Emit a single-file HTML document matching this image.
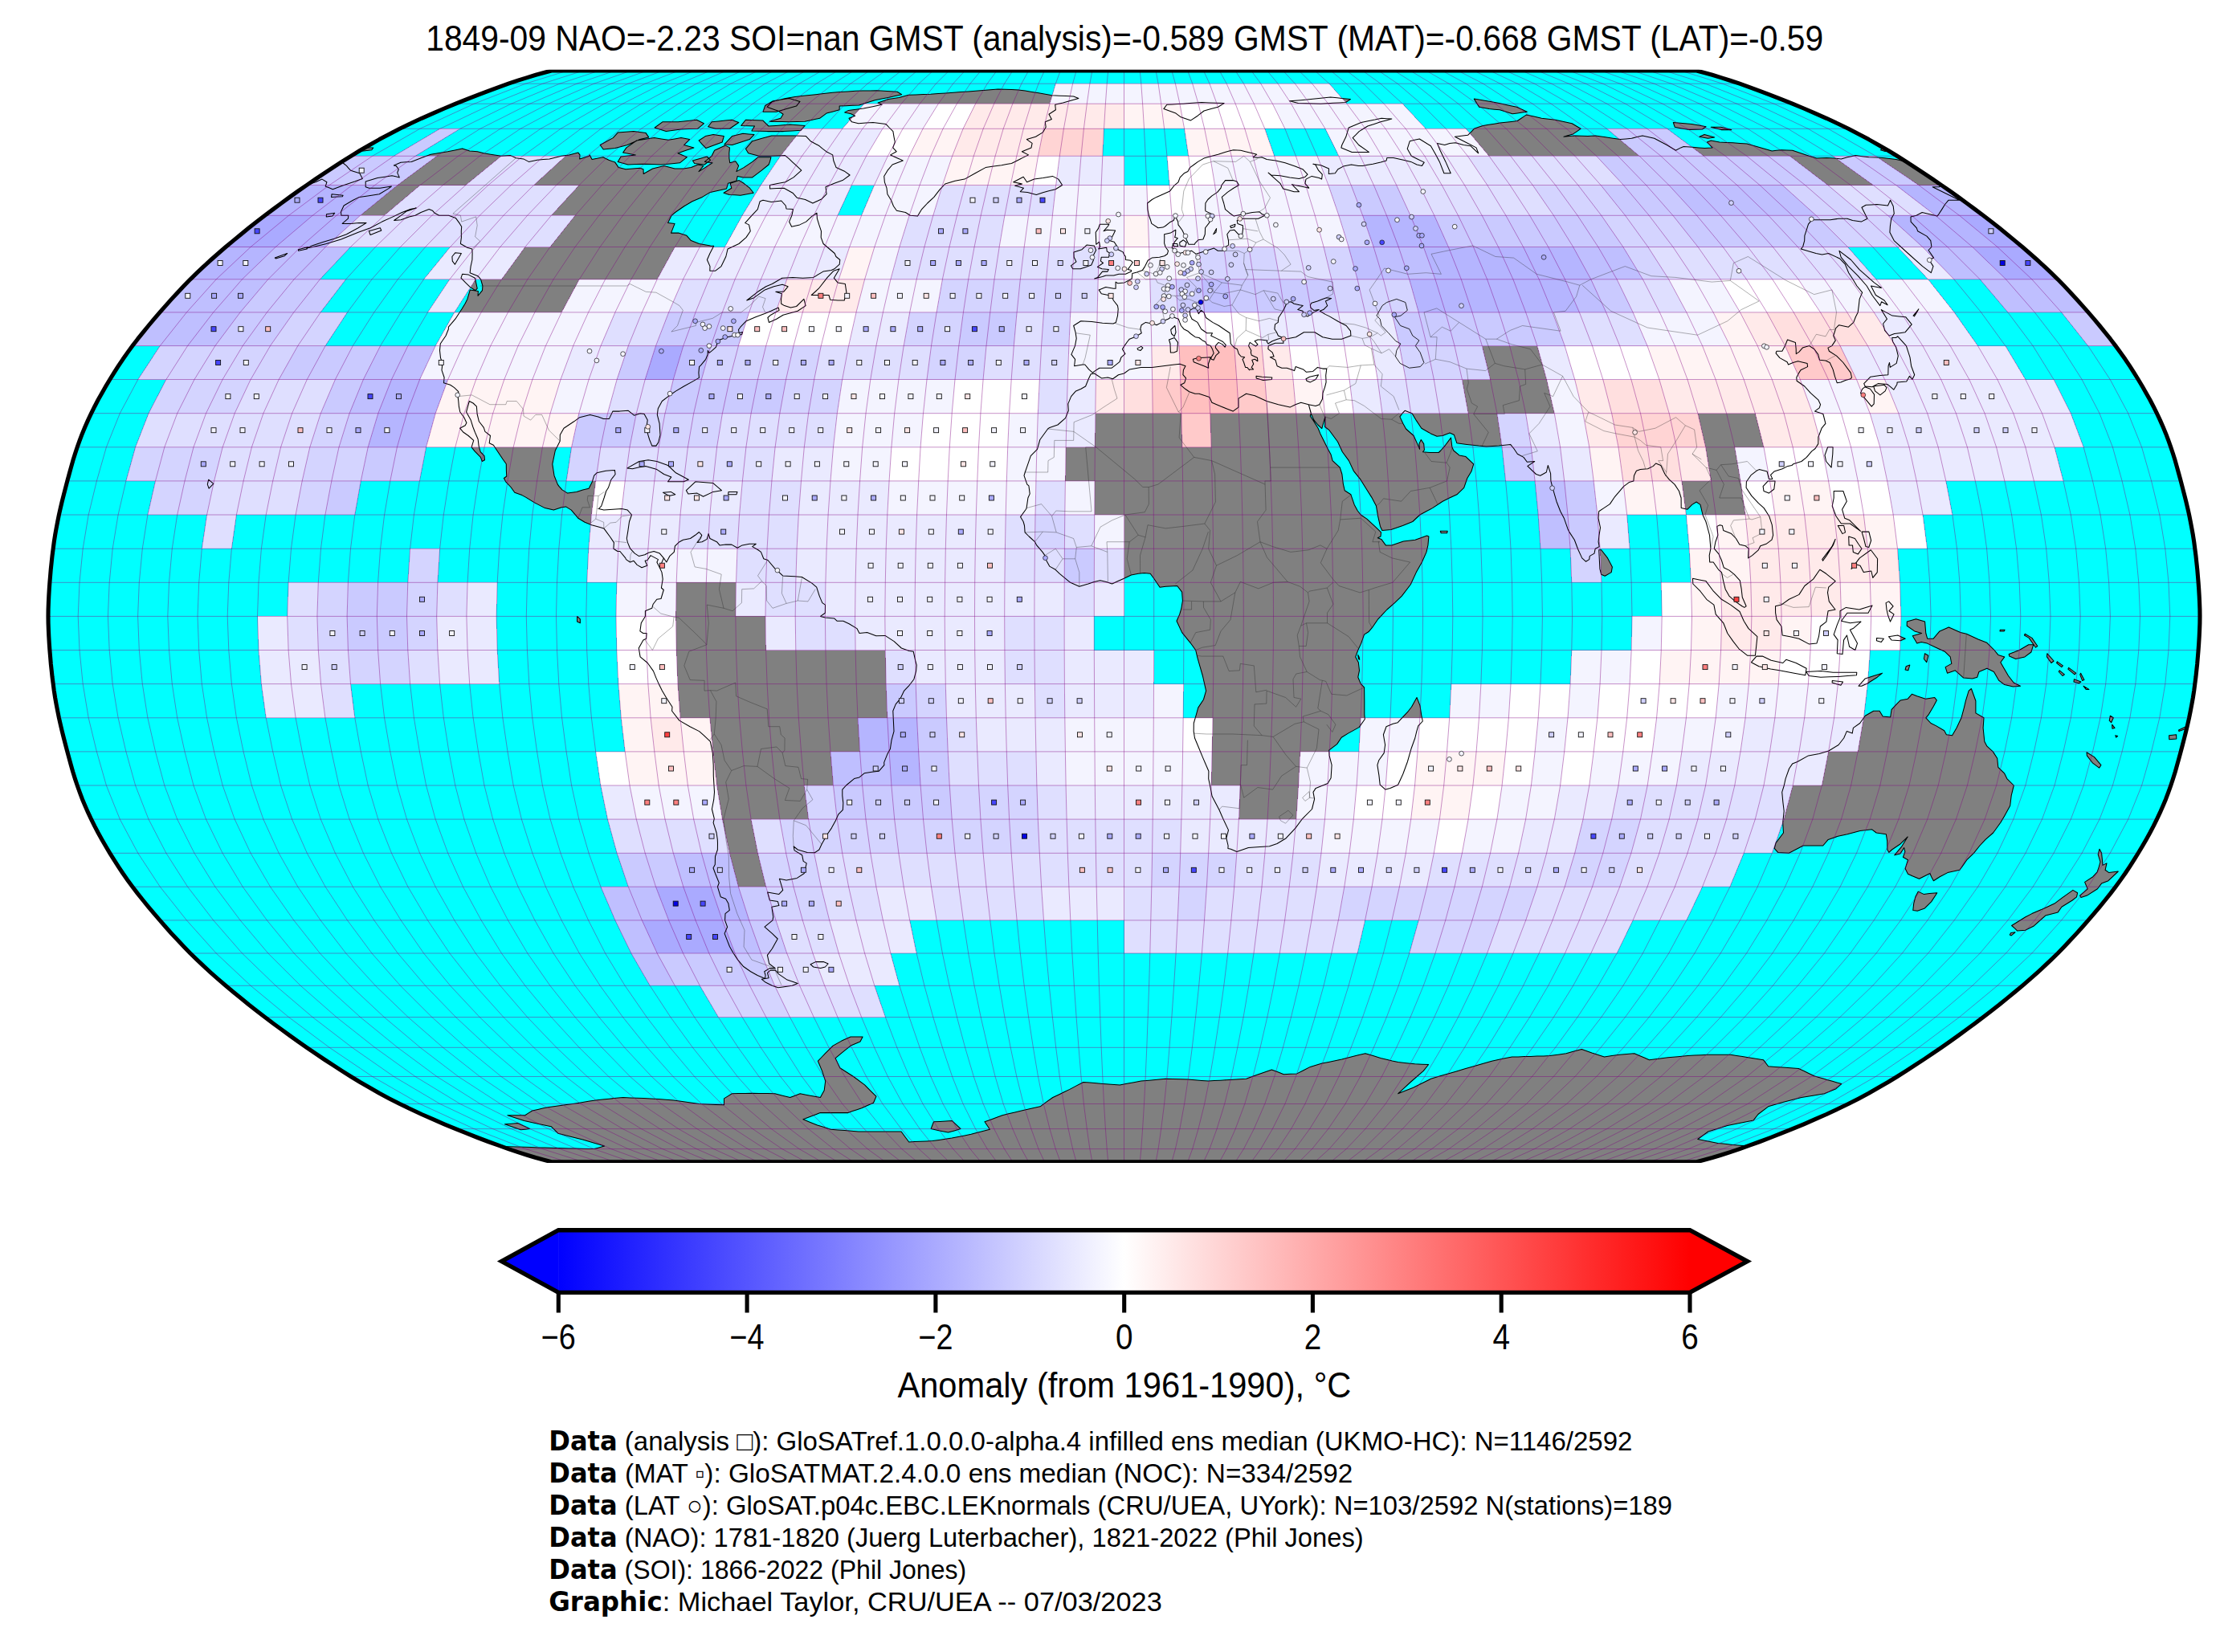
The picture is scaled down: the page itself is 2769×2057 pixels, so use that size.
<!DOCTYPE html>
<html><head><meta charset="utf-8"><title>GloSAT 1849-09</title>
<style>html,body{margin:0;padding:0;background:#fff}svg{display:block}text{font-family:"Liberation Sans","DejaVu Sans",sans-serif;fill:#000}.b{font-family:"DejaVu Sans","Liberation Sans",sans-serif;font-weight:bold}</style></head><body>
<svg width="2769" height="2057" viewBox="0 0 2769 2057">
<rect width="2769" height="2057" fill="#fff"/>
<defs><clipPath id="oc"><path d="M2112.4,88 L2121.8,90.5 L2131.9,93.3 L2142.7,96.6 L2154.1,100.2 L2166,104.2 L2178.3,108.6 L2191.2,113.3 L2204.4,118.3 L2217.9,123.6 L2231.7,129.2 L2245.8,135 L2259.9,141.1 L2274,147.3 L2287.8,153.8 L2301.3,160.3 L2314.2,166.9 L2326.7,173.6 L2338.8,180.5 L2350.6,187.3 L2362.1,194.3 L2373.4,201.4 L2384.5,208.6 L2395.5,215.8 L2406.4,223.1 L2417.1,230.5 L2427.8,237.9 L2438.3,245.4 L2448.7,253 L2459,260.6 L2469.2,268.3 L2479.3,276.1 L2489.2,283.8 L2498.9,291.7 L2508.5,299.6 L2518,307.5 L2527.2,315.5 L2536.3,323.5 L2545.2,331.6 L2553.7,339.7 L2562.1,347.8 L2570.1,356 L2577.8,364.2 L2585.4,372.4 L2592.7,380.6 L2600,388.9 L2607.1,397.2 L2614.1,405.5 L2620.9,413.8 L2627.6,422.2 L2634,430.6 L2640.1,438.9 L2646,447.3 L2651.6,455.7 L2657,464.1 L2662.2,472.5 L2667.3,481 L2672.1,489.4 L2676.8,497.8 L2681.2,506.2 L2685.4,514.7 L2689.4,523.1 L2693.1,531.5 L2696.6,539.9 L2699.8,548.4 L2702.8,556.8 L2705.6,565.2 L2708.2,573.6 L2710.6,582.1 L2712.9,590.5 L2715.2,598.9 L2717.4,607.3 L2719.6,615.8 L2721.7,624.2 L2723.7,632.6 L2725.6,641 L2727.3,649.5 L2728.9,657.9 L2730.4,666.3 L2731.7,674.7 L2732.8,683.2 L2733.9,691.6 L2734.8,700 L2735.7,708.4 L2736.4,716.9 L2737.1,725.3 L2737.7,733.7 L2738.2,742.1 L2738.6,750.6 L2738.9,759 L2739,767.4 L2738.9,775.8 L2738.6,784.2 L2738.2,792.7 L2737.7,801.1 L2737.1,809.5 L2736.4,817.9 L2735.7,826.4 L2734.8,834.8 L2733.9,843.2 L2732.8,851.6 L2731.7,860.1 L2730.4,868.5 L2728.9,876.9 L2727.3,885.3 L2725.6,893.8 L2723.7,902.2 L2721.7,910.6 L2719.6,919 L2717.4,927.5 L2715.2,935.9 L2712.9,944.3 L2710.6,952.7 L2708.2,961.2 L2705.6,969.6 L2702.8,978 L2699.8,986.4 L2696.6,994.9 L2693.1,1003.3 L2689.4,1011.7 L2685.4,1020.1 L2681.2,1028.6 L2676.8,1037 L2672.1,1045.4 L2667.3,1053.8 L2662.2,1062.3 L2657,1070.7 L2651.6,1079.1 L2646,1087.5 L2640.1,1095.9 L2634,1104.2 L2627.6,1112.6 L2620.9,1121 L2614.1,1129.3 L2607.1,1137.6 L2600,1145.9 L2592.7,1154.2 L2585.4,1162.4 L2577.8,1170.6 L2570.1,1178.8 L2562.1,1187 L2553.7,1195.1 L2545.2,1203.2 L2536.3,1211.3 L2527.2,1219.3 L2518,1227.3 L2508.5,1235.2 L2498.9,1243.1 L2489.2,1251 L2479.3,1258.7 L2469.2,1266.5 L2459,1274.2 L2448.7,1281.8 L2438.3,1289.4 L2427.8,1296.9 L2417.1,1304.3 L2406.4,1311.7 L2395.5,1319 L2384.5,1326.2 L2373.4,1333.4 L2362.1,1340.5 L2350.6,1347.5 L2338.8,1354.3 L2326.7,1361.2 L2314.2,1367.9 L2301.3,1374.5 L2287.8,1381 L2274,1387.5 L2259.9,1393.7 L2245.8,1399.8 L2231.7,1405.6 L2217.9,1411.2 L2204.4,1416.5 L2191.2,1421.5 L2178.3,1426.2 L2166,1430.6 L2154.1,1434.6 L2142.7,1438.2 L2131.9,1441.5 L2121.8,1444.3 L2112.4,1446.8 L686.6,1446.8 L677.2,1444.3 L667.1,1441.5 L656.3,1438.2 L644.9,1434.6 L633,1430.6 L620.7,1426.2 L607.8,1421.5 L594.6,1416.5 L581.1,1411.2 L567.3,1405.6 L553.2,1399.8 L539.1,1393.7 L525,1387.5 L511.2,1381 L497.7,1374.5 L484.8,1367.9 L472.3,1361.2 L460.2,1354.3 L448.4,1347.5 L436.9,1340.5 L425.6,1333.4 L414.5,1326.2 L403.5,1319 L392.6,1311.7 L381.9,1304.3 L371.2,1296.9 L360.7,1289.4 L350.3,1281.8 L340,1274.2 L329.8,1266.5 L319.7,1258.7 L309.8,1251 L300.1,1243.1 L290.5,1235.2 L281,1227.3 L271.8,1219.3 L262.7,1211.3 L253.8,1203.2 L245.3,1195.1 L236.9,1187 L228.9,1178.8 L221.2,1170.6 L213.6,1162.4 L206.3,1154.2 L199,1145.9 L191.9,1137.6 L184.9,1129.3 L178.1,1121 L171.4,1112.6 L165,1104.2 L158.9,1095.9 L153,1087.5 L147.4,1079.1 L142,1070.7 L136.8,1062.3 L131.7,1053.8 L126.9,1045.4 L122.2,1037 L117.8,1028.6 L113.6,1020.1 L109.6,1011.7 L105.9,1003.3 L102.4,994.9 L99.2,986.4 L96.2,978 L93.4,969.6 L90.8,961.2 L88.4,952.7 L86.1,944.3 L83.8,935.9 L81.6,927.5 L79.4,919 L77.3,910.6 L75.3,902.2 L73.4,893.8 L71.7,885.3 L70.1,876.9 L68.6,868.5 L67.3,860.1 L66.2,851.6 L65.1,843.2 L64.2,834.8 L63.3,826.4 L62.6,817.9 L61.9,809.5 L61.3,801.1 L60.8,792.7 L60.4,784.2 L60.1,775.8 L60,767.4 L60.1,759 L60.4,750.6 L60.8,742.1 L61.3,733.7 L61.9,725.3 L62.6,716.9 L63.3,708.4 L64.2,700 L65.1,691.6 L66.2,683.2 L67.3,674.7 L68.6,666.3 L70.1,657.9 L71.7,649.5 L73.4,641 L75.3,632.6 L77.3,624.2 L79.4,615.8 L81.6,607.3 L83.8,598.9 L86.1,590.5 L88.4,582.1 L90.8,573.6 L93.4,565.2 L96.2,556.8 L99.2,548.4 L102.4,539.9 L105.9,531.5 L109.6,523.1 L113.6,514.7 L117.8,506.2 L122.2,497.8 L126.9,489.4 L131.7,481 L136.8,472.5 L142,464.1 L147.4,455.7 L153,447.3 L158.9,438.9 L165,430.6 L171.4,422.2 L178.1,413.8 L184.9,405.5 L191.9,397.2 L199,388.9 L206.3,380.6 L213.6,372.4 L221.2,364.2 L228.9,356 L236.9,347.8 L245.3,339.7 L253.8,331.6 L262.7,323.5 L271.8,315.5 L281,307.5 L290.5,299.6 L300.1,291.7 L309.8,283.8 L319.7,276.1 L329.8,268.3 L340,260.6 L350.3,253 L360.7,245.4 L371.2,237.9 L381.9,230.5 L392.6,223.1 L403.5,215.8 L414.5,208.6 L425.6,201.4 L436.9,194.3 L448.4,187.3 L460.2,180.5 L472.3,173.6 L484.8,166.9 L497.7,160.3 L511.2,153.8 L525,147.3 L539.1,141.1 L553.2,135 L567.3,129.2 L581.1,123.6 L594.6,118.3 L607.8,113.3 L620.7,108.6 L633,104.2 L644.9,100.2 L656.3,96.6 L667.1,93.3 L677.2,90.5 L686.6,88Z"/></clipPath>
<defs><clipPath id="tb"><rect x="0" y="86.7" width="2769" height="1361.4"/></clipPath></defs>
<linearGradient id="cb" x1="0" x2="1" y1="0" y2="0"><stop offset="0" stop-color="#0000ff"/><stop offset="0.5" stop-color="#ffffff"/><stop offset="1" stop-color="#ff0000"/></linearGradient></defs>
<g clip-path="url(#oc)">
<path d="M2112.4,88 L2121.8,90.5 L2131.9,93.3 L2142.7,96.6 L2154.1,100.2 L2166,104.2 L2178.3,108.6 L2191.2,113.3 L2204.4,118.3 L2217.9,123.6 L2231.7,129.2 L2245.8,135 L2259.9,141.1 L2274,147.3 L2287.8,153.8 L2301.3,160.3 L2314.2,166.9 L2326.7,173.6 L2338.8,180.5 L2350.6,187.3 L2362.1,194.3 L2373.4,201.4 L2384.5,208.6 L2395.5,215.8 L2406.4,223.1 L2417.1,230.5 L2427.8,237.9 L2438.3,245.4 L2448.7,253 L2459,260.6 L2469.2,268.3 L2479.3,276.1 L2489.2,283.8 L2498.9,291.7 L2508.5,299.6 L2518,307.5 L2527.2,315.5 L2536.3,323.5 L2545.2,331.6 L2553.7,339.7 L2562.1,347.8 L2570.1,356 L2577.8,364.2 L2585.4,372.4 L2592.7,380.6 L2600,388.9 L2607.1,397.2 L2614.1,405.5 L2620.9,413.8 L2627.6,422.2 L2634,430.6 L2640.1,438.9 L2646,447.3 L2651.6,455.7 L2657,464.1 L2662.2,472.5 L2667.3,481 L2672.1,489.4 L2676.8,497.8 L2681.2,506.2 L2685.4,514.7 L2689.4,523.1 L2693.1,531.5 L2696.6,539.9 L2699.8,548.4 L2702.8,556.8 L2705.6,565.2 L2708.2,573.6 L2710.6,582.1 L2712.9,590.5 L2715.2,598.9 L2717.4,607.3 L2719.6,615.8 L2721.7,624.2 L2723.7,632.6 L2725.6,641 L2727.3,649.5 L2728.9,657.9 L2730.4,666.3 L2731.7,674.7 L2732.8,683.2 L2733.9,691.6 L2734.8,700 L2735.7,708.4 L2736.4,716.9 L2737.1,725.3 L2737.7,733.7 L2738.2,742.1 L2738.6,750.6 L2738.9,759 L2739,767.4 L2738.9,775.8 L2738.6,784.2 L2738.2,792.7 L2737.7,801.1 L2737.1,809.5 L2736.4,817.9 L2735.7,826.4 L2734.8,834.8 L2733.9,843.2 L2732.8,851.6 L2731.7,860.1 L2730.4,868.5 L2728.9,876.9 L2727.3,885.3 L2725.6,893.8 L2723.7,902.2 L2721.7,910.6 L2719.6,919 L2717.4,927.5 L2715.2,935.9 L2712.9,944.3 L2710.6,952.7 L2708.2,961.2 L2705.6,969.6 L2702.8,978 L2699.8,986.4 L2696.6,994.9 L2693.1,1003.3 L2689.4,1011.7 L2685.4,1020.1 L2681.2,1028.6 L2676.8,1037 L2672.1,1045.4 L2667.3,1053.8 L2662.2,1062.3 L2657,1070.7 L2651.6,1079.1 L2646,1087.5 L2640.1,1095.9 L2634,1104.2 L2627.6,1112.6 L2620.9,1121 L2614.1,1129.3 L2607.1,1137.6 L2600,1145.9 L2592.7,1154.2 L2585.4,1162.4 L2577.8,1170.6 L2570.1,1178.8 L2562.1,1187 L2553.7,1195.1 L2545.2,1203.2 L2536.3,1211.3 L2527.2,1219.3 L2518,1227.3 L2508.5,1235.2 L2498.9,1243.1 L2489.2,1251 L2479.3,1258.7 L2469.2,1266.5 L2459,1274.2 L2448.7,1281.8 L2438.3,1289.4 L2427.8,1296.9 L2417.1,1304.3 L2406.4,1311.7 L2395.5,1319 L2384.5,1326.2 L2373.4,1333.4 L2362.1,1340.5 L2350.6,1347.5 L2338.8,1354.3 L2326.7,1361.2 L2314.2,1367.9 L2301.3,1374.5 L2287.8,1381 L2274,1387.5 L2259.9,1393.7 L2245.8,1399.8 L2231.7,1405.6 L2217.9,1411.2 L2204.4,1416.5 L2191.2,1421.5 L2178.3,1426.2 L2166,1430.6 L2154.1,1434.6 L2142.7,1438.2 L2131.9,1441.5 L2121.8,1444.3 L2112.4,1446.8 L686.6,1446.8 L677.2,1444.3 L667.1,1441.5 L656.3,1438.2 L644.9,1434.6 L633,1430.6 L620.7,1426.2 L607.8,1421.5 L594.6,1416.5 L581.1,1411.2 L567.3,1405.6 L553.2,1399.8 L539.1,1393.7 L525,1387.5 L511.2,1381 L497.7,1374.5 L484.8,1367.9 L472.3,1361.2 L460.2,1354.3 L448.4,1347.5 L436.9,1340.5 L425.6,1333.4 L414.5,1326.2 L403.5,1319 L392.6,1311.7 L381.9,1304.3 L371.2,1296.9 L360.7,1289.4 L350.3,1281.8 L340,1274.2 L329.8,1266.5 L319.7,1258.7 L309.8,1251 L300.1,1243.1 L290.5,1235.2 L281,1227.3 L271.8,1219.3 L262.7,1211.3 L253.8,1203.2 L245.3,1195.1 L236.9,1187 L228.9,1178.8 L221.2,1170.6 L213.6,1162.4 L206.3,1154.2 L199,1145.9 L191.9,1137.6 L184.9,1129.3 L178.1,1121 L171.4,1112.6 L165,1104.2 L158.9,1095.9 L153,1087.5 L147.4,1079.1 L142,1070.7 L136.8,1062.3 L131.7,1053.8 L126.9,1045.4 L122.2,1037 L117.8,1028.6 L113.6,1020.1 L109.6,1011.7 L105.9,1003.3 L102.4,994.9 L99.2,986.4 L96.2,978 L93.4,969.6 L90.8,961.2 L88.4,952.7 L86.1,944.3 L83.8,935.9 L81.6,927.5 L79.4,919 L77.3,910.6 L75.3,902.2 L73.4,893.8 L71.7,885.3 L70.1,876.9 L68.6,868.5 L67.3,860.1 L66.2,851.6 L65.1,843.2 L64.2,834.8 L63.3,826.4 L62.6,817.9 L61.9,809.5 L61.3,801.1 L60.8,792.7 L60.4,784.2 L60.1,775.8 L60,767.4 L60.1,759 L60.4,750.6 L60.8,742.1 L61.3,733.7 L61.9,725.3 L62.6,716.9 L63.3,708.4 L64.2,700 L65.1,691.6 L66.2,683.2 L67.3,674.7 L68.6,666.3 L70.1,657.9 L71.7,649.5 L73.4,641 L75.3,632.6 L77.3,624.2 L79.4,615.8 L81.6,607.3 L83.8,598.9 L86.1,590.5 L88.4,582.1 L90.8,573.6 L93.4,565.2 L96.2,556.8 L99.2,548.4 L102.4,539.9 L105.9,531.5 L109.6,523.1 L113.6,514.7 L117.8,506.2 L122.2,497.8 L126.9,489.4 L131.7,481 L136.8,472.5 L142,464.1 L147.4,455.7 L153,447.3 L158.9,438.9 L165,430.6 L171.4,422.2 L178.1,413.8 L184.9,405.5 L191.9,397.2 L199,388.9 L206.3,380.6 L213.6,372.4 L221.2,364.2 L228.9,356 L236.9,347.8 L245.3,339.7 L253.8,331.6 L262.7,323.5 L271.8,315.5 L281,307.5 L290.5,299.6 L300.1,291.7 L309.8,283.8 L319.7,276.1 L329.8,268.3 L340,260.6 L350.3,253 L360.7,245.4 L371.2,237.9 L381.9,230.5 L392.6,223.1 L403.5,215.8 L414.5,208.6 L425.6,201.4 L436.9,194.3 L448.4,187.3 L460.2,180.5 L472.3,173.6 L484.8,166.9 L497.7,160.3 L511.2,153.8 L525,147.3 L539.1,141.1 L553.2,135 L567.3,129.2 L581.1,123.6 L594.6,118.3 L607.8,113.3 L620.7,108.6 L633,104.2 L644.9,100.2 L656.3,96.6 L667.1,93.3 L677.2,90.5 L686.6,88Z" fill="#00ffff"/>
<defs><path id="land" d="M1358.2,465.8 1362.5,465 1371.5,470.9 1379.2,470 1385.5,471.7 1392.5,466.7 1399.5,465 1406.5,459.9 1420.4,457.4 1434.3,457.4 1448.2,455.7 1462.1,454 1469,453.2 1476,455.7 1473.4,460.8 1472.9,466.7 1476.6,470.9 1474.7,476.8 1469.9,479.3 1475.7,484.3 1480.7,487.7 1487.9,490.2 1492.9,490.2 1505.8,494.4 1508.9,501.2 1520.6,506.2 1535.1,512.1 1542,507.1 1542,496.1 1551.6,490.2 1562.4,492.8 1577,499.5 1591.6,503.7 1606.1,507.1 1612.9,503.7 1619.8,501.2 1629.3,503.7 1632.4,514.7 1631.3,518 1635.3,523.9 1641.1,533.2 1643.8,539.9 1648.8,550 1653,558.5 1657.1,566.1 1659.1,573.6 1668.3,582.1 1670.9,590.5 1672.3,602.3 1674.2,610.7 1681.9,615.8 1686.2,628.4 1690.3,636 1694.2,641 1701.8,646.1 1712.6,656.2 1718,661.3 1719.5,662.9 1719,668 1715.3,669.7 1719.8,671.4 1725.3,678.9 1732.7,678.9 1747.3,673.9 1762,672.2 1776.6,667.1 1778.9,668 1777.9,678.9 1776,687.4 1770.4,700 1763.3,712.6 1756.3,727.8 1745.3,742.1 1736.5,750.6 1726.9,759 1715.8,770.8 1708.3,781.7 1703.8,786.8 1698.5,790.1 1694.7,801.1 1690.8,809.5 1687.7,817.9 1691.3,824.7 1692.5,834.8 1690.8,843.2 1694.3,851.6 1698.6,855.9 1698.8,872.7 1698.8,889.6 1699.3,895.5 1692.1,905.6 1678.5,913.1 1670.2,918.2 1664.6,926.6 1654.7,934.2 1655.1,940.9 1658.1,952.7 1657.1,968.7 1653.1,975.5 1638.2,981.4 1635,986.4 1636.6,994.9 1633.5,1007.5 1621.7,1019.3 1612.9,1031.1 1601.2,1043.7 1590,1050.5 1580.5,1053.8 1572.7,1054.3 1565,1054.7 1554.3,1055.5 1539.9,1060.6 1532.4,1057.2 1528.9,1056.4 1529.1,1053 1526.9,1043.7 1529.5,1033.6 1523.1,1020.1 1517.9,1008.3 1509.1,991.5 1507,980.5 1504.7,969.6 1504.9,960.3 1501.1,951.5 1497.3,942.6 1492.4,930.8 1487.5,919 1486.2,910.6 1486.3,900.5 1489.1,890.8 1491.8,881.1 1498.5,871 1501.6,860.1 1499.5,850.8 1497.4,841.5 1494.1,830.2 1490.9,818.8 1488.7,809.5 1482,800.3 1471.7,787.6 1465,773.3 1468.7,764.9 1470.9,757.3 1472.4,748 1471.6,737.1 1465.7,729.5 1451.5,730.3 1444.1,731.2 1436.6,720.2 1432.2,714.3 1424.7,713.5 1417.3,714.3 1408.4,716 1399.5,720.2 1392.1,723.6 1384.6,727 1377.2,724.4 1369.8,722.8 1362.3,724.4 1354.9,727 1343.8,730.3 1332.6,725.3 1319.3,714.3 1314.1,709.3 1306.7,705.1 1301.6,695.8 1300.9,691.6 1298,687.4 1290.7,678.9 1288.5,674.7 1281.2,668 1276.1,662.9 1275.5,654.5 1274.1,649.5 1270.5,643.6 1277.3,634.3 1278.1,632.6 1279.9,620 1282.2,614.9 1280.9,604.8 1278.8,603.1 1275,592.2 1276.3,588 1279.8,577.8 1283.3,567.7 1291.5,559.3 1294.8,547.5 1304.6,534 1306.8,532.4 1316.9,529 1326.5,520.6 1330.3,511.3 1329.8,502.9 1333.6,493.6 1339.5,486.9 1345.9,484.3 1351.6,481 1355.3,471.7ZM1764,868.5 1768,878.6 1769.6,889.6 1771.3,898 1765.8,903.9 1763.8,910.6 1761.8,919 1757.2,931.7 1752.4,948.5 1746.8,963.7 1740.6,977.2 1730.8,981.4 1724.9,983.1 1718.2,977.2 1716.9,965.4 1714.9,952.7 1716.7,946.8 1723.2,937.6 1724.6,927.5 1722.4,914.8 1726,904.7 1734.3,901.3 1740.3,899.7 1747.3,892.1 1753.6,885.3 1757.5,880.3ZM826.3,694.9 829.8,700 833.8,692.4 839.3,687.4 840.4,679.8 845.9,674.7 850.5,672.2 859.5,670.5 865.7,666.3 870.4,662.5 873.8,666.3 872.1,670.5 868.1,675.6 874,674.7 880.2,671.4 882.1,664.6 883.9,670.5 892.5,674.7 896,678.9 903.5,678.1 910.9,678.1 918.1,682.3 924.1,678.9 933.1,677.3 941.3,677.3 936.7,680.6 943.9,684.8 947.5,687.4 950.8,695.8 956,697.5 965.2,708.4 967.4,710.1 974.6,716.9 989.5,717.7 998.4,718.5 1010.8,726.1 1016.7,731.2 1020.2,742.1 1023.8,750.6 1027.5,753.1 1027.4,763.2 1021.5,767.4 1027.4,769.1 1038.6,769.9 1042.3,773.3 1049.8,773.3 1057.2,776.7 1066.9,782.6 1070,788.5 1079.6,787.6 1090.8,791.8 1102,791.4 1113.2,798.6 1122.3,807 1132,810.4 1137.2,811.2 1139.6,822.2 1141.2,828.1 1140.6,835.6 1137.9,845.7 1131.4,854.2 1125.7,860.1 1120.8,870.2 1115.2,876.9 1111.8,885.3 1112.4,898 1113,910.6 1110,921.6 1108.4,932.5 1105.1,938.4 1100.7,949.4 1100.9,952.7 1094.1,960.3 1085.4,961.2 1076.1,962.8 1069.9,967.9 1063.5,969.6 1053.4,978 1048.8,983.1 1048.8,990.6 1049.8,999.9 1049.4,1008.3 1043.7,1014.2 1040.4,1021.8 1035.3,1031.1 1030.1,1038.7 1023,1051.3 1019.9,1058 1014.3,1061.8 1005.1,1061.4 993.2,1058 988.2,1053.8 989.1,1058.9 998.7,1064.8 1000.2,1072.4 1004.2,1074.9 1001.3,1087.5 992.3,1093.4 979.1,1095.9 970.4,1094.2 974.7,1108.4 969.9,1113.4 955.6,1110.9 958.4,1121 968.4,1122.6 969.9,1127.6 960.9,1129.3 962.7,1141.7 962,1145.9 952,1154.2 961.4,1162.4 968.2,1169 961.4,1181.3 955.4,1189.4 957.7,1200 965.2,1205.6 958.2,1205.6 951.7,1209.7 953.1,1214.5 952.4,1218.5 943.1,1214.5 934.6,1209.7 925.3,1203.2 918.6,1195.1 913.2,1187 908.5,1178.8 905.3,1170.6 902.1,1162.4 905.6,1154.2 902.6,1145.9 903,1137.6 908.3,1133.4 906.9,1125.1 903.6,1119.3 897.3,1116.8 893.4,1104.2 895.3,1099.2 890.5,1087.5 888,1080.8 890.3,1076.6 890.5,1066.5 893.4,1058 893.5,1049.6 893.3,1045.4 892.1,1037 888.1,1024.3 889.3,1019.3 886.4,1007.5 888.7,995.7 889.5,986.4 889,978 888.3,966.2 888.2,952.7 887.3,937.6 884.4,923.3 876.3,915.7 870.6,910.6 859,904.7 845.8,897.1 836.6,885.3 837,880.3 829.4,868.5 824.4,860.1 820.2,851.6 816.9,844.1 813.5,835.6 806.3,825.5 797.1,817.9 795.3,807 800.9,796.9 804.6,795.2 805.1,788.5 800.7,788.5 796.9,785.9 798.3,775.8 803.4,767.4 803.4,760.7 811.7,757.3 813.2,752.2 817.8,746.3 823,745.5 826.3,734.5 823.4,732 825.2,721.1 824,712.6 821.3,706.7ZM965.5,1208.1 969.5,1212.9 980.1,1220.1 993.2,1224.5 986.3,1227.3 974.6,1228.9 968.7,1229.7 961.4,1227.3 953.4,1223.3 948.4,1219.3 957.1,1217.7 955.5,1211.3 959.2,1208.1ZM1009.1,1200.8 1015.6,1197.6 1025.2,1197.6 1031.1,1200 1027.4,1204 1021.7,1205.6 1012.8,1204ZM455.2,226 470.1,221.6 479.1,220.2 488,218.7 492.7,219.8 497.3,220.9 494.7,215.1 496.3,210.7 493.1,206.4 490.3,206 499,202.3 505.6,201.8 512.2,201.4 524.8,196.4 536.3,192.2 546.8,190.5 557.4,188.7 566.5,186.9 575.6,184.9 580.2,186.5 584.8,188 594.4,188.7 602.1,190.8 610.9,192.2 617.5,193.3 624.1,194.3 635.7,193.6 642.4,196.8 651.8,197.9 658.3,201.4 668.9,199.3 676.5,198.6 684.1,197.9 699,194.3 708.6,192.9 719.9,190.1 722,192.9 721.7,197.9 733.7,194.3 734.2,192.9 737.1,198.6 750.9,195.7 757.9,199.3 765.8,202.1 770.2,208.6 779,210.7 788,210 796.9,209.3 801,210.7 801.2,216.5 812.6,210 826.8,206.4 833.4,208.2 840.1,210 851,210 860.5,208.6 869,205 875.9,206.4 870,213.6 878,208.6 887,202.8 877.4,201.4 886.1,194.3 889.6,187.3 903.1,181.1 908.5,183.9 907.8,190.8 907.9,197.1 908.7,202.8 915.8,200.7 919.6,206.4 916.9,213.6 926.1,208.6 936.9,201.4 943.9,195.7 951.9,195.7 960,195.7 958.5,201.4 957.1,205 948.3,212.2 936.7,220.9 925.6,220.9 918.2,219.4 916.9,225.3 906.4,228.3 904.6,234.9 891.1,237.9 884.3,239.4 874.3,245.4 861.9,250.7 851.8,256.8 840.6,264.5 836.1,268.3 831.6,277.6 840.1,278.4 835.5,290.1 844.7,290.1 854.9,293.3 860.4,299.6 870.5,303.5 877.5,304.7 884.6,305.9 888.7,306.3 883.9,315.5 880.4,323.5 884,331.6 883.8,337.2 890.8,337.2 898,331.6 903.8,319.5 906.1,309.9 920,303.5 929,295.6 934.3,287.8 932.5,279.9 927.7,277.6 936,268.3 943.3,260.6 946.2,250.7 950,249.2 960.3,251.5 972.8,250 978.2,256 979,259.9 987.5,260.6 985.9,268.3 982.6,276.1 985.6,282.3 995.7,279.9 1003.6,276.1 1011.1,269.1 1017,265.2 1017.4,272.2 1019.8,279.9 1022.5,287.8 1022.2,295.6 1025.1,303.5 1029.8,307.5 1034.5,311.5 1039.2,315.5 1040.9,319.5 1045.8,323.5 1045.2,329.2 1038.8,334.8 1035.1,336.4 1024.9,338.1 1012.8,345.4 999.6,346.2 987,345.4 973.8,346.2 961.4,353.5 953.7,356.8 943.5,363.3 929.8,374 938.9,370.7 952.3,360.9 963.5,356.8 974.1,354.3 981.1,356.8 975.6,363.3 965.8,363.3 973.4,365.8 972.6,372.4 972.7,378.2 976.6,380.6 984.4,383.1 991.6,381.5 1000.9,372.4 1003.1,380.6 993.2,387.3 984.1,389.7 975,392.2 966.8,397.2 957.4,401.4 955.9,395.5 959.6,392.2 970.1,386.4 969.2,383.1 959.9,387.3 952.1,390.6 940.8,394.7 929.1,399.7 921.9,407.2 919.5,410.5 920.2,414.7 924.6,413.4 923.7,416.3 917.7,418 913.7,418 905.6,419.7 896.4,423 893.6,425.5 891.5,432.2 886.8,436.4 883.1,439.4 881.3,436.4 881.1,441.4 878.7,447.3 872.5,454.9 870.6,456.6 869.9,464.1 870.4,470.4 862.2,475.1 851.5,481 841.6,486.9 833,492.8 824.3,499.5 819.3,508.8 818.3,516.4 821.1,527.3 822,541.6 819.7,550.9 816.9,555.1 811.8,555.1 808.7,547.5 806.9,541.6 804.8,533.2 806.2,523.1 802.1,515.5 797.3,514.7 789.5,517.2 782.3,511.3 771.4,512.1 762.9,512.1 758.5,521.4 751.4,521.4 744.8,518.9 734.7,516.4 721.7,519.7 714.7,524.8 702,533.2 697.3,541.6 697.2,549.2 691.3,561 687.8,577.8 690,592.2 694.3,603.1 696.1,605.6 699.9,609.9 706.7,614.1 717.9,612.4 725.6,609.9 733.1,608.2 737.1,600.6 739.7,592.2 743,588.8 754.3,586.3 765.4,585.4 766.1,590.5 760.9,597.2 757.4,607.3 754.7,611.5 752.1,620 748.7,630.1 745.4,633.5 751.8,635.1 763,634.3 774.1,633.5 781.3,635.1 786.5,641 783.5,649.5 781.7,662.1 780.3,670.5 781.5,675.6 784.7,683.2 790.3,689.1 795.3,692.4 802.8,690.7 807.4,688.2 814.1,686.5 821.4,689.1 826.3,694.9 821.3,706.7 817.9,700 819.5,696.6 810.1,691.6 806.1,697.5 803.1,698.3 805.8,704.2 799,706.7 793.2,703.4 789,698.3 784.5,700 779.5,696.6 778.8,694.9 771.9,686.5 768.9,686.5 763.9,683.2 764.4,675.6 759.8,668.8 753.1,659.6 751.8,657.9 746,656.2 736.7,653.7 728.1,650.3 719.8,645.2 711.3,635.1 704.5,630.9 699.2,631.8 689.3,635.1 678.5,632.6 665.5,625.9 654.6,619.1 649.9,616.6 640.8,613.2 636,606.5 629.7,599.8 627.4,595.5 630.8,593 630.4,586.3 630.3,577.8 626.2,572 620,562.7 614.4,554.3 609.2,551.7 610.5,542.5 603.9,537.4 602.3,532.4 596.4,524.8 594.1,515.5 593.4,506.2 589.1,502 584.3,499.5 580.6,513 586.2,523.1 588.8,531.5 591.4,538.3 595.1,546.7 596.1,555.1 598.2,562.7 603,567.7 603.5,572.8 600.3,574.5 598.4,569.4 591.1,561.8 587.1,556.8 589.7,548.4 583.1,542.5 577,538.3 572.6,533.2 579.2,529.8 580.9,526.5 577.8,519.7 572.8,513 571.4,506.2 570.8,499.5 570.1,493.6 570.8,487.7 565.6,482.6 560.6,479.3 552.5,476.8 553.1,470 550,460.8 550.5,456.6 550,449.8 548.5,445.6 547.5,436.4 548.3,428 555.1,418 558.4,409.7 558.4,407.2 566.9,397.2 575,384.8 579,378.2 581.9,372.4 585.3,360.9 595.4,362.5 595,368.3 600.5,361.7 600.9,356 598.6,347.8 595,343.7 585.1,339.7 586.1,331.6 587.9,323.5 588.1,315.5 587.8,309.9 581.7,308.3 573.4,303.5 574.4,295.6 574.3,287.8 574.7,282.3 572.4,278.4 567.3,271.4 558.6,268.3 546.7,268.3 541,265.2 538.4,262.2 534.2,260.6 524.1,264.5 517,268.3 509.4,269.9 499.2,273.7 490.6,274.5 499.1,268.3 506.3,262.9 518.3,259.1 510.7,260.6 500.5,264.5 487.7,270.6 475.7,276.1 461.2,283.8 446.1,289.3 424.6,298 406.4,303.5 389.8,307.5 381.8,309.1 388.3,305.9 402.7,301.2 416.2,297.2 431.4,291.7 446,283.8 456,277.6 446.9,277.6 437,278.4 426.2,278.4 433.4,272.2 433.8,268.3 424.9,268.3 424.5,263.7 428.1,256 439.6,249.2 447.3,245.4 457.8,243.9 472.2,241.7 483.6,234.9 487.4,232 473.2,234.2 466.3,234.2 459.5,234.2 455.2,232.7ZM1051.7,139.9 1059.6,141.7 1064.6,144.2 1057,147.3 1060.6,151.8 1068.9,153.8 1078,153.1 1087.1,152.5 1095,153.4 1102.9,154.4 1107.3,159 1111.9,163.6 1113,170.3 1114.3,177 1111.7,183.9 1116.1,188.7 1108.7,192.9 1114.2,195.4 1119.8,197.9 1124.2,200 1111.1,205 1105.1,212.2 1100.7,219.4 1101.4,226.8 1104,234.2 1104.9,241.7 1109.5,249.2 1112.5,256.8 1116.4,262.2 1127.4,264.5 1133.3,268.3 1142.5,269.1 1147.6,260.6 1154.7,253 1162.9,245.4 1169.8,236.4 1176.7,229 1189.1,225.3 1200.9,223.1 1214.1,215.8 1227.1,208.6 1237.1,207.1 1247,205.7 1253.2,204.6 1259.4,203.5 1266.4,200 1273.4,196.4 1280.5,192.9 1272.4,188.7 1284,183.9 1285.1,178.4 1278.4,173.6 1289.5,170.3 1298.3,164.9 1302.2,158.3 1301.3,151.8 1309.3,148.6 1306,142.3 1314.4,136.8 1313.7,130.3 1323.5,128 1333.2,125.2 1342.9,122.5 1336.6,119.9 1327.7,119.5 1318.8,119.2 1309.9,118.8 1301.5,117.3 1293.1,115.8 1284.7,114.4 1276.4,113.1 1268.2,111.9 1259.6,111.5 1251,111.2 1242.5,110.9 1233.3,111.7 1224.1,112.5 1214.8,113.3 1205.6,113.9 1196.3,114.6 1187,115.3 1177.7,115.9 1168.3,116.6 1158.8,117.3 1149.6,117.6 1140.5,117.9 1131.2,118.3 1119.5,121.4 1112.9,122.5 1106.2,123.6 1093.1,128 1098,130.3 1086.6,132.7 1075.1,135 1065.8,136.2 1056.4,137.4ZM988.7,168.9 996.1,169.3 1003.5,169.6 1009.1,175.7 1014.6,178.7 1020.2,181.8 1024.4,185.3 1028.7,188.7 1036.7,192.9 1037.8,200 1041.1,208.6 1046.5,211.1 1052,213.6 1058.1,218 1049.1,224.6 1038.8,228.3 1028,232.7 1029.1,241.7 1023.2,247.7 1011.9,253 1002.6,248.5 992.2,246.2 986.9,240.2 981.5,237.2 976.1,234.2 967.4,234.6 958.6,234.9 958.5,230.5 968.1,228.6 977.7,226.8 988,220.9 997.8,212.2 990.9,205.7 986.7,201.8 982.6,197.9 977.5,193.6 969.3,194 961,194.3 953,194.3 945,194.3 938.3,192.6 931.7,190.8 928.4,185.3 936.7,175.7 948.7,172.3 960.7,168.9 968.3,168.9 976,168.9 982.3,168.9ZM958.1,151.2 966.1,151.4 974,151.6 982,151.8 992.1,151.5 1002.2,151.2 1011.4,149.2 1020.6,147.3 1029,141.1 1037.1,138.9 1045.1,136.8 1045.2,132.1 1053.3,131.7 1061.4,131.3 1069.6,130.9 1079.5,127.8 1089.3,124.7 1097.7,123.1 1105.9,121.4 1114.4,119.6 1122.7,117.8 1117.1,114.3 1108.7,113.8 1100.4,113.3 1092.1,112.8 1083.2,113 1074.2,113.1 1065.2,113.3 1055.7,113.9 1046.1,114.6 1036.5,115.3 1027.8,116.3 1019.2,117.3 1010.5,118.3 1000.2,119.3 989.9,120.4 978.1,122.5 969.9,124.4 961.6,126.4 955.1,133.2 959.9,135 964.8,136.8 969.7,138.6 975.1,142.3 972,147.3ZM950,139.2 958.3,139.2 966.7,139.2 979.2,135.6 991.5,132.1 996,126.4 989.3,124.4 982.6,122.5 972.5,124.1 962.4,125.8 952.7,131.5ZM928.4,149.2 935.5,149.4 942.6,149.7 949.7,149.9 953.2,153.4 956.9,157 965.9,156.4 974.8,155.7 983.7,155.1 993,155.7 1002.3,156.4 997,162.3 986.3,162.9 975.6,163.6 965.5,163.6 955.4,163.6 945.7,163.3 935.9,162.9 939.5,157 931.2,156.7 922.8,156.4ZM779.9,183.9 792.6,175 803.7,173.3 814.6,171.6 823.3,173 832.1,174.3 840.1,173 848,171.6 853.3,172.6 858.6,173.6 851.6,180.5 857.7,182.2 863.9,183.9 854,187.3 844,190.8 849.7,193.3 855.4,195.7 846.4,202.8 834.6,203.9 822.7,205 812.2,204.6 801.6,204.3 791.8,204.6 781.9,205 775.5,203.2 769.2,201.4 773.1,195 782.2,194 791.3,192.9 783.5,191.5 775.6,190.1ZM747.2,180.5 751.2,186 758.6,185.3 765.9,184.6 781.1,180.5 796.8,173.6 807.7,170.9 804.1,165.6 796.5,164.6 788.9,163.6 779.2,164.3 769.5,164.9 763.3,171.6ZM815.1,159 822.1,161.3 829.3,163.6 838.5,162.3 847.6,161 858.1,160.6 868.5,160.3 876.4,153.8 871.9,151.5 867.4,149.2 856,150.5 844.4,151.8 834.6,151.8 824.8,151.8ZM870.1,175 874.4,179.8 879,184.6 889.1,180.8 899.2,177 901.3,169.6 894.7,168.6 888.1,167.6 878.3,169.6ZM901.8,179.8 911.6,180.5 922.5,177 933.3,173.6 939,167.6 932,166.9 925,166.3 911.5,169.6ZM886.2,151.8 894.6,151 903,150.1 911.4,149.2 915.6,150.9 919.8,152.5 908.5,160.3 899.8,160.3 891,160.3 886.3,159 881.6,157.7ZM862.4,200 871.3,197.5 880.2,195 884.6,199.3 877.1,205 870.9,204.3 864.7,203.5ZM909.2,228.3 920.2,224.6 926.1,228.3 933.5,234.2 938.2,240.2 930.1,241.7 921.9,243.2 915,242.8 908.1,242.4 901,240.2 910.8,234.2ZM1010.3,367.5 1019.4,359.2 1030.2,345.4 1038,337.2 1045.2,334.8 1038.3,346.2 1043,351.9 1052.3,353.5 1053.9,364.2 1051.2,374 1043.3,374 1033.6,373.2 1032,367.5 1018.8,367.5ZM575.6,341.3 583.3,342.1 591.4,346.2 594.2,359.2 592,361.7 585.5,357.6 579.6,351.9 574,346.2ZM566.9,314.7 574.4,315.5 566.4,329.2 563.3,325.1 562.9,319.5ZM459.4,287.8 473.3,283.8 474.8,287 461.1,292.5ZM781,582.9 795.9,574.5 807.1,572.8 817.8,574.5 831.7,579.5 841.5,588.8 849.4,593 857.3,597.2 851.2,599.8 841.3,599.8 831.5,599.8 835.8,593.9 826.7,590.5 817.9,584.6 803.9,580.4 794.9,582.1 787.4,583.7ZM854.4,610.7 865.8,599.8 875.3,600.6 887.6,601.4 898.4,610.7 887.9,612.4 875.6,618.3 868,614.1 856.9,614.9ZM825.5,613.2 835.2,612.4 840.7,615.8 833.1,617.4ZM907,612.4 918,612.4 916.9,615.8 906.7,615.8ZM1261.7,226.8 1274.2,220.2 1278.6,226.8 1287.6,223.1 1299,221.6 1310.5,219.4 1317.8,223.1 1322.6,230.5 1314.1,235.7 1306.7,237.5 1299.3,239.4 1290.3,242.4 1279.3,239.4 1270.3,238.7 1274.5,234.2 1263.7,231.2 1272.6,229ZM1360.4,464.1 1355.6,459.9 1350.8,454 1348.1,454 1337.6,455.7 1338.6,447.3 1333.9,441.4 1338.5,430.6 1340.2,421.4 1339.1,413.8 1336.7,405.5 1345.7,399.7 1359.2,400.5 1372.6,402.2 1386,403 1389.4,401.4 1391.5,393.1 1392.2,384.8 1391.5,380.6 1386.3,374 1385,370.7 1379.8,367.5 1371.3,365.8 1368.2,360.9 1376.7,357.6 1386.5,359.2 1389.1,359.2 1389.1,351.1 1391.7,352.7 1400.1,351.9 1409.2,347 1409.8,340.5 1415.5,338.9 1422.5,336.4 1425.6,331.6 1429.2,324.3 1434.2,321.1 1443.6,320.3 1449.8,318.7 1453.4,316.3 1454.5,312.3 1451.1,307.5 1449.6,302.8 1449.8,295.6 1449.6,291.7 1457.4,290.1 1463.8,286.2 1463.6,291.7 1462.7,295.6 1466.4,296.4 1462.5,301.2 1460.2,305.1 1459.2,308.3 1461.9,311.5 1468.4,315.5 1474.6,313.9 1483.8,312.3 1489.2,316.3 1499.5,313.1 1511.5,309.1 1516.3,312.3 1523.1,312.3 1523.9,308.3 1529.7,305.1 1529.5,299.6 1527.8,291.7 1531.3,287 1536.7,286.2 1541.8,291.7 1546.7,291.7 1547.5,285.4 1547.3,280.7 1540.9,278.4 1540.2,274.5 1547.6,272.2 1557.7,272.2 1566.7,272.2 1574.8,268.3 1579.1,269.1 1571.5,266.8 1567.9,263.7 1559.2,264.5 1547.8,266.8 1536.3,269.1 1530.9,265.2 1525.5,260.6 1523.7,253 1521.3,245.4 1528.3,239.4 1535.9,234.2 1542.5,230.5 1539.9,226 1535.2,224.6 1525.6,224.6 1521,230.5 1520,234.2 1515.7,239.4 1508.9,243.9 1503.8,248.5 1500.9,253 1500.7,260.6 1501,262.9 1509.2,266.8 1512,269.9 1507.8,273.7 1504.8,278.4 1500.6,283.8 1500.3,291.7 1497.9,298 1491.8,298.8 1487.9,302.8 1487.4,304.3 1480,304.3 1477.7,299.6 1476.2,295.6 1472.5,287.8 1471.7,286.2 1467,279.9 1466.7,276.1 1463.1,269.1 1461.2,274.5 1456.5,276.8 1450.8,281.5 1447.9,283.1 1441.9,283.8 1433.8,278.4 1432.4,273.7 1430.4,268.3 1428.9,260.6 1428.6,253 1434.3,248.5 1439.9,245.4 1448.3,241.7 1456.6,237.9 1461.8,231.2 1467,226.8 1469.2,220.9 1474.2,215.8 1478.9,213.6 1481.6,208.6 1486.6,205 1491.5,201.4 1498.9,197.1 1509.1,194.3 1516.7,192.2 1525.2,189.4 1530.4,188 1535.7,186.7 1544.8,187.3 1550.5,188.7 1559,190.8 1564.7,192.2 1560.3,195.7 1565.9,196.4 1571,195.7 1577.2,198.6 1588.4,200 1600.1,202.8 1612.4,207.1 1621.9,210.7 1628,217.2 1625.1,220.2 1617.4,222.4 1605.8,220.9 1594,218.7 1582.7,218 1579.1,215.1 1593.9,228.3 1597.5,234.9 1604.3,236.8 1611.1,238.7 1617.4,238.7 1608.5,229.7 1616,231.2 1623.5,232.7 1629.7,234.2 1624.9,228.3 1626,223.1 1633.2,219.4 1642.3,221.6 1645.6,223.1 1646.3,217.2 1641.6,212.2 1637.8,205 1634.8,204.3 1644.6,205.7 1654.5,210 1654.3,216.5 1662.3,215.8 1665.8,210.7 1672.5,207.1 1682.5,205 1691.3,206.4 1696.7,206.4 1703,205.3 1709.3,204.3 1719.1,202.1 1726.1,200 1726.9,196.4 1734.9,196.4 1747.3,199.3 1756.6,201.4 1764.1,205 1770.4,206.4 1773.2,202.1 1765.2,198.2 1757.3,194.3 1752.2,185.3 1755.3,175.7 1761.3,174.3 1767.3,173 1781.4,181.8 1787,191.5 1792.3,201.4 1797.9,215.8 1806.2,215.8 1799.9,201.4 1793.1,187.3 1789.4,178.4 1798.7,180.5 1805,178.4 1812.2,177.7 1822.2,180.5 1831.1,181.8 1840.7,190.8 1838,183.9 1824.7,177 1811.4,170.3 1819.5,169.3 1827.5,168.3 1831.6,164.3 1835.3,160.3 1840.9,158.3 1846.4,156.4 1853.5,155.2 1860.6,154.2 1867.6,153.1 1874.9,152.3 1882,151.4 1889.2,150.5 1893,148 1896.9,145.4 1900.5,142.9 1909.9,145.1 1919.3,147.3 1927.9,148.3 1936.5,149.2 1946.8,151.5 1957.2,153.8 1968.1,160.3 1963.4,163.6 1958.5,166.9 1952.8,168.6 1947,170.3 1953.9,169.6 1960.8,168.9 1968.8,169.3 1976.9,169.6 1986.3,168.9 1997.3,170.6 2008.3,172.3 2017.6,173.6 2024.5,173 2031.4,172.3 2038.2,170.6 2045,168.9 2059.7,172.3 2075.3,180.5 2086.4,187.3 2092.7,183.9 2096.2,182.5 2107.5,183.2 2115,183.9 2122.4,184.6 2132,183.9 2125.4,177 2130.3,175 2140.9,177 2149.2,177.4 2157.5,177.7 2166.3,178.4 2175,179.1 2192.4,183.9 2206.2,188 2211.9,187.3 2217.5,186.7 2224.6,187 2231.7,187.3 2252.4,194.3 2261.8,197.1 2268,196.8 2274.2,196.4 2283.3,197.1 2292.4,197.9 2300,195.7 2305.1,194.7 2310.2,193.6 2318.5,194.7 2326.8,195.7 2335.4,196.1 2344,196.4 2352.4,197.5 2360.8,198.6 2373.6,201.5 2395.6,215.9 2417.1,230.5 2414.7,232.7 2406.1,232.7 2424.4,241.7 2439.5,249.2 2432.8,249.2 2426.1,249.2 2421.6,254.5 2417.8,260.6 2413.8,266.8 2411.9,269.1 2402.5,266.8 2393.2,264.5 2386,268.3 2379,269.9 2379.1,276.1 2386.3,283.8 2387.7,287.8 2399,294.1 2403.8,299.6 2404.9,307.5 2401,311.5 2407.6,321.1 2401.8,323.5 2407,331.6 2404.3,339.7 2393.7,331.6 2375.6,315.5 2358.2,299.6 2352.9,289.3 2353.4,281.5 2354.8,272.2 2358.3,266 2357.2,256.8 2353.6,249.2 2350.5,256 2336.9,254.5 2330.1,254.9 2323.2,255.3 2318,258.3 2325,272.2 2317.3,276.1 2306.6,274.5 2299.9,272.2 2289.2,272.2 2278.9,273.7 2269.9,273.7 2263,273.7 2256.1,273.7 2251.5,279.2 2249.3,286.2 2246.9,293.3 2246.7,299.6 2244.6,307.5 2242.3,309.9 2251.6,312.7 2261,315.5 2268.6,317.1 2276.6,315.5 2290.5,321.9 2297.4,329.2 2301.7,339.7 2306.9,347.8 2311.9,356 2318.6,364.2 2315.2,372.4 2314.3,380.6 2313.2,388.9 2310.3,394.7 2307.8,401.4 2301.4,407.2 2289.7,404.7 2285.5,408.8 2284.9,411.3 2282.7,418 2285.3,423.9 2280.8,430.6 2275.9,433.1 2277.4,437.3 2286.6,443.1 2294.9,451.5 2304.2,464.1 2305.5,470 2304.1,471.7 2297.8,473.4 2291.9,475.9 2287.3,476.8 2284.4,468.3 2282.1,459.9 2278.2,451.5 2272.8,449 2265.5,448.2 2263.7,441.4 2258.9,434.7 2252.7,430.6 2244.3,433.1 2240,438.1 2236.3,440.6 2236.2,434.7 2235.4,426.4 2225.5,423 2222.5,430.6 2218.9,437.3 2212,437.3 2211.1,439.8 2215.9,445.6 2225.1,450.7 2226.6,454 2232.4,451.5 2238.6,449.8 2250.1,452.4 2250.6,456.6 2242,460.8 2239.9,464.1 2236.8,470 2237.1,474.2 2246.8,481 2254.3,489.4 2263.8,497.8 2266.6,503.7 2265.2,507.9 2259.5,512.1 2269.9,515.5 2272.9,527.3 2268.1,533.2 2263.9,544.2 2263.8,552.6 2260.1,558.5 2255.7,561.8 2249.3,569.4 2243,574.5 2232.7,577.8 2230.9,579.5 2225.9,580.4 2219.2,583.7 2208.9,587.1 2204.5,591.3 2206.8,596.4 2202.4,596.4 2200.1,587.1 2190.2,584.6 2186.9,586.3 2180.4,591.3 2174.4,599.8 2174.1,607.3 2180.8,617.4 2189.5,626.7 2196.2,632.6 2202.7,642.7 2206.3,653.7 2207.6,666.3 2206,672.2 2199,677.3 2191.8,679.8 2189.3,684.8 2181.6,691.6 2176.6,694.9 2176.9,687.4 2177.3,683.2 2173.3,679.8 2165.8,678.1 2161.4,670.5 2155.7,664.6 2145.7,660.4 2144.4,654.5 2141.3,653.7 2137.8,655.4 2138.9,666.3 2135.9,674.7 2134.3,683.2 2140,689.9 2143.4,697.5 2146.2,706.7 2153,710.1 2159.2,715.2 2166.3,722.8 2168.2,733.7 2169.3,743.8 2174.1,754.8 2171.9,756.4 2168.9,754.8 2160.5,748.9 2152.9,742.1 2148.2,733.7 2145.5,722.8 2143.5,712.6 2139.6,709.3 2133.2,700 2128.7,700 2128.2,691.6 2129.9,683.2 2129.2,674.7 2128.5,666.3 2125.1,653.7 2123.9,649.5 2120,641 2117,628.4 2112.1,625 2106.7,628.4 2100.8,634.3 2093.2,632.6 2093.1,620 2090.5,611.5 2085,603.1 2078.3,597.2 2073,590.5 2067.8,579.5 2061.6,577 2058.4,580.4 2051.6,583.7 2042.3,584.6 2037.4,586.3 2034.5,592.2 2033.9,598.9 2028.3,600.6 2021.6,605.6 2015.2,613.2 2010.7,618.3 2004.4,627.6 1996.9,632.6 1990.7,636.8 1990,645.2 1992.5,657 1991,666.3 1990.1,674.7 1991.2,680.6 1986.2,683.2 1985,689.1 1979.3,692.4 1978.7,696.6 1974.4,699.2 1969.7,694.9 1964.7,684 1960.3,672.2 1953.7,662.1 1952,658.7 1947.3,645.2 1942.8,636.8 1937.9,624.2 1933.3,608.2 1930.9,598.9 1930.6,589.6 1927.3,579.5 1925.3,588 1917.7,592.2 1912.5,590.5 1901.9,580.4 1910.7,574.5 1901.3,575.3 1897,569.4 1889.3,565.2 1884.8,558.5 1880.6,553.4 1866.3,555.1 1858.4,555.5 1850.5,555.9 1841,555.1 1826.3,553.4 1813.8,551.7 1810.5,541.6 1805.1,539.1 1796.1,542.5 1789,543.3 1781.4,539.9 1769.8,533.2 1763.6,523.9 1758.1,514.7 1749.1,511.3 1746,514.7 1742.9,518.9 1746.8,527.3 1750.5,534 1760.1,542.5 1762,546.7 1764.7,552.6 1767.6,559.3 1766.9,552.6 1769.3,547.5 1772.7,552.6 1773.4,560.2 1771.5,562.7 1780.3,563.5 1791.2,563.5 1793.8,561 1799.6,554.3 1804,548.4 1806.5,545 1807.9,556.8 1809.8,561 1816.9,566.9 1825,568.6 1834.7,577.8 1831.9,587.1 1826.8,595.5 1822.7,607.3 1813.9,615.8 1804.7,620 1796.2,624.2 1783.5,632.6 1775.7,636.8 1767.9,641 1758.8,649.5 1746.5,654.5 1731.9,659.6 1720.9,660.4 1718.5,655.4 1715.6,642.7 1713.5,630.1 1707.7,619.1 1701.3,609 1694,597.2 1685.3,586.3 1679.4,573.6 1671.4,562.7 1665.5,550 1655,535.7 1649.6,531.5 1649.9,518.9 1645.8,533.6 1640.8,529 1636,523.1 1632.5,515.5 1629.3,503.7 1638,505.4 1642.8,503.7 1646.4,497 1647,489.4 1649.6,481.8 1651.1,475.9 1650.7,467.5 1651.8,459.1 1646.9,459.1 1640.4,457.4 1634.7,462.4 1626.5,463.3 1622.6,459.9 1613.1,456.6 1611.6,461.6 1602.2,458.2 1595.9,458.2 1590.1,455.7 1587.9,448.2 1581.4,444.8 1586.1,444 1584.2,438.9 1578.9,434.7 1579.2,430.6 1587.7,427.2 1598,427.2 1597.4,422.2 1604.1,421.4 1613.4,419.7 1623.4,413.8 1637,413.8 1646.8,419.7 1658.8,422.2 1670.4,422.2 1681.9,418 1681.5,412.2 1676.2,405.5 1666.5,400.5 1655.2,393.9 1650,391.4 1643.3,387.3 1647.7,385.6 1652.7,380.6 1650.3,374.9 1657.6,371.6 1651.5,370.7 1646.6,372.4 1640.4,374.9 1632.9,377.3 1631.4,379.8 1631.9,383.1 1635.8,386.4 1642.3,385.6 1635.6,388.9 1628.4,393.9 1623.6,393.1 1622,387.3 1615.7,385.6 1622.2,380.6 1618.1,379.8 1611.2,378.2 1607.5,375.7 1602.4,376.5 1599.9,382.3 1597.3,387.3 1591.8,395.5 1591.3,401.4 1587.5,403.9 1586.9,409.7 1589.5,413.8 1591.4,418 1597.1,420.5 1590.5,422.2 1584,424.7 1578.9,428 1577.3,425.5 1577.8,423.9 1570.2,423 1566.1,423 1562.1,424.7 1566,428.9 1563.5,431 1559.8,428.9 1556.2,426.4 1554.5,430.6 1557.8,436.4 1557.3,438.9 1558.3,442.3 1565.5,445.6 1565.9,449.8 1562.2,447.3 1558.8,448.2 1560.7,453.2 1558.2,457.4 1560.5,459.9 1556.4,459.9 1555.7,460.8 1552.7,457.4 1550.6,457.4 1548.7,451.5 1547,447.3 1549.6,444.8 1545.3,444 1542.3,440.6 1540.4,434.7 1536.9,433.1 1532.3,428 1531.6,419.7 1531.2,414.7 1524.8,410.5 1517.6,405.5 1509.8,401.4 1501.4,395.5 1498.9,388.9 1495.4,386.4 1492.3,390.6 1489.9,384.8 1491.2,383.9 1485.9,383.9 1481.4,386.4 1481.7,392.2 1484,397.2 1491,401.4 1495.6,409.7 1502.7,414.7 1509.5,414.7 1507.7,418 1514.7,421.4 1522.6,425.5 1526.3,429.7 1525.1,432.2 1522.1,428.9 1517.2,426.4 1513.3,430.6 1513.5,433.1 1518,438.9 1514.1,442.3 1511,448.2 1508.2,447.3 1507.8,445.6 1511.2,439.8 1509.5,434.7 1507.2,430.6 1502.3,428.9 1500.7,425.5 1497.2,423.9 1492.9,420.5 1488.1,419.7 1482.4,415.5 1478.8,412.2 1473.9,409.7 1470.4,405.5 1468.8,401.4 1467.3,397.2 1465.2,396.4 1459.1,393.9 1454.5,397.2 1449.9,398.9 1446.6,401.4 1440,404.7 1435.9,403 1430.5,402.2 1426.4,401.4 1421.1,404.7 1419.8,409.7 1421.2,414.7 1414.5,418.9 1406.3,422.2 1403.6,425.5 1399.5,431.4 1397.4,434.7 1400.9,440.6 1396,444.8 1393.9,450.7 1386.3,456.6 1384.2,458.2 1378.6,458.2 1368.9,458.2 1362.5,462.4ZM425.4,201.5 428.4,204 431.4,206.4 433.9,209.3 436.5,212.2 442.1,214 447.8,215.8 449.5,219.1 451.3,222.4 441.7,226 426.1,231.2 414.3,235.7 409.7,233.8 405.2,232 406.9,226.8 401,223.1 392.9,226.8 381.9,230.5 403.4,215.9ZM1362.7,347 1372.5,344.5 1377,342.9 1386.6,342.9 1393.1,341.3 1401.4,341.3 1408.5,338.1 1408.5,336.4 1404,335.6 1405.9,333.2 1410.3,326.7 1407.7,324.3 1401.4,323.5 1401.4,319.5 1400.1,317.9 1398.2,313.9 1392,310.7 1390.2,305.9 1387.2,301.2 1381,299.6 1383.5,297.2 1386.7,290.9 1388.6,287 1378.3,286.2 1374,287.8 1379.6,281.5 1380.8,279.2 1369.4,279.2 1367.4,284.6 1364.2,289.3 1364.5,295.6 1364.8,304.3 1368.6,301.2 1369.7,307.5 1367.7,309.9 1377.7,308.3 1378.3,313.1 1381.3,314.7 1380.6,320.3 1371.2,320.3 1370.4,325.1 1373.5,327.5 1366.4,332.4 1372,334.8 1380.3,335.6 1379,338.1 1372.6,338.1 1366.6,345.4ZM1335.7,334.8 1345.2,334.8 1352,332.4 1358.8,330 1361.6,323.5 1360.5,319.5 1364.6,311.5 1362.3,305.9 1353,305.1 1347.1,310.7 1336.9,313.9 1337.2,320.3 1340,325.9 1333.4,330.8ZM1448.9,135.6 1452.8,130.3 1459.7,129.9 1466.6,129.6 1473.5,129.2 1481.1,128.6 1488.6,128 1496.1,127.5 1505.4,127.9 1514.8,128.2 1524.1,128.6 1516.5,133.2 1507.8,135.6 1499.1,138 1491.1,144.2 1482.6,149.9 1476.1,147.7 1469.6,145.4 1464,141.1 1456.4,138.3ZM1683.2,189.4 1693.8,189.4 1704.4,189.4 1691.7,180.5 1684.2,171.6 1688.3,167.6 1692.2,163.6 1697.6,160.3 1702.8,157 1710.9,154.4 1718.8,151.8 1725.8,149.9 1732.8,148 1726.5,147.7 1720.1,147.3 1711.8,149.1 1703.2,150.7 1694.7,152.5 1687,155.7 1679.2,159 1675.8,170.3 1670.8,180.5 1669.9,183.9ZM1841.6,133.2 1835.3,123.1 1845.4,124.7 1855.7,126.4 1866.5,128.6 1877.3,130.9 1888.4,133.2 1901.3,139.2 1895.2,140 1889.2,140.9 1883.1,141.7 1867.3,136.8 1860.6,136.2 1854,135.6ZM2085.3,158.3 2083.3,152.5 2094.8,153.4 2106.3,154.4 2115.2,156 2124.1,157.7 2119.4,161 2111.2,161.3 2102.9,161.6 2094.1,160ZM2115.8,170.3 2122.1,167.6 2134.7,170.9 2126.4,172.3ZM2130.2,158.3 2136.4,158.3 2142.6,158.3 2155.7,161.6 2149.4,161.6 2143.1,161.6ZM2341.5,186.7 2344.7,183.9 2351.7,188 2347,188.4ZM454.3,183.9 464.8,183.9 462.8,186.7 452.6,188 447.3,188ZM1605.5,125.8 1612.8,125.2 1620,124.7 1627.2,124.1 1634.6,123.3 1641.9,122.5 1649.2,121.7 1656.5,120.9 1664.8,121.8 1673,122.7 1681.4,123.6 1675.5,127.5 1667.8,127.9 1660.1,128.3 1652.3,128.7 1644.5,129.2 1635.2,129 1625.8,128.8 1616.4,128.6ZM2290,312.3 2304.5,323.5 2315,335.6 2333.4,351.9 2342.4,358.4 2329.5,356 2335.4,367.5 2346.1,374 2350.2,379.8 2342.6,375.7 2340.8,380.6 2331.4,368.3 2324.2,356 2313.4,343.7 2301.4,331.6 2292.2,320.3ZM2352.1,418 2358.7,415.5 2365.3,414.7 2371.9,413.8 2376.1,408.8 2380.2,403.9 2372.6,394.7 2364.3,393.9 2356,393.1 2342.3,385.6 2349.5,397.2 2344.6,403 2346.6,411.3ZM2362.8,418.9 2373.4,430.6 2378,444.8 2379.6,455.7 2383.7,466.7 2380.9,472.5 2377.5,468.3 2373.7,475.1 2362.1,475.9 2361.9,478.4 2357.8,485.2 2349.9,478.4 2338.3,477.6 2331,481.8 2322.2,481 2320.7,477.6 2328.9,469.2 2340.7,467.5 2350.8,466.7 2351.1,455.7 2352.5,451.5 2353.3,457.4 2361.2,452.4 2363.3,443.1 2360.6,432.2 2356.7,425.5 2355.7,420.5 2360.5,420.5ZM2321.8,481.8 2328.5,484.3 2333.5,491.1 2333.2,502.9 2330.2,506.2 2323.4,497.8 2316.5,489.4 2318.7,484.3ZM2332.7,481 2346.1,479.3 2349,482.6 2347.2,486.9 2340.9,491.9 2334.5,486.9ZM2275.6,556.8 2282.1,556.8 2281.8,565.2 2280.1,582.1 2273.6,574.5 2272,566.9ZM2195.1,605.6 2201.3,598.9 2210.1,598.9 2208.8,609 2202.3,614.1 2196,611.5ZM2283.2,611.5 2294.9,611.5 2299.3,624.2 2293.6,634.3 2296.7,645.2 2302.9,647.8 2316.5,661.3 2311.6,657.9 2303.5,652 2292.4,652 2286,642.7 2281.2,630.1 2283.2,620ZM2305.1,708.4 2315.3,694.9 2329.3,684.8 2337.6,695.8 2337.3,712.6 2331.8,719.4 2329.8,711 2320.3,712.6 2316,704.2 2306.9,701.7ZM2318,662.1 2326.9,662.1 2329.6,673 2326.8,681.5 2323,680.6 2320.5,670.5ZM2301.7,668 2309.4,670.5 2313.8,677.3 2318,683.2 2313.4,689.9 2307.3,687.4 2306.5,678.9 2302.1,678.9ZM2268.7,696.6 2280.8,680.6 2285.1,671.4 2282.7,678.1 2274.3,691.6 2269.6,698.3ZM2288.3,654.5 2295.7,654.5 2297.5,662.9 2293.9,664.6ZM2210.5,754.8 2217.9,753.1 2227.4,746.3 2239.9,740.4 2246.9,729.5 2257.6,721.1 2265.8,709.3 2273.6,714.3 2285.2,723.6 2276.7,731.2 2275.5,737.9 2277.3,748.9 2285,759 2276.1,760.7 2273.9,774.1 2266.3,780 2264.5,792.7 2261.9,801.1 2252.2,801.9 2239.8,795.2 2228.8,792.7 2219.2,791 2218,780 2212.1,771.6 2210.6,763.2ZM2107.5,720.2 2115.7,721.9 2124,723.6 2133.4,736.2 2143.4,746.3 2154.7,753.1 2166,761.5 2171.2,773.3 2177,782.6 2187.9,792.7 2186.7,804.5 2185.4,816.3 2175.8,816.3 2165,807.8 2157.9,798.6 2150.8,788.5 2145.8,775.8 2136.2,764.9 2133.9,753.1 2124.8,746.3 2117,736.2 2107.8,727ZM2180.5,824.7 2186.9,817.1 2194.3,817.1 2205.2,822.2 2219.8,825.5 2223.8,821.3 2236.2,825.5 2249.1,832.3 2247.8,840.7 2233.9,838.2 2224.7,836.5 2215.5,834.8 2204.5,833.1 2189.9,829.7ZM2248.8,836.5 2258.1,836.1 2267.4,835.6 2282.1,837.3 2293.3,837.3 2302.5,837.3 2311.8,837.3 2311.5,840.7 2300.3,841.5 2289.2,842.4 2278,842.8 2266.9,843.2 2252.2,841.5ZM2314.1,854.2 2322.3,844.9 2333,841.5 2343.6,838.2 2337.3,843.2 2325.5,850.8 2317.8,854.2ZM2281.3,847.4 2294.5,849.1 2291.9,853.3 2281.1,850ZM2291,760.7 2298.4,756.4 2306.6,757.7 2314.8,759 2322.9,756.4 2331,753.9 2326,763.2 2314.8,763.2 2299.9,763.2 2292.5,773.3 2303.6,775.8 2317,774.1 2307.2,782.6 2303.4,784.2 2312.5,801.1 2309.8,809.5 2302.6,805.3 2299.5,791 2295.6,796.9 2294.8,805.7 2294,814.6 2287.3,813.7 2288.1,796.9 2283.2,790.1 2287.2,778.4 2291,769.1ZM2348.1,750.6 2351.7,748.9 2357.1,754.8 2352,760.7 2358,764.9 2353.5,774.1 2350.5,765.7 2349,759ZM2351.5,792.7 2362.7,791 2372.2,795.2 2366.2,797.7 2355,796.9ZM2336.6,794.4 2345.4,795.2 2342.3,799.4 2336.4,797.7ZM2374.3,774.1 2385.5,770.8 2396.6,774.1 2397.8,788.5 2399.7,795.2 2407.2,795.2 2415,785.9 2426.3,780.9 2440.9,787.6 2448.3,789.3 2462.9,796 2473.8,800.3 2483,809.5 2487.8,815.4 2495.8,817.9 2490.8,824.7 2494.1,830.6 2500.5,841.5 2507.1,850 2515.5,854.2 2506.5,855 2495.7,852.5 2488.8,847.4 2482.5,836.5 2473.9,832.3 2463.9,836.5 2461.8,843.2 2455.7,844.9 2444.7,844.1 2434.4,834.8 2424.5,838.2 2422.1,830.6 2429.8,826.4 2428.2,817.9 2421.2,811.2 2410.3,806.2 2399.5,801.1 2392.1,799.4 2386.8,801.1 2381.3,791.8 2392.6,788.5 2383.7,785.9 2374.2,779.2ZM2396.5,813.7 2400.8,816.3 2398.8,824.7 2395.4,820.5ZM2373.2,829.7 2377.8,828.1 2375.8,834.8 2372.1,834ZM2501.2,814.6 2514.2,809.5 2525.7,802.8 2531.7,802.8 2528.9,812 2521,817.9 2509.7,820.5 2501.8,817.1ZM2521.2,789.3 2529.9,794.4 2536.8,804.5 2534.5,806.2 2526.2,794.4 2520.4,791ZM2490.2,784.2 2496.1,784.2 2495.3,785.9 2490.1,785.9ZM2548.8,813.7 2557.1,823 2553.9,825.5 2548.5,817.9ZM2582.4,845.7 2590.9,849.1 2588.5,850.8 2582,849.1ZM2590.6,838.2 2594.9,846.6 2592.6,847.4 2589.7,839.9ZM2575.6,831.4 2584.7,838.2 2583,839.9 2574.8,833.1ZM2561.4,823.8 2568.4,828.9 2566.8,830.6 2560.6,825.5ZM2564.2,834.8 2570.4,839.9 2568,841.5 2563.3,836.5ZM2594,854.2 2600.9,858.4 2597.2,858.4ZM2627.4,891.2 2631.3,893.8 2628.6,899.7 2626.2,897.1ZM2629.6,902.2 2633,906.4 2629.9,907.2ZM2633.8,915.7 2636.6,916.5 2634.7,918.2ZM2598,936.7 2607.5,942.6 2615.9,952.7 2613.6,956.1 2605.6,950.2 2598.4,940.9ZM2700.6,915.7 2709.6,914.8 2709.8,919.9 2700.8,920.7ZM2712.6,908.9 2723.3,903.9 2721.8,907.2 2712.9,910.6ZM2454.4,857.5 2459.9,872.7 2459.9,887.9 2470,893.8 2469.1,906.4 2470.8,923.3 2473.9,929.2 2481.3,935.9 2486.7,944.3 2487.8,955.3 2495.5,962.8 2498.8,969.6 2507.3,978 2504.2,990.6 2502.7,1003.3 2495.7,1015.9 2490.8,1024.3 2481.6,1037 2472,1045.4 2464.9,1053 2457.4,1062.3 2448.8,1070.7 2442.9,1079.1 2439.9,1083.3 2424.9,1086.6 2415.1,1091.7 2407.4,1096.7 2404.7,1091.7 2402.9,1087.5 2389.5,1094.2 2381,1090.8 2375.5,1088.3 2372.1,1081.6 2375.5,1070.7 2369.4,1067.3 2371.9,1060.6 2370.7,1055.5 2365.8,1063.1 2358.7,1064.8 2367.9,1053.8 2375.2,1042 2365.5,1051.3 2355.5,1058 2351.9,1061.4 2349.9,1058 2349.7,1047.1 2348.3,1038.7 2336.2,1037 2330.7,1032.8 2315.9,1034.5 2300,1038.7 2288.4,1041.2 2276.2,1045.4 2269.7,1053 2258.4,1053 2245,1053 2227.3,1062.3 2213.6,1061.4 2209.2,1056.4 2211,1049.6 2220.5,1037 2219.7,1024.3 2221.2,1010 2219.9,999.1 2218.7,986.4 2221.3,978 2223.1,969.6 2227.6,957 2231.6,951.1 2237.9,948.5 2251.6,940.9 2265.2,938.4 2276.8,935 2289.1,927.5 2295.7,919 2299.3,910.6 2306.2,913.1 2307.4,906.4 2315.7,900.5 2322.3,891.2 2332.7,885.3 2340.1,885.3 2344.2,892.1 2353.7,892.9 2355,883.7 2362,876.1 2366.2,871.9 2375.3,870.2 2380.4,864.3 2386.8,866.8 2397.4,870.2 2408.7,868.5 2411.3,871.9 2407.3,879.4 2401.4,889.6 2397.8,893.8 2404,900.5 2410.8,903.9 2420.7,909.8 2423.4,914.8 2430.6,915.7 2436,906.4 2442,893.8 2445.4,881.1 2447.4,872.7 2451.2,860.1ZM2388.3,1110.1 2395.1,1113.4 2402.4,1112.6 2411.8,1111.8 2404.7,1122.6 2396.4,1130.9 2387.3,1134.3 2381.8,1133.4 2382.7,1125.1 2384.8,1116.8ZM2614,1057.2 2616.6,1062.3 2617.6,1072.4 2617.9,1077.4 2623,1074.9 2621.1,1083.3 2625.8,1086.6 2637.3,1085 2625,1096.7 2616.5,1100.1 2611.5,1106.8 2598.4,1115.1 2591,1117.6 2589.5,1115.1 2599.2,1106.8 2595.6,1098.4 2605.8,1091.7 2611.1,1085.8 2613.4,1079.1 2615,1073.2 2612.2,1063.9ZM2580.9,1108.4 2586.6,1111.8 2585.5,1116.8 2580.2,1121 2566.9,1129.3 2562.2,1135.9 2546.7,1140.1 2531.8,1153.3 2521.7,1158.3 2511.7,1159.1 2508.5,1155.8 2504.6,1152.5 2521.9,1141.7 2529.9,1137.6 2545.3,1130.9 2558,1125.1 2567.9,1117.6ZM2503.7,1161.6 2509,1160.8 2504.2,1164.9 2502.3,1164.1ZM1990.7,684.8 1993.7,684.8 2001.6,694.9 2007.4,705.9 2006.2,712.6 1998.2,717.3 1993.6,715.2 1991.9,708.4 1991.4,698.3ZM1485.4,447.3 1492.2,445.6 1499.8,445.2 1507.4,444.8 1504.4,453.2 1504.7,458.2 1499,455.7 1486.2,450.7ZM1455.5,423 1462.2,420.5 1466.5,426.4 1465.6,437.3 1461.5,438.9 1457.4,438.9 1457,428ZM1457.7,410.5 1462.9,405.5 1464,413.8 1462.1,418.9 1458.6,415.5ZM1564,468.3 1571.1,469.2 1583.8,470 1583.3,472.5 1572.8,473.4 1564.2,470.9ZM1626,471.7 1630.6,469.2 1641.5,466.7 1638,472.5 1631.4,475.9 1627,474.2ZM1416,433.9 1420.8,431.4 1422.9,433.1 1420.1,436.4 1416.7,435.6ZM1468.7,302 1473.4,298.8 1477.3,302 1475.3,307.5 1469,305.9ZM1460.1,303.5 1465.7,303.5 1466.6,306.7 1461.6,306.7ZM1510.7,291.7 1514.6,284.6 1514,289.3ZM1531.7,281.5 1538,279.2 1537.3,282.3 1532.7,283.8ZM1793.3,661.3 1802.2,661.3 1801.6,663.8 1794.2,663.8ZM1690.7,815.4 1692.1,817.9 1692.8,821.3 1691.4,820.5ZM259.7,597.2 265.8,602.3 260.1,608.2 258.3,603.1ZM718.6,767.4 722.3,770.8 722.4,775.8 718.6,774.1ZM371.4,310.7 383.5,307.5 382.2,309.9 371.6,312.3ZM342.3,321.1 357.6,315.5 354.2,318.7 343.3,321.9ZM406.5,266.8 416.7,265.2 413.8,269.1 406.3,269.9ZM413,241.7 420.1,242.4 427.1,243.2 426.3,244.7 419.5,245.1 412.6,245.4ZM2382.1,393.1 2388.9,384.8 2386.5,388.9 2383.4,393.9ZM624.4,1427.5 633.8,1427.8 643.1,1428.1 652.4,1428.3 661.7,1428.6 671,1428.9 678.3,1429.1 685.6,1429.3 693,1429.5 700.2,1429.7 708.1,1429.9 716,1430.1 723.8,1430.2 731.7,1430.4 739.5,1430.6 743.8,1429.4 748.2,1428.3 752.6,1427.1 725.5,1419 710.3,1415.2 694.8,1411.2 686.2,1402.7 669.5,1399.2 652.7,1395.6 631.9,1388.7 639.2,1388.7 646.5,1388.7 653.7,1388.7 658.1,1385.9 662.7,1383 669.7,1381.4 676.8,1379.7 683.8,1378.6 691.1,1377.6 698.2,1376.5 705.4,1375.5 712.7,1374.5 719.9,1373.4 727,1372.2 734.2,1371 741.6,1369.9 750.1,1369 758.6,1368.2 767.1,1367.3 775.8,1366.5 784.4,1366.9 792.9,1367.2 801.5,1367.5 810,1367.9 819.6,1368.5 829.3,1369.2 838.8,1369.9 849.4,1371.4 860,1373 870.5,1374.5 880.9,1375 891.1,1375.4 901.5,1375.8 901.5,1367.9 906.3,1364.9 911.3,1361.8 919.5,1361.6 927.7,1361.4 935.9,1361.2 945.5,1361.4 955.2,1361.6 964.8,1361.8 974.3,1364.2 983.7,1366.5 989.9,1364.2 996.2,1361.8 1004.6,1363.4 1013,1365 1021.4,1366.5 1023.7,1362.2 1026.2,1357.8 1027.7,1346.1 1023.5,1333.4 1018.4,1321.2 1022.9,1316.5 1027.5,1311.7 1032.3,1306.9 1037.1,1302.1 1042.4,1299.1 1047.8,1296.1 1053.4,1293.5 1059.1,1290.9 1066.6,1290.9 1074.1,1290.9 1071,1296.9 1065.1,1299.5 1059.2,1302.1 1054.1,1306.2 1049.1,1310.2 1044.6,1313.9 1040.1,1317.6 1045.8,1329.8 1062.6,1340.5 1076.6,1350.9 1083.7,1358.1 1090.9,1365.2 1087.5,1373.2 1080,1376.5 1072.8,1379.7 1067,1381.7 1061.4,1383.6 1055.9,1385.6 1047.2,1385.6 1038.5,1385.6 1029.9,1385.6 1021.2,1385.6 1015.7,1387.7 1010.4,1389.7 1005.1,1391.7 999.9,1393.7 1008.8,1397.4 1017.6,1401 1026,1403.6 1034.4,1406.2 1043,1406.9 1051.5,1407.6 1060,1408.3 1068.6,1409 1075.8,1409 1083,1409 1090.2,1409 1097.4,1409 1105.6,1409 1113.9,1409 1122.1,1409 1127,1415.7 1131.7,1422 1139,1421.6 1146.4,1421.3 1153.8,1420.9 1161.2,1420.5 1169.2,1419.4 1177.1,1418.2 1185.2,1417 1193.1,1415.5 1201.1,1413.9 1209.2,1412.3 1216.8,1410.3 1224.6,1408.3 1232.4,1406.2 1226,1396.8 1233.2,1394.2 1240.5,1391.4 1247.9,1388.7 1255.8,1386.8 1263.7,1384.9 1271.8,1383 1279.5,1381.2 1287.2,1379.6 1295.1,1377.8 1302.8,1372.2 1310.8,1366.5 1317.8,1363.2 1324.8,1359.8 1331.9,1356.4 1340.3,1351.9 1348.8,1347.5 1356.9,1348.1 1365.1,1348.8 1373.2,1349.5 1383.7,1350.2 1394.2,1350.9 1403,1349.3 1411.8,1347.7 1420.7,1346.1 1430.8,1345.2 1440.9,1344.2 1451.1,1343.3 1460.5,1343.5 1469.9,1343.8 1479.2,1344 1487.6,1344.7 1496,1345.4 1504.4,1346.1 1511.9,1345.6 1519.4,1345.2 1526.9,1344.7 1535.2,1344.2 1543.4,1343.8 1551.7,1343.3 1560.3,1340.1 1568.9,1336.9 1576.1,1334.5 1583.3,1332 1590.9,1334.8 1598.3,1337.7 1606.5,1337.3 1614.7,1336.9 1622.9,1332.7 1631.3,1328.4 1638.6,1326.2 1646,1324.1 1654.2,1322.4 1662.4,1320.7 1670.6,1319 1680.3,1316.6 1690.1,1314.1 1699.9,1311.7 1709.5,1314.6 1718.9,1317.6 1726.3,1319.2 1733.4,1321 1740.7,1322.6 1751.1,1323.7 1761.5,1324.8 1770.1,1325.2 1778.6,1325.5 1772.3,1333.4 1756.1,1347.5 1748.4,1354.7 1740.6,1361.8 1750,1358.1 1759.6,1354.3 1770.6,1348.8 1781.6,1343.3 1792.2,1340.1 1802.9,1336.9 1813.4,1333.9 1824,1330.8 1834.7,1327.7 1845.9,1324.4 1857.3,1321.2 1869.8,1318.6 1882.5,1316.1 1890.2,1315.9 1898,1315.6 1905.8,1315.4 1913.7,1315.1 1921.8,1314.9 1929.7,1314.6 1939.8,1313.2 1949.9,1311.7 1959.6,1309.1 1969.3,1306.5 1975.6,1308.8 1981.9,1311 1989.7,1313.5 1997.5,1316.1 2006.9,1314.6 2016.3,1313.2 2025.6,1312.4 2034.9,1311.7 2041.2,1314.4 2047.3,1317 2053.4,1319.7 2065.1,1318.3 2076.8,1316.8 2089,1315.7 2101.3,1314.6 2109.6,1314.1 2117.9,1313.7 2126.2,1313.2 2135.7,1313.2 2145.2,1313.2 2154.7,1313.2 2162.1,1314.4 2169.4,1315.6 2176.7,1316.8 2186.1,1318.3 2195.4,1319.7 2198.6,1323.7 2201.6,1327.7 2210.5,1328.4 2219.4,1329.1 2229.3,1329.8 2239.3,1330.5 2245.9,1333.6 2252.4,1336.7 2258.8,1339.8 2264.5,1341.4 2270,1343.1 2275.5,1344.7 2281.4,1346.3 2287.1,1347.9 2292.8,1349.5 2285.9,1355.7 2271.5,1361.8 2257.1,1364.2 2242.9,1366.5 2231.3,1369.5 2219.7,1372.5 2201.6,1377.8 2188.9,1387.5 2183.2,1394.9 2166.9,1398.3 2150.8,1401.6 2126.8,1409 2113.8,1418.5 2118.8,1419.5 2123.9,1420.5 2128.9,1421.5 2133.9,1422.5 2138.8,1423.4 2145,1424.1 2151.3,1424.7 2157.4,1425.4 2163.6,1426 2169.7,1426.6 2175.8,1427.1 2152.6,1435.1 2131.2,1441.7 2112.4,1446.8 2104.5,1446.8 2096.5,1446.8 2088.6,1446.8 2080.7,1446.8 2072.8,1446.8 2064.9,1446.8 2056.9,1446.8 2049,1446.8 2041.1,1446.8 2033.2,1446.8 2025.3,1446.8 2017.3,1446.8 2009.4,1446.8 2001.5,1446.8 1993.6,1446.8 1985.6,1446.8 1977.7,1446.8 1969.8,1446.8 1961.9,1446.8 1954,1446.8 1946,1446.8 1938.1,1446.8 1930.2,1446.8 1922.3,1446.8 1914.4,1446.8 1906.4,1446.8 1898.5,1446.8 1890.6,1446.8 1882.7,1446.8 1874.8,1446.8 1866.8,1446.8 1858.9,1446.8 1851,1446.8 1843.1,1446.8 1835.2,1446.8 1827.2,1446.8 1819.3,1446.8 1811.4,1446.8 1803.5,1446.8 1795.5,1446.8 1787.6,1446.8 1779.7,1446.8 1771.8,1446.8 1763.9,1446.8 1755.9,1446.8 1748,1446.8 1740.1,1446.8 1732.2,1446.8 1724.3,1446.8 1716.3,1446.8 1708.4,1446.8 1700.5,1446.8 1692.6,1446.8 1684.7,1446.8 1676.7,1446.8 1668.8,1446.8 1660.9,1446.8 1653,1446.8 1645,1446.8 1637.1,1446.8 1629.2,1446.8 1621.3,1446.8 1613.4,1446.8 1605.4,1446.8 1597.5,1446.8 1589.6,1446.8 1581.7,1446.8 1573.8,1446.8 1565.8,1446.8 1557.9,1446.8 1550,1446.8 1542.1,1446.8 1534.2,1446.8 1526.2,1446.8 1518.3,1446.8 1510.4,1446.8 1502.5,1446.8 1494.6,1446.8 1486.6,1446.8 1478.7,1446.8 1470.8,1446.8 1462.9,1446.8 1454.9,1446.8 1447,1446.8 1439.1,1446.8 1431.2,1446.8 1423.3,1446.8 1415.3,1446.8 1407.4,1446.8 1399.5,1446.8 1391.6,1446.8 1383.7,1446.8 1375.7,1446.8 1367.8,1446.8 1359.9,1446.8 1352,1446.8 1344.1,1446.8 1336.1,1446.8 1328.2,1446.8 1320.3,1446.8 1312.4,1446.8 1304.4,1446.8 1296.5,1446.8 1288.6,1446.8 1280.7,1446.8 1272.8,1446.8 1264.8,1446.8 1256.9,1446.8 1249,1446.8 1241.1,1446.8 1233.2,1446.8 1225.2,1446.8 1217.3,1446.8 1209.4,1446.8 1201.5,1446.8 1193.6,1446.8 1185.6,1446.8 1177.7,1446.8 1169.8,1446.8 1161.9,1446.8 1154,1446.8 1146,1446.8 1138.1,1446.8 1130.2,1446.8 1122.3,1446.8 1114.3,1446.8 1106.4,1446.8 1098.5,1446.8 1090.6,1446.8 1082.7,1446.8 1074.7,1446.8 1066.8,1446.8 1058.9,1446.8 1051,1446.8 1043.1,1446.8 1035.1,1446.8 1027.2,1446.8 1019.3,1446.8 1011.4,1446.8 1003.5,1446.8 995.5,1446.8 987.6,1446.8 979.7,1446.8 971.8,1446.8 963.8,1446.8 955.9,1446.8 948,1446.8 940.1,1446.8 932.2,1446.8 924.2,1446.8 916.3,1446.8 908.4,1446.8 900.5,1446.8 892.6,1446.8 884.6,1446.8 876.7,1446.8 868.8,1446.8 860.9,1446.8 853,1446.8 845,1446.8 837.1,1446.8 829.2,1446.8 821.3,1446.8 813.4,1446.8 805.4,1446.8 797.5,1446.8 789.6,1446.8 781.7,1446.8 773.7,1446.8 765.8,1446.8 757.9,1446.8 750,1446.8 742.1,1446.8 734.1,1446.8 726.2,1446.8 718.3,1446.8 710.4,1446.8 702.5,1446.8 694.5,1446.8 686.6,1446.8 668.1,1441.8 647.2,1435.3ZM1162.5,1396.8 1170.1,1396.4 1177.8,1396 1185.5,1395.6 1196.1,1405.6 1188.2,1407.9 1180.5,1410.1 1169.9,1407.9 1159.1,1405.6ZM628.4,1399.8 636.6,1399.2 644.7,1398.6 659.7,1405.6 654.1,1406.2 648.4,1406.8Z"/></defs><use href="#land" fill="#808080" stroke="none"/>
<g shape-rendering="crispEdges">
<path d="M1314.3,104.2 1655,104.2 1676.9,129.2 1307,129.2ZM1075.9,129.2 1168.3,129.2 1149,160.3 1048.8,160.3ZM1584.4,129.2 1746.3,129.2 1775.2,160.3 1599.9,160.3ZM1650,160.3 1825.3,160.3 1854,194.3 1666.9,194.3ZM1105.4,194.3 1185.6,194.3 1173.4,230.5 1088.6,230.5ZM1506.5,194.3 1640.1,194.3 1653.9,230.5 1512.6,230.5ZM1088.6,230.5 1173.4,230.5 1161.8,268.3 1072.6,268.3ZM1314.7,230.5 1427.8,230.5 1429.2,268.3 1310.4,268.3ZM1484.3,230.5 1653.9,230.5 1666.9,268.3 1488.6,268.3ZM924.1,268.3 1132.1,268.3 1119.9,307.5 902.4,307.5ZM1250.9,268.3 1399.5,268.3 1399.5,307.5 1244.2,307.5ZM1429.2,268.3 1666.9,268.3 1679.1,307.5 1430.6,307.5ZM1088.8,307.5 1119.9,307.5 1108.9,347.8 1076.6,347.8ZM1430.6,307.5 1492.7,307.5 1496.4,347.8 1431.8,347.8ZM721.3,347.8 850.5,347.8 832.6,388.9 699.2,388.9ZM1076.6,347.8 1173.4,347.8 1166.1,388.9 1066,388.9ZM1367.2,347.8 1431.8,347.8 1432.8,388.9 1366.2,388.9ZM2077.7,347.8 2142.2,347.8 2166.5,388.9 2099.8,388.9ZM2239.1,347.8 2400.6,347.8 2433.2,388.9 2266.5,388.9ZM565.8,388.9 765.9,388.9 748,430.6 542.2,430.6ZM1332.8,388.9 1466.2,388.9 1468.1,430.6 1330.9,430.6ZM2033.1,388.9 2133.1,388.9 2153.9,430.6 2051,430.6ZM542.2,430.6 713.7,430.6 698,472.5 522.6,472.5ZM1330.9,430.6 1433.8,430.6 1434.6,472.5 1329.3,472.5ZM698,472.5 768.1,472.5 756.5,514.7 685.1,514.7ZM1048.7,472.5 1189,472.5 1185.2,514.7 1042.3,514.7ZM1925.6,472.5 1960.7,472.5 1971,514.7 1935.3,514.7ZM2241.3,472.5 2311.5,472.5 2328.2,514.7 2256.8,514.7ZM1042.3,514.7 1149.5,514.7 1146.1,556.8 1037.5,556.8ZM1256.6,514.7 1292.3,514.7 1290.9,556.8 1254.7,556.8ZM1935.3,514.7 1971,514.7 1978.8,556.8 1942.6,556.8ZM1037.5,556.8 1109.9,556.8 1107.1,598.9 1034,598.9ZM1254.7,556.8 1327.1,556.8 1326.4,598.9 1253.3,598.9ZM2159.8,556.8 2196,556.8 2203.5,598.9 2167,598.9ZM2268.4,556.8 2340.8,556.8 2349.7,598.9 2276.6,598.9ZM1107.1,598.9 1289.9,598.9 1289,641 1104.8,641ZM1326.4,598.9 1363,598.9 1362.7,641 1325.8,641ZM1984.2,598.9 2020.8,598.9 2025.7,641 1988.9,641ZM1362.7,641 1399.5,641 1399.5,683.2 1362.5,683.2ZM806.9,683.2 918,683.2 916.5,725.3 805,725.3ZM767.8,725.3 842.2,725.3 841.4,767.4 767,767.4ZM2032,767.4 2069.2,767.4 2068.3,809.5 2031.2,809.5ZM1956.8,809.5 2031.2,809.5 2029.1,851.6 1955.1,851.6ZM1436.5,851.6 1473.6,851.6 1473.2,893.8 1436.3,893.8ZM1806.9,851.6 1881,851.6 1878.4,893.8 1804.7,893.8ZM1955.1,851.6 1992.1,851.6 1988.9,893.8 1952,893.8ZM2140.2,851.6 2325.4,851.6 2320.4,893.8 2136.2,893.8ZM1325.8,893.8 1473.2,893.8 1472.6,935.9 1326.4,935.9ZM1694.2,893.8 1767.9,893.8 1765,935.9 1691.9,935.9ZM1915.2,893.8 1952,893.8 1947.7,935.9 1911.1,935.9ZM2062.6,893.8 2173.1,893.8 2167,935.9 2057.3,935.9ZM1326.4,935.9 1509.1,935.9 1508.1,978 1327.1,978ZM1618.8,935.9 1728.4,935.9 1725.3,978 1616.7,978ZM1911.1,935.9 1947.7,935.9 1942.6,978 1906.4,978ZM1984.2,935.9 2093.9,935.9 2087.4,978 1978.8,978ZM784,978 892.6,978 899.4,1020.1 792.3,1020.1ZM1616.7,978 1689.1,978 1685.3,1020.1 1613.8,1020.1ZM1870.1,978 1942.6,978 1935.3,1020.1 1863.9,1020.1ZM1649.5,1020.1 1792.4,1020.1 1785.3,1062.3 1645,1062.3ZM1828.1,1020.1 1899.6,1020.1 1890.6,1062.3 1820.4,1062.3Z" fill="#f4f4ff"/>
<path d="M1168.3,129.2 1214.6,129.2 1199.1,160.3 1149,160.3ZM1468.9,129.2 1584.4,129.2 1599.9,160.3 1474.6,160.3ZM1098.9,160.3 1149,160.3 1132.1,194.3 1078.6,194.3ZM1292.5,194.3 1319.3,194.3 1314.7,230.5 1286.4,230.5ZM1453,194.3 1506.5,194.3 1512.6,230.5 1456,230.5ZM1427.8,230.5 1484.3,230.5 1488.6,268.3 1429.2,268.3ZM1399.5,307.5 1430.6,307.5 1431.8,347.8 1399.5,347.8ZM2142.2,347.8 2239.1,347.8 2266.5,388.9 2166.5,388.9ZM932.7,388.9 1066,388.9 1056.6,430.6 919.4,430.6ZM1466.2,388.9 1566.2,388.9 1571,430.6 1468.1,430.6ZM1605.2,430.6 1708.1,430.6 1715.2,472.5 1610,472.5ZM1948.2,430.6 2051,430.6 2065.9,472.5 1960.7,472.5ZM1189,472.5 1294.3,472.5 1292.3,514.7 1185.2,514.7ZM1645,472.5 1680.1,472.5 1685.3,514.7 1649.5,514.7ZM1149.5,514.7 1256.6,514.7 1254.7,556.8 1146.1,556.8ZM2256.8,514.7 2328.2,514.7 2340.8,556.8 2268.4,556.8ZM1109.9,556.8 1254.7,556.8 1253.3,598.9 1107.1,598.9ZM2196,556.8 2268.4,556.8 2276.6,598.9 2203.5,598.9ZM741.7,598.9 778.2,598.9 773.3,641 736.4,641ZM2167,598.9 2203.5,598.9 2209.9,641 2173.1,641ZM2276.6,598.9 2349.7,598.9 2357.2,641 2283.6,641ZM2099.4,641 2136.2,641 2140.2,683.2 2103.2,683.2ZM2357.2,641 2394.1,641 2399.5,683.2 2362.5,683.2ZM2068.3,725.3 2105.5,725.3 2106.5,767.4 2069.2,767.4ZM767,767.4 841.4,767.4 842.2,809.5 767.8,809.5ZM2069.2,767.4 2106.5,767.4 2105.5,809.5 2068.3,809.5ZM2255.3,767.4 2366.9,767.4 2365.6,809.5 2254.1,809.5ZM767.8,809.5 842.2,809.5 843.9,851.6 769.9,851.6ZM2031.2,809.5 2068.3,809.5 2066.2,851.6 2029.1,851.6ZM2216.9,809.5 2328.4,809.5 2325.4,851.6 2214.3,851.6ZM1881,851.6 1955.1,851.6 1952,893.8 1878.4,893.8ZM1992.1,851.6 2140.2,851.6 2136.2,893.8 1988.9,893.8ZM1473.2,893.8 1510,893.8 1509.1,935.9 1472.6,935.9ZM1767.9,893.8 1915.2,893.8 1911.1,935.9 1765,935.9ZM1952,893.8 2062.6,893.8 2057.3,935.9 1947.7,935.9ZM741.7,935.9 778.2,935.9 784,978 747.8,978ZM1728.4,935.9 1765,935.9 1761.5,978 1725.3,978ZM1874.6,935.9 1911.1,935.9 1906.4,978 1870.1,978ZM1947.7,935.9 1984.2,935.9 1978.8,978 1942.6,978ZM1689.1,978 1761.5,978 1756.7,1020.1 1685.3,1020.1ZM1833.9,978 1870.1,978 1863.9,1020.1 1828.1,1020.1ZM1792.4,1020.1 1828.1,1020.1 1820.4,1062.3 1785.3,1062.3Z" fill="#ffffff"/>
<path d="M1214.6,129.2 1399.5,129.2 1399.5,160.3 1199.1,160.3ZM1199.1,160.3 1299.3,160.3 1292.5,194.3 1185.6,194.3ZM979.7,347.8 1076.6,347.8 1066,388.9 966,388.9ZM2166.5,388.9 2199.8,388.9 2222.5,430.6 2188.2,430.6ZM2299.8,388.9 2333.2,388.9 2359.7,430.6 2325.4,430.6ZM1433.8,430.6 1468.1,430.6 1469.7,472.5 1434.6,472.5ZM1571,430.6 1605.2,430.6 1610,472.5 1574.9,472.5ZM1364.4,472.5 1399.5,472.5 1399.5,514.7 1363.8,514.7ZM1960.7,472.5 1995.8,472.5 2006.7,514.7 1971,514.7ZM2065.9,472.5 2241.3,472.5 2256.8,514.7 2078.2,514.7ZM1971,514.7 2006.7,514.7 2015,556.8 1978.8,556.8ZM2185.3,514.7 2256.8,514.7 2268.4,556.8 2196,556.8ZM2087.4,556.8 2123.6,556.8 2130.4,598.9 2093.9,598.9ZM2173.1,641 2320.4,641 2325.4,683.2 2177.3,683.2ZM2177.3,683.2 2362.5,683.2 2365.6,725.3 2179.8,725.3ZM2142.6,725.3 2291.2,725.3 2292.5,767.4 2143.7,767.4ZM2143.7,767.4 2218.1,767.4 2216.9,809.5 2142.6,809.5ZM810.1,893.8 847,893.8 851.3,935.9 814.8,935.9Z" fill="#ffeaea"/>
<path d="M1399.5,129.2 1468.9,129.2 1474.6,160.3 1399.5,160.3ZM1149,160.3 1199.1,160.3 1185.6,194.3 1132.1,194.3ZM1474.6,160.3 1574.8,160.3 1586.7,194.3 1479.7,194.3ZM1185.6,194.3 1292.5,194.3 1286.4,230.5 1173.4,230.5ZM1399.5,268.3 1429.2,268.3 1430.6,307.5 1399.5,307.5ZM1057.7,307.5 1088.8,307.5 1076.6,347.8 1044.3,347.8ZM2133.1,388.9 2166.5,388.9 2188.2,430.6 2153.9,430.6ZM2051,430.6 2222.5,430.6 2241.3,472.5 2065.9,472.5ZM557.7,472.5 698,472.5 685.1,514.7 542.2,514.7ZM1610,472.5 1645,472.5 1649.5,514.7 1613.8,514.7ZM2311.5,472.5 2346.6,472.5 2363.9,514.7 2328.2,514.7ZM542.2,514.7 720.8,514.7 711.6,556.8 530.6,556.8ZM1978.8,556.8 2015,556.8 2020.8,598.9 1984.2,598.9ZM2020.8,598.9 2093.9,598.9 2099.4,641 2025.7,641ZM2203.5,598.9 2276.6,598.9 2283.6,641 2209.9,641ZM2136.2,641 2173.1,641 2177.3,683.2 2140.2,683.2ZM2320.4,641 2357.2,641 2362.5,683.2 2325.4,683.2ZM2103.2,683.2 2177.3,683.2 2179.8,725.3 2105.5,725.3ZM2105.5,725.3 2142.6,725.3 2143.7,767.4 2106.5,767.4ZM2291.2,725.3 2365.6,725.3 2366.9,767.4 2292.5,767.4ZM2106.5,767.4 2143.7,767.4 2142.6,809.5 2105.5,809.5ZM2218.1,767.4 2255.3,767.4 2254.1,809.5 2216.9,809.5ZM2068.3,809.5 2216.9,809.5 2214.3,851.6 2066.2,851.6ZM769.9,851.6 843.9,851.6 847,893.8 773.3,893.8ZM773.3,893.8 810.1,893.8 814.8,935.9 778.2,935.9ZM847,893.8 883.8,893.8 887.9,935.9 851.3,935.9ZM778.2,935.9 887.9,935.9 892.6,978 784,978ZM1765,935.9 1874.6,935.9 1870.1,978 1761.5,978ZM1761.5,978 1833.9,978 1828.1,1020.1 1756.7,1020.1Z" fill="#fff4f4"/>
<path d="M547.8,160.3 572.9,160.3 517.1,194.3 490.4,194.3ZM2000.7,160.3 2075.8,160.3 2121.4,194.3 2041.2,194.3ZM436.9,194.3 543.9,194.3 495,230.5 381.9,230.5ZM1987.7,194.3 2228.4,194.3 2275.8,230.5 2021.4,230.5ZM2281.9,194.3 2335.3,194.3 2388.9,230.5 2332.3,230.5ZM1682.2,230.5 1738.7,230.5 1756.1,268.3 1696.6,268.3ZM1993.1,230.5 2077.9,230.5 2112.6,268.3 2023.5,268.3ZM1785.8,268.3 1993.8,268.3 2020.9,307.5 1803.4,307.5ZM2082.9,268.3 2261.2,268.3 2300.5,307.5 2114.1,307.5ZM333.8,347.8 430.7,347.8 399.1,388.9 299.1,388.9ZM1464.1,347.8 1496.4,347.8 1499.5,388.9 1466.2,388.9ZM1528.7,347.8 1657.8,347.8 1666.3,388.9 1532.9,388.9ZM1980.8,347.8 2013.1,347.8 2033.1,388.9 1999.7,388.9ZM299.1,388.9 365.8,388.9 336.5,430.6 267.9,430.6ZM832.6,388.9 932.7,388.9 919.4,430.6 816.5,430.6ZM1199.4,388.9 1266.1,388.9 1262.3,430.6 1193.8,430.6ZM1733,388.9 1933,388.9 1948.2,430.6 1742.4,430.6ZM2566.6,388.9 2600,388.9 2634,430.6 2599.7,430.6ZM370.8,430.6 473.6,430.6 452.4,472.5 347.2,472.5ZM782.3,430.6 816.5,430.6 803.2,472.5 768.1,472.5ZM417.4,472.5 452.4,472.5 435.1,514.7 399.3,514.7ZM838.3,472.5 978.6,472.5 970.9,514.7 828,514.7ZM435.1,514.7 470.8,514.7 458.2,556.8 422,556.8ZM720.8,514.7 792.3,514.7 784,556.8 711.6,556.8ZM458.2,556.8 530.6,556.8 522.4,598.9 449.3,598.9ZM1870.1,556.8 1906.4,556.8 1911.1,598.9 1874.6,598.9ZM412.8,598.9 449.3,598.9 441.8,641 404.9,641ZM1947.7,598.9 1984.2,598.9 1988.9,641 1952,641ZM1952,641 1988.9,641 1992.1,683.2 1955.1,683.2ZM1325.4,683.2 1362.5,683.2 1362.3,725.3 1325.2,725.3ZM433.4,725.3 507.8,725.3 506.5,767.4 432.1,767.4ZM432.1,767.4 506.5,767.4 507.8,809.5 433.4,809.5ZM1103.2,851.6 1140.2,851.6 1141.6,893.8 1104.8,893.8ZM1141.6,893.8 1178.5,893.8 1180.2,935.9 1143.7,935.9ZM1143.7,935.9 1180.2,935.9 1182.3,978 1146.1,978ZM1037.5,978 1182.3,978 1185.2,1020.1 1042.3,1020.1ZM768.1,1062.3 838.3,1062.3 850.8,1104.2 782.3,1104.2ZM919.4,1104.2 953.7,1104.2 966,1145.9 932.7,1145.9ZM932.7,1145.9 966,1145.9 979.7,1187 947.4,1187ZM818.2,1187 947.4,1187 964.5,1227.3 840.3,1227.3Z" fill="#cacaff"/>
<path d="M998.7,160.3 1098.9,160.3 1078.6,194.3 971.7,194.3ZM971.7,194.3 1105.4,194.3 1088.6,230.5 947.2,230.5ZM1319.3,194.3 1399.5,194.3 1399.5,230.5 1314.7,230.5ZM1640.1,194.3 1827.3,194.3 1851.8,230.5 1653.9,230.5ZM947.2,230.5 1060.3,230.5 1042.9,268.3 924.1,268.3ZM560.6,307.5 653.8,307.5 624.5,347.8 527.6,347.8ZM840.3,307.5 1057.7,307.5 1044.3,347.8 818.2,347.8ZM1368.4,307.5 1399.5,307.5 1399.5,347.8 1367.2,347.8ZM2362.6,307.5 2393.7,307.5 2432.9,347.8 2400.6,347.8ZM559.9,347.8 592.2,347.8 565.8,388.9 532.5,388.9ZM1066,388.9 1132.7,388.9 1125.2,430.6 1056.6,430.6ZM1566.2,388.9 1733,388.9 1742.4,430.6 1571,430.6ZM2333.2,388.9 2433.2,388.9 2462.5,430.6 2359.7,430.6ZM713.7,430.6 782.3,430.6 768.1,472.5 698,472.5ZM1708.1,430.6 1742.4,430.6 1750.3,472.5 1715.2,472.5ZM1913.9,430.6 1948.2,430.6 1960.7,472.5 1925.6,472.5ZM2291.1,430.6 2496.8,430.6 2521.9,472.5 2311.5,472.5ZM1329.3,472.5 1364.4,472.5 1363.8,514.7 1328.1,514.7ZM1680.1,472.5 1715.2,472.5 1721,514.7 1685.3,514.7ZM2346.6,472.5 2557,472.5 2578.3,514.7 2363.9,514.7ZM1292.3,514.7 1363.8,514.7 1363.3,556.8 1290.9,556.8ZM1899.6,514.7 1935.3,514.7 1942.6,556.8 1906.4,556.8ZM2328.2,514.7 2578.3,514.7 2594.2,556.8 2340.8,556.8ZM965.1,556.8 1037.5,556.8 1034,598.9 960.9,598.9ZM1942.6,556.8 1978.8,556.8 1984.2,598.9 1947.7,598.9ZM2340.8,556.8 2558,556.8 2569,598.9 2349.7,598.9ZM778.2,598.9 924.4,598.9 920.6,641 773.3,641ZM997.5,598.9 1107.1,598.9 1104.8,641 994.3,641ZM2349.7,598.9 2422.8,598.9 2430.9,641 2357.2,641ZM736.4,641 847,641 843.9,683.2 732.8,683.2ZM994.3,641 1252.2,641 1251.4,683.2 992.1,683.2ZM1988.9,641 2025.7,641 2029.1,683.2 1992.1,683.2ZM732.8,683.2 806.9,683.2 805,725.3 730.7,725.3ZM992.1,683.2 1251.4,683.2 1250.9,725.3 990.8,725.3ZM582.1,725.3 619.2,725.3 618.1,767.4 580.9,767.4ZM916.5,725.3 953.6,725.3 953,767.4 915.8,767.4ZM1027.9,725.3 1325.2,725.3 1325.1,767.4 1027.4,767.4ZM1362.3,725.3 1399.5,725.3 1399.5,767.4 1362.3,767.4ZM320.5,767.4 357.7,767.4 359.1,809.5 322,809.5ZM543.7,767.4 618.1,767.4 619.2,809.5 544.9,809.5ZM953,767.4 990.2,767.4 990.8,809.5 953.6,809.5ZM1064.6,767.4 1250.7,767.4 1250.9,809.5 1065.1,809.5ZM1325.1,767.4 1362.3,767.4 1362.3,809.5 1325.2,809.5ZM322,809.5 396.3,809.5 399.5,851.6 325.4,851.6ZM544.9,809.5 619.2,809.5 621.7,851.6 547.6,851.6ZM1139.4,809.5 1250.9,809.5 1251.4,851.6 1140.2,851.6ZM1325.2,809.5 1436.7,809.5 1436.5,851.6 1325.4,851.6ZM325.4,851.6 399.5,851.6 404.9,893.8 331.2,893.8ZM1177.3,851.6 1288.4,851.6 1289,893.8 1178.5,893.8ZM1325.4,851.6 1436.5,851.6 1436.3,893.8 1325.8,893.8ZM1215.3,893.8 1325.8,893.8 1326.4,935.9 1216.8,935.9ZM2173.1,893.8 2320.4,893.8 2313.2,935.9 2167,935.9ZM1289.9,935.9 1326.4,935.9 1327.1,978 1290.9,978ZM2093.9,935.9 2276.6,935.9 2268.4,978 2087.4,978ZM747.8,978 784,978 792.3,1020.1 756.5,1020.1ZM1327.1,978 1544.3,978 1542.4,1020.1 1328.1,1020.1ZM1942.6,978 2015,978 2006.7,1020.1 1935.3,1020.1ZM1470.9,1020.1 1649.5,1020.1 1645,1062.3 1469.7,1062.3ZM1899.6,1020.1 1971,1020.1 1960.7,1062.3 1890.6,1062.3ZM1645,1062.3 1785.3,1062.3 1776.7,1104.2 1639.5,1104.2ZM1090.9,1104.2 1159.5,1104.2 1166.1,1145.9 1099.4,1145.9ZM1296.6,1104.2 1399.5,1104.2 1399.5,1145.9 1299.5,1145.9ZM1032.7,1145.9 1132.7,1145.9 1141.2,1187 1044.3,1187ZM1012,1187 1108.9,1187 1119.9,1227.3 1026.7,1227.3Z" fill="#eaeaff"/>
<path d="M1299.3,160.3 1374.5,160.3 1372.8,194.3 1292.5,194.3ZM1536.7,430.6 1571,430.6 1574.9,472.5 1539.8,472.5ZM2006.7,514.7 2113.9,514.7 2123.6,556.8 2015,556.8Z" fill="#ffd4d4"/>
<path d="M624.1,194.3 704.3,194.3 664.6,230.5 579.8,230.5ZM1827.3,194.3 1987.7,194.3 2021.4,230.5 1851.8,230.5ZM523.2,230.5 721.1,230.5 686.4,268.3 478.3,268.3ZM1173.4,230.5 1314.7,230.5 1310.4,268.3 1161.8,268.3ZM1738.7,230.5 1908.3,230.5 1934.4,268.3 1756.1,268.3ZM2275.8,230.5 2360.6,230.5 2409.8,268.3 2320.7,268.3ZM448.6,268.3 716.1,268.3 684.9,307.5 405.3,307.5ZM1132.1,268.3 1250.9,268.3 1244.2,307.5 1119.9,307.5ZM1119.9,307.5 1368.4,307.5 1367.2,347.8 1108.9,347.8ZM1585.9,307.5 1648.1,307.5 1657.8,347.8 1593.3,347.8ZM2051.9,307.5 2300.5,307.5 2336,347.8 2077.7,347.8ZM850.5,347.8 979.7,347.8 966,388.9 832.6,388.9ZM1334.9,347.8 1367.2,347.8 1366.2,388.9 1332.8,388.9ZM1431.8,347.8 1464.1,347.8 1466.2,388.9 1432.8,388.9ZM2013.1,347.8 2077.7,347.8 2099.8,388.9 2033.1,388.9ZM765.9,388.9 832.6,388.9 816.5,430.6 748,430.6ZM1266.1,388.9 1299.5,388.9 1296.6,430.6 1262.3,430.6ZM1933,388.9 2033.1,388.9 2051,430.6 1948.2,430.6ZM1022.3,430.6 1159.5,430.6 1154,472.5 1013.7,472.5ZM1228,430.6 1330.9,430.6 1329.3,472.5 1224.1,472.5ZM312.1,472.5 417.4,472.5 399.3,514.7 292.2,514.7ZM768.1,472.5 838.3,472.5 828,514.7 756.5,514.7ZM1294.3,472.5 1329.3,472.5 1328.1,514.7 1292.3,514.7ZM1715.2,472.5 1820.4,472.5 1828.1,514.7 1721,514.7ZM185,514.7 399.3,514.7 385.8,556.8 168.6,556.8ZM899.4,514.7 1042.3,514.7 1037.5,556.8 892.6,556.8ZM277.2,556.8 385.8,556.8 376.2,598.9 266.6,598.9ZM747.8,556.8 965.1,556.8 960.9,598.9 741.7,598.9ZM1906.4,556.8 1942.6,556.8 1947.7,598.9 1911.1,598.9ZM266.6,598.9 376.2,598.9 368.1,641 257.6,641ZM924.4,598.9 997.5,598.9 994.3,641 920.6,641ZM1289.9,598.9 1326.4,598.9 1325.8,641 1289,641ZM257.6,641 294.4,641 288.4,683.2 251.3,683.2ZM847,641 994.3,641 992.1,683.2 843.9,683.2ZM1252.2,641 1289,641 1288.4,683.2 1251.4,683.2ZM1325.8,641 1362.7,641 1362.5,683.2 1325.4,683.2ZM918,683.2 992.1,683.2 990.8,725.3 916.5,725.3ZM1251.4,683.2 1325.4,683.2 1325.2,725.3 1250.9,725.3ZM1362.5,683.2 1399.5,683.2 1399.5,725.3 1362.3,725.3ZM359.1,725.3 396.3,725.3 394.9,767.4 357.7,767.4ZM544.9,725.3 582.1,725.3 580.9,767.4 543.7,767.4ZM953.6,725.3 1027.9,725.3 1027.4,767.4 953,767.4ZM1325.2,725.3 1362.3,725.3 1362.3,767.4 1325.1,767.4ZM357.7,767.4 394.9,767.4 396.3,809.5 359.1,809.5ZM990.2,767.4 1064.6,767.4 1065.1,809.5 990.8,809.5ZM1250.7,767.4 1325.1,767.4 1325.2,809.5 1250.9,809.5ZM396.3,809.5 433.4,809.5 436.5,851.6 399.5,851.6ZM507.8,809.5 544.9,809.5 547.6,851.6 510.6,851.6ZM1102.3,809.5 1139.4,809.5 1140.2,851.6 1103.2,851.6ZM1250.9,809.5 1325.2,809.5 1325.4,851.6 1251.4,851.6ZM399.5,851.6 436.5,851.6 441.8,893.8 404.9,893.8ZM1288.4,851.6 1325.4,851.6 1325.8,893.8 1289,893.8ZM1178.5,893.8 1215.3,893.8 1216.8,935.9 1180.2,935.9ZM1180.2,935.9 1289.9,935.9 1290.9,978 1182.3,978ZM1290.9,978 1327.1,978 1328.1,1020.1 1292.3,1020.1ZM2015,978 2232.2,978 2221.1,1020.1 2006.7,1020.1ZM756.5,1020.1 899.4,1020.1 908.4,1062.3 768.1,1062.3ZM935.1,1020.1 970.9,1020.1 978.6,1062.3 943.5,1062.3ZM1292.3,1020.1 1470.9,1020.1 1469.7,1062.3 1294.3,1062.3ZM2042.5,1020.1 2221.1,1020.1 2206.3,1062.3 2030.9,1062.3ZM1013.7,1062.3 1434.6,1062.3 1433.8,1104.2 1022.3,1104.2ZM1539.8,1062.3 1645,1062.3 1639.5,1104.2 1536.7,1104.2ZM1785.3,1062.3 1960.7,1062.3 1948.2,1104.2 1776.7,1104.2ZM2030.9,1062.3 2171.2,1062.3 2153.9,1104.2 2016.7,1104.2ZM1022.3,1104.2 1090.9,1104.2 1099.4,1145.9 1032.7,1145.9ZM1159.5,1104.2 1296.6,1104.2 1299.5,1145.9 1166.1,1145.9ZM1399.5,1104.2 1468.1,1104.2 1466.2,1145.9 1399.5,1145.9ZM1502.4,1104.2 1673.8,1104.2 1666.3,1145.9 1499.5,1145.9ZM1913.9,1104.2 2119.6,1104.2 2099.8,1145.9 1899.7,1145.9ZM966,1145.9 1032.7,1145.9 1044.3,1187 979.7,1187ZM1399.5,1145.9 1699.6,1145.9 1690.1,1187 1399.5,1187ZM1866.3,1145.9 2033.1,1145.9 2013.1,1187 1851.6,1187ZM947.4,1187 1012,1187 1026.7,1227.3 964.5,1227.3ZM964.5,1227.3 1088.8,1227.3 1102.4,1266.5 983.5,1266.5Z" fill="#dfdfff"/>
<path d="M381.9,230.5 495,230.5 448.6,268.3 329.8,268.3ZM2360.6,230.5 2417.1,230.5 2469.2,268.3 2409.8,268.3ZM389.2,268.3 448.6,268.3 405.3,307.5 343.2,307.5ZM1696.6,268.3 1785.8,268.3 1803.4,307.5 1710.2,307.5ZM2350.4,268.3 2439.5,268.3 2486.9,307.5 2393.7,307.5ZM281,307.5 343.2,307.5 301.5,347.8 236.9,347.8ZM1772.3,307.5 1958.7,307.5 1980.8,347.8 1787,347.8ZM1754.7,347.8 1948.5,347.8 1966.4,388.9 1766.3,388.9ZM487.5,472.5 557.7,472.5 542.2,514.7 470.8,514.7ZM470.8,514.7 542.2,514.7 530.6,556.8 458.2,556.8ZM1068,893.8 1141.6,893.8 1143.7,935.9 1070.6,935.9ZM1107.1,935.9 1143.7,935.9 1146.1,978 1109.9,978ZM885.1,1104.2 919.4,1104.2 932.7,1145.9 899.3,1145.9Z" fill="#b5b5ff"/>
<path d="M1653.9,230.5 1682.2,230.5 1696.6,268.3 1666.9,268.3ZM1908.3,230.5 1993.1,230.5 2023.5,268.3 1934.4,268.3ZM2219.2,230.5 2275.8,230.5 2320.7,268.3 2261.2,268.3ZM1666.9,268.3 1696.6,268.3 1710.2,307.5 1679.1,307.5ZM1993.8,268.3 2082.9,268.3 2114.1,307.5 2020.9,307.5ZM2261.2,268.3 2350.4,268.3 2393.7,307.5 2300.5,307.5ZM1492.7,307.5 1585.9,307.5 1593.3,347.8 1496.4,347.8ZM1648.1,307.5 1679.1,307.5 1690.1,347.8 1657.8,347.8ZM2020.9,307.5 2051.9,307.5 2077.7,347.8 2045.4,347.8ZM1173.4,347.8 1334.9,347.8 1332.8,388.9 1166.1,388.9ZM1657.8,347.8 1754.7,347.8 1766.3,388.9 1666.3,388.9ZM365.8,388.9 432.5,388.9 405.1,430.6 336.5,430.6ZM1132.7,388.9 1199.4,388.9 1193.8,430.6 1125.2,430.6ZM1299.5,388.9 1332.8,388.9 1330.9,430.6 1296.6,430.6ZM199.3,430.6 370.8,430.6 347.2,472.5 171.8,472.5ZM885.1,430.6 1022.3,430.6 1013.7,472.5 873.4,472.5ZM1159.5,430.6 1228,430.6 1224.1,472.5 1154,472.5ZM1742.4,430.6 1845.3,430.6 1855.5,472.5 1750.3,472.5ZM206.9,472.5 312.1,472.5 292.2,514.7 185,514.7ZM978.6,472.5 1048.7,472.5 1042.3,514.7 970.9,514.7ZM399.3,514.7 435.1,514.7 422,556.8 385.8,556.8ZM792.3,514.7 899.4,514.7 892.6,556.8 784,556.8ZM1863.9,514.7 1899.6,514.7 1906.4,556.8 1870.1,556.8ZM168.6,556.8 277.2,556.8 266.6,598.9 156.9,598.9ZM385.8,556.8 458.2,556.8 449.3,598.9 376.2,598.9ZM711.6,556.8 747.8,556.8 741.7,598.9 705.1,598.9ZM193.5,598.9 266.6,598.9 257.6,641 183.9,641ZM376.2,598.9 412.8,598.9 404.9,641 368.1,641ZM1289,641 1325.8,641 1325.4,683.2 1288.4,683.2ZM510.6,683.2 547.6,683.2 544.9,725.3 507.8,725.3ZM1955.1,683.2 1992.1,683.2 1994,725.3 1956.8,725.3ZM396.3,725.3 433.4,725.3 432.1,767.4 394.9,767.4ZM507.8,725.3 544.9,725.3 543.7,767.4 506.5,767.4ZM394.9,767.4 432.1,767.4 433.4,809.5 396.3,809.5ZM506.5,767.4 543.7,767.4 544.9,809.5 507.8,809.5ZM433.4,809.5 507.8,809.5 510.6,851.6 436.5,851.6ZM1140.2,851.6 1177.3,851.6 1178.5,893.8 1141.6,893.8ZM1001.3,978 1037.5,978 1042.3,1020.1 1006.6,1020.1ZM1182.3,978 1290.9,978 1292.3,1020.1 1185.2,1020.1ZM970.9,1020.1 1292.3,1020.1 1294.3,1062.3 978.6,1062.3ZM1971,1020.1 2042.5,1020.1 2030.9,1062.3 1960.7,1062.3ZM943.5,1062.3 1013.7,1062.3 1022.3,1104.2 953.7,1104.2ZM1434.6,1062.3 1539.8,1062.3 1536.7,1104.2 1433.8,1104.2ZM1960.7,1062.3 2030.9,1062.3 2016.7,1104.2 1948.2,1104.2ZM953.7,1104.2 1022.3,1104.2 1032.7,1145.9 966,1145.9ZM1468.1,1104.2 1502.4,1104.2 1499.5,1145.9 1466.2,1145.9ZM1673.8,1104.2 1913.9,1104.2 1899.7,1145.9 1666.3,1145.9ZM1766.3,1145.9 1866.3,1145.9 1851.6,1187 1754.7,1187ZM871.3,1227.3 964.5,1227.3 983.5,1266.5 894.4,1266.5Z" fill="#d4d4ff"/>
<path d="M2077.9,230.5 2219.2,230.5 2261.2,268.3 2112.6,268.3ZM343.2,307.5 436.4,307.5 398.4,347.8 301.5,347.8ZM1679.1,307.5 1772.3,307.5 1787,347.8 1690.1,347.8ZM1958.7,307.5 2020.9,307.5 2045.4,347.8 1980.8,347.8ZM2393.7,307.5 2455.8,307.5 2497.5,347.8 2432.9,347.8ZM236.9,347.8 333.8,347.8 299.1,388.9 199,388.9ZM1496.4,347.8 1528.7,347.8 1532.9,388.9 1499.5,388.9ZM1948.5,347.8 1980.8,347.8 1999.7,388.9 1966.4,388.9ZM2465.2,347.8 2562.1,347.8 2600,388.9 2499.9,388.9ZM199,388.9 299.1,388.9 267.9,430.6 165,430.6ZM473.6,430.6 542.2,430.6 522.6,472.5 452.4,472.5ZM850.8,430.6 885.1,430.6 873.4,472.5 838.3,472.5ZM452.4,472.5 487.5,472.5 470.8,514.7 435.1,514.7ZM1911.1,598.9 1947.7,598.9 1952,641 1915.2,641ZM1915.2,641 1952,641 1955.1,683.2 1918,683.2ZM1034,935.9 1107.1,935.9 1109.9,978 1037.5,978ZM838.3,1062.3 908.4,1062.3 919.4,1104.2 850.8,1104.2ZM748,1104.2 816.5,1104.2 832.6,1145.9 765.9,1145.9ZM765.9,1145.9 799.3,1145.9 818.2,1187 785.9,1187ZM899.3,1145.9 932.7,1145.9 947.4,1187 915.1,1187ZM785.9,1187 818.2,1187 840.3,1227.3 809.2,1227.3Z" fill="#bfbfff"/>
<path d="M329.8,268.3 389.2,268.3 343.2,307.5 281,307.5ZM2439.5,268.3 2469.2,268.3 2518,307.5 2486.9,307.5ZM2455.8,307.5 2518,307.5 2562.1,347.8 2497.5,347.8ZM816.5,430.6 850.8,430.6 838.3,472.5 803.2,472.5ZM816.5,1104.2 885.1,1104.2 899.3,1145.9 832.6,1145.9ZM799.3,1145.9 899.3,1145.9 915.1,1187 818.2,1187Z" fill="#aaaaff"/>
<path d="M2199.8,388.9 2299.8,388.9 2325.4,430.6 2222.5,430.6ZM1399.5,472.5 1434.6,472.5 1435.2,514.7 1399.5,514.7ZM1574.9,472.5 1610,472.5 1613.8,514.7 1578.1,514.7ZM1995.8,472.5 2065.9,472.5 2078.2,514.7 2006.7,514.7ZM2015,556.8 2087.4,556.8 2093.9,598.9 2020.8,598.9Z" fill="#ffdfdf"/>
<path d="M1468.1,430.6 1536.7,430.6 1539.8,472.5 1469.7,472.5ZM1469.7,472.5 1539.8,472.5 1542.4,514.7 1470.9,514.7Z" fill="#ffbfbf"/>
<path d="M2222.5,430.6 2291.1,430.6 2311.5,472.5 2241.3,472.5ZM1434.6,472.5 1469.7,472.5 1470.9,514.7 1435.2,514.7ZM1539.8,472.5 1574.9,472.5 1578.1,514.7 1542.4,514.7ZM1470.9,514.7 1506.7,514.7 1508.1,556.8 1471.9,556.8Z" fill="#ffcaca"/>
</g>
<use href="#land" fill="none" stroke="#000" stroke-width="1.05" stroke-linejoin="round"/>
<path d="M1713.9,393.1 1721,380.6 1726.6,376.5 1738.8,372.4 1749.8,376.5 1752.3,386.4 1744,393.1 1736.4,394.7 1743.6,405.5 1754.8,409.7 1758.8,418 1766.9,423.9 1762.3,430.6 1768.2,438.9 1772.9,451.5 1768.3,456.6 1754.7,458.2 1743.2,452.4 1737.5,444 1738.8,436.4 1743.9,428 1737.8,424.7 1728.8,414.7 1720,405.5 1718.2,397.2Z" fill="none" stroke="#000" stroke-width="0.85"/>
<path d="M1384.1,471.7 1387.5,485.2 1391,496.1 1373.9,507.1 1360.2,516.4 1337.1,525.6 1336.9,537.4M1336.9,537.4 1304.6,534M1336.9,537.4 1336.7,548.4 1312.8,548.4 1312.3,569.4 1305,573.6 1304.7,588 1275.5,588M1336.9,537.4 1364.7,556.8 1351.7,556.8 1359,636.8 1331,636.8 1314.8,636 1309.6,642.7M1364.7,556.8 1412.6,596.4 1422.9,606.5 1430.2,606.5 1441.9,603.1 1486.7,569.4M1486.7,569.4 1468.1,545 1470.2,514.7 1467.3,513 1452.4,482.6 1457.3,456.6M1467.3,513 1472.9,507.1 1480.8,488.5M1486.7,569.4 1508.6,573.6 1575.1,603.1 1574.9,598.9 1582.2,598.9 1581.6,582.1 1577.2,501.2M1581.6,582.1 1668.3,582.1M1508.6,573.6 1512.6,590.5 1513.4,625 1499.9,652 1473.3,655.4 1451.2,657.9 1429,653.7 1426.1,668.8M1430.2,606.5 1430.4,627.6 1425.3,637.7 1401,641 1417.2,666.3 1426.1,668.8 1419.5,691.6 1419.6,714.3M1401,641 1384.7,647.8 1370,656.2 1358.8,679.8 1340.3,681.5 1336.6,670.5 1315.2,662.9 1309.6,642.7 1296.6,627.6 1278.1,632.6M1358.8,679.8 1378.8,687.4 1379.4,724.4M1378.8,687.4 1378,674.7 1406.2,674.7 1403.2,695.8 1408.4,716M1406.2,674.7 1417.2,666.3M1340.3,681.5 1338.7,695.8 1343.8,712.6 1343.8,730.3M1338.7,695.8 1323.1,695.8 1314.1,709.3M1323.1,695.8 1314.3,683.2 1300.9,691.6M1315.2,662.9 1298.3,662.1 1288.5,674.7M1298.3,662.1 1276.1,662.9M1575.1,603.1 1576.1,635.1 1565.5,649.5 1569,674.7 1540.4,691.6 1514.5,704.2 1504.7,683.2 1506.6,660.4 1499.9,652M1504.4,662.1 1497.3,683.2 1484.9,710.1 1463.4,727M1569,674.7 1584.6,680.6 1607,687.4 1629.2,684.8 1643.8,678.9 1652.1,683.2M1682.6,615.8 1671.3,624.2 1668.7,646.9 1666.2,660.4 1652.1,683.2 1644.3,700.8 1659.5,721.1 1667.1,729.5 1693.2,737.9 1704.3,734.5M1668.7,646.9 1694.4,645.2 1712.8,662.1M1712.8,662.1 1708.9,674.7 1717.7,674.7 1716.3,674.7 1718.1,687.4 1733.2,694.9 1755.6,700 1733.9,725.3 1711.7,732 1704.3,734.5 1704.6,775 1708.3,781.7M1659.6,725.3 1652.3,732 1630,736.2 1628.5,737.9 1618.8,730.3 1603.1,724.4 1585.3,725.3 1566.8,732.9 1544.4,724.4 1537.8,737.9 1520,748.9 1498.4,748.9 1472.4,748M1603.1,724.4 1577.5,694.1 1569,674.7M1514.5,704.2 1507.3,725.3 1520,748.9M1690.8,807 1679.1,792.7 1652.5,775.8 1652.5,763.2 1659.9,752.2 1652.3,732M1628.5,737.9 1630.1,748.9 1619.7,779.2 1615.2,791 1617.3,804.5 1618.6,817.9 1627.2,836.5 1643.3,846.6 1650.7,848.3 1657.7,864.3 1676.8,866 1698.6,855.9M1652.5,775.8 1626.5,775.8 1619.7,779.2M1626.5,775.8 1628.6,787.6 1626.2,804.5 1617.3,804.5M1627.2,836.5 1613.8,839 1610,845.7 1611,868.5 1619.8,870.2 1613.6,880.3 1600.6,868.5 1577.1,860.1 1576.8,876.1 1562,876.9 1561.3,903.9 1571.2,915.7M1577.1,859.2 1563.8,861.8 1561.3,828.9 1544.3,826.4 1543.4,834.8 1530.1,835.6 1522.8,817.1 1496.1,817.1 1490.1,816.3M1537.8,737.9 1532,771.6 1520,785.9 1513.2,803.6 1496.9,806.2 1488.7,809.5M1482,800.3 1488.8,787.6 1506.6,784.2 1507.4,771.6 1498.5,756.4 1498.4,748.9M1472.4,759 1483.6,759 1483.6,748.9M1486.1,913.1 1502.3,914 1535.3,914 1571.2,915.7 1585.1,917.4M1553.4,921.6 1552.5,952.7 1545.2,952.7 1544.4,976.3 1543.1,1006.7 1521.6,1004.1 1517.9,1008.3M1544.4,976.3 1548.7,993.2 1565.9,980.5 1584.6,983.1 1595.6,966.2 1613.6,954.4 1601.1,940.1 1585.1,917.4 1612.1,901.3 1623.3,898.8 1642,908.1 1639.4,931.7 1627.3,956.1 1631.5,973.8 1630.2,993.2 1636.6,994M1613.6,954.4 1627.3,956.1M1623.3,898.8 1622.1,892.1 1644.4,885.3 1640.8,882 1643.6,864.3 1646.3,847.4M1644.4,885.3 1653.8,889.6 1662.9,902.2 1658.8,911.5 1651.8,902.2M1592.6,1016.8 1603.9,1009.2 1609.9,1015.1 1600.6,1025.2 1594.4,1021.8 1592.6,1016.8M1621.6,993.2 1630,985.6 1630.9,993.2 1624.9,997.4 1621.6,993.2M1649.2,518.9 1657.3,521.4 1667.4,514.7 1662.5,502 1676.2,497.8 1686.3,498.7 1698.5,505.4 1719.6,521.4 1732.6,522.2 1741.8,527.3 1746.8,527.3M1676.2,497.8 1673.4,486 1687.8,477.6 1694.3,454.9M1651.5,491.9 1673.4,486M1642.8,503.7 1649.2,518.9M1732.6,522.2 1741.7,514.7 1742.5,515.5M1741.9,510.5 1735.2,493.6 1719.3,481 1721.1,465.8 1710.9,454 1707.4,433.9M1694.3,454.9 1710.9,454M1651.8,459.1 1654.8,455.7 1678,457.4 1694.3,454.9M1780.2,607.3 1801.5,598.9 1805.2,582.1 1801.1,576.2 1782,574.5 1773.8,563.5M1801.1,576.2 1805.8,564.4 1808,557.6M1780.2,607.3 1756.4,611.5 1744.7,624.2 1722.5,620.8 1717.7,626.7 1714.2,629.2M1780.2,607.3 1789.8,627.6M1707.4,433.9 1720.1,439.8 1729.5,434.7 1737.5,444M1773.9,453.2 1787.3,447.3 1805.3,450.7 1826,459.1 1828.3,476.8 1826.3,484.3 1832.4,502 1839.6,506.2 1834.7,515.5 1853.2,538.3 1845.3,555.1M1834.7,515.5 1873.3,515.5 1871.3,504.6 1891.4,498.7 1892.5,481 1899.7,478.4 1898.7,459.9 1920.1,454M1826,459.1 1849.5,461.6 1861.3,452.4 1872.5,455.7 1898.7,459.9M1787.3,447.3 1789.1,419.7 1781,419.7 1795.4,407.2 1806.2,412.2 1816.7,401.4 1849.8,422.2 1861.3,452.4M1816.7,401.4 1788.9,383.9 1773,388.9 1781,419.7M1849.8,422.2 1863.4,422.2 1877.6,413 1880.5,411.3 1895.5,405.5 1943.1,412.2M1863.4,422.2 1882.5,428.9 1905.5,434.7 1920.1,454M1719.3,418 1725.2,413.8 1711.8,398.9 1717.2,393.1 1705.1,360.9 1713.2,349.4 1723.6,334 1752.7,341.3 1775.3,339.7 1794.4,341.3 1782,316.3 1805.1,311.5 1833.7,305.9 1861.9,319.5 1884.6,321.1 1913.2,341.3 1952,351.1 1966.8,355.2M1943.1,412.2 1934.4,388.9 1949.1,387.3 1962.7,369.1 1966.8,355.2 1980.8,347.8 2023.2,331.6 2055.9,343.7 2085.9,345.4 2131.4,351.1 2154.3,349.4 2190.2,374.9 2167.9,385.6 2150.9,399.7 2113.6,417.2 2051.1,408 2005.7,387.3 1970.1,355.2M2154.3,349.4 2158.4,327.5 2176.4,319.5 2224.1,349.4 2258.7,366.6 2280.9,360.9 2286.5,388.9 2284,406.3 2283.8,410.5M1920.1,454 1945.6,468.3 1959.1,493.6 1977.8,513 1993.7,520.6 2010.6,529 2032.8,532.4 2040.3,537.4 2061,533.2 2086.6,519.7 2098.4,529.8 2109.6,534.9 2112.7,556.8 2107,565.2 2124.2,582.1 2137.1,585.4 2142.6,578.7 2156.3,577.8 2175.4,574.5 2186.9,586.3M1977.8,513 1973.8,524.8 1997,536.6 2012,539.9 2035.2,544.2 2032.8,532.4M1894.7,567.7 1914.3,561.8 1903.9,539.9 1916.2,527.3 1930,506.2 1922.7,489.4 1933.6,493.6 1945.6,468.3M2035.2,544.2 2042.4,548.4 2049.3,554.3 2067.8,556.8 2070.6,573.6 2064.7,573.6 2074.8,588 2073.3,593M2035.2,544.2 2039.5,561 2046,574.5 2048.7,583.7M2074.8,588 2076.5,565.2 2087.2,548.4 2098.4,529.8M2107,565.2 2118.3,572M2124.2,582.1 2130.8,596.4 2116,610.7 2126.6,629.2 2123,641 2133.1,668 2130.5,681.5M2137.1,585.4 2146.4,603.1 2140.8,620 2168,620 2178.1,646.1 2181.2,646.9 2191.8,643.6M2142.6,578.7 2152.2,593 2164.3,595.5 2168.7,609.9 2191.8,643.6 2194.1,663.8 2182.1,669.7 2184.1,675.6 2172.6,679.8M2178.1,646.1 2158.4,647.8 2154.7,654.5 2160.5,668.8M2142.8,713.5 2150.5,719.4 2157.8,715.2M2214.9,750.6 2232.9,756.4 2252.2,755.6 2260.3,731.2 2273.7,732M2448.3,789.3 2444.7,844.1M2252.7,430.6 2261.4,416.3 2273,418.9 2277.7,410.5 2283.8,410.5M2273.5,449 2286.2,442.3M1339.1,414.7 1357.3,417.2 1351.1,445.6 1348.1,454M1387.4,402.2 1404.2,408 1421.2,410.5M1415.5,338.9 1426.6,347.8 1438.9,347 1441,351.9 1452.8,356 1449.4,367.5 1439.2,379 1445.9,381.5 1449.9,398.9M1421.2,336.4 1438,341.3 1442.8,331.6 1444.9,321.9M1453.6,308.3 1461.1,309.1M1488.5,316.3 1493.8,339.7 1477.5,345.4 1489.4,357.6 1484.9,368.3 1462.5,368.3 1449.4,367.5M1462.5,368.3 1468.8,374 1479.9,372.4 1490,376.5 1505.6,373.2 1511.4,364.2 1509.6,358.4 1493.8,339.7M1493.8,339.7 1508.5,346.2 1521.3,351.9 1546.4,355.2 1553.8,342.9 1548.5,327.5 1549.2,315.5 1541.9,312.3 1523.1,312.3M1521.3,351.9 1511.4,364.2M1546.4,355.2 1544.4,360.9 1522.7,365.8 1511.4,364.2M1505.6,373.2 1509.2,376.5 1524.2,381.5 1534,379.8 1544.4,360.9M1544.4,360.9 1562.8,366.6 1573.3,361.7 1587,384.8 1597.3,387.3M1534,379.8 1542.4,390.6 1551.6,395.5 1551.2,411.3 1571.9,420.5 1578.9,416.3 1589.5,413.8M1551.6,395.5 1567.5,399.7 1580.5,396.4 1591.7,399.7M1490,376.5 1490.6,384.8M1551.2,411.3 1540,421.4 1536.9,433.1M1578.9,416.3 1579.7,423 1577.2,424.7M1549.2,315.5 1559.9,308.3 1563.8,302 1573,298 1567.9,287.8 1563.3,273 1566.7,272.2M1529.4,298.8 1553.1,297.2 1563.8,302M1547.3,284.6 1566.1,287.8M1548.5,327.5 1550.9,335.6 1553.8,342.9M1550.9,335.6 1595.3,337.2 1607.1,329.2 1599.1,317.1 1591.2,309.1 1573,298M1595.3,337.2 1619.8,338.1 1628.1,344.5 1659.2,351.1 1659.7,365.8 1651.5,370.7M1573.3,361.7 1590.8,365 1597.9,377.3M1567.9,263.7 1574.6,259.1 1581.5,246.2 1567.9,225.3 1556.4,201.4 1565.7,197.9M1535.2,224.6 1528.8,209.3 1510.8,200.7 1538.5,201.4 1548.7,194.3 1556.4,201.4M1510.8,200.7 1497.4,205 1480.5,222.4 1473.8,237.9 1471.3,260.6 1473.8,268.3 1467.9,276.1M1681.9,418 1696.1,421.4 1706,419.7 1715.2,414.7 1719.3,418M1668.8,402.2 1686,403.9 1700.3,408 1715.2,414.7M1696.1,421.4 1699.1,429.7 1707.4,433.9M1706,419.7 1710.4,424.7 1720.1,439.8M597.7,356 780.4,356 784.3,353.5 804.2,363.3 816.9,364.2 839.1,376.5 846,380.6 850.3,386.4 843.5,405.5 835.9,413 866.4,405.5 866.6,401.4 887.2,396.4 899.3,388.9 922.7,388.9 933.5,380.6 944.8,369.1 953.1,371.6 949.5,382.3 952.7,388.9M642.4,196.8 563.9,266 573.4,268.3 574.7,276.1 592.7,269.9 594.2,280.7 591.6,294.8 597.8,300.4 588.5,309.1M570.1,493.6 587.6,491.9 609.9,503.7 629.8,503.7 631.2,499.5 643.2,499.5 651.5,509.6 652,518 660.7,523.1 666.8,516.4 674.6,516.4 683.4,535.7 697.2,549.2M719.8,645.2 721.8,640.2 725,631.8 734.5,631.8 731.3,622.5 731.9,617.4 745.1,617.4 743.2,633.5 745.4,633.5M745.1,617.4 752.4,612.4M743.2,633.5 741.8,646.1 734.6,652M741.8,646.1 751.7,650.3 751.8,657.9M751.8,657.9 759.8,651.1 767.2,650.3 774.6,642.7 786.5,641M765.3,673.9 772.6,674.7 780,675.6M784.5,699.2 785,690.7 787.4,686.5M872.2,668 860,687.4 865.1,705.9 879.1,708.4 898.2,715.2 895.4,733.7 901,757.3 880.2,753.1 882.3,775.8 879.9,802.8 876.8,799.4 863.9,786.8 845.1,769.1 839.1,768.2 822.8,764 813.2,755.6M839.1,768.2 837.7,780 819.4,795.2 812.4,809.5 802.4,796M901,757.3 912.1,760.7 923.4,750.6 923.7,733.7 938.6,732.9 948.5,723.6 943.5,716.9 955.2,698.3M948.5,723.6 954.3,729.5 954.6,748 962,757.3 979.1,751.4 973.4,738.8 974.6,717.7M979.1,751.4 993.3,748 998.4,719.4M993.3,748 1006,748.9 1015.1,733.7M879.9,802.8 857.8,811.2 851.8,828.9 859.2,846.6 877.1,847.4 877,860.1 884.4,859.6 892.5,860.1 915.7,850 916.6,866.8 934,874.4 955.2,882.8 956.8,904.7 970.8,904.7 972.3,914.8 977.1,919 976.9,934.2 974.2,937.6 977.8,953.6 994,955.3 997.5,969.6 1005.6,970.4 1004.7,983.1 1011.9,995.7 998.9,1006.7 988.3,1021.8 1003.5,1027.7 1023,1051.3M884.4,859.6 891.9,873.5 891.2,893.8 889.3,914 883.5,921.6M889.3,914 898,927.5 902.1,946.8 910.7,959.5 926.1,953.6 943,954.4 947.5,932.5 967,930 974.2,937.6M943,954.4 964.1,969.6 982.8,981.4 977.4,996.5 996.3,997.4 1004.7,983.1M988.3,1021.8 987.3,1041.2 988.2,1053.8M910.7,959.5 903.7,973.8 907.3,994.9 900.8,1020.1 903.9,1045.4 907.3,1066.5 907.6,1091.7 909.6,1112.6 917.8,1137.6 927,1158.3 926.1,1178.8 935.9,1195.1 960.7,1204 965.5,1206.5M965.2,1208.9 972.9,1226.5" fill="none" stroke="#222" stroke-opacity="0.6" stroke-width="0.6" stroke-linejoin="round"/>
<path d="M633,104.2 H2166M567.3,129.2 H2231.7M497.7,160.3 H2301.3M436.9,194.3 H2362.1M381.9,230.5 H2417.1M329.8,268.3 H2469.2M281,307.5 H2518M236.9,347.8 H2562.1M199,388.9 H2600M165,430.6 H2634M136.8,472.5 H2662.2M113.6,514.7 H2685.4M96.2,556.8 H2702.8M83.8,598.9 H2715.2M73.4,641 H2725.6M66.2,683.2 H2732.8M61.9,725.3 H2737.1M60,767.4 H2739M61.9,809.5 H2737.1M66.2,851.6 H2732.8M73.4,893.8 H2725.6M83.8,935.9 H2715.2M96.2,978 H2702.8M113.6,1020.1 H2685.4M136.8,1062.3 H2662.2M165,1104.2 H2634M199,1145.9 H2600M236.9,1187 H2562.1M281,1227.3 H2518M329.8,1266.5 H2469.2M381.9,1304.3 H2417.1M436.9,1340.5 H2362.1M497.7,1374.5 H2301.3M567.3,1405.6 H2231.7M633,1430.6 H2166M706.4,88 654.3,104.2 590.4,129.2 522.8,160.3 463.7,194.3 410.1,230.5 359.5,268.3 312.1,307.5 269.2,347.8 232.4,388.9 199.3,430.6 171.8,472.5 149.3,514.7 132.4,556.8 120.4,598.9 110.2,641 103.2,683.2 99,725.3 97.2,767.4 99,809.5 103.2,851.6 110.2,893.8 120.4,935.9 132.4,978 149.3,1020.1 171.8,1062.3 199.3,1104.2 232.4,1145.9 269.2,1187 312.1,1227.3 359.5,1266.5 410.1,1304.3 463.7,1340.5 522.8,1374.5 590.4,1405.6 654.3,1430.6 706.4,1446.8M726.2,88 675.6,104.2 613.5,129.2 547.8,160.3 490.4,194.3 438.4,230.5 389.2,268.3 343.2,307.5 301.5,347.8 265.7,388.9 233.6,430.6 206.9,472.5 185,514.7 168.6,556.8 156.9,598.9 147.1,641 140.2,683.2 136.2,725.3 134.4,767.4 136.2,809.5 140.2,851.6 147.1,893.8 156.9,935.9 168.6,978 185,1020.1 206.9,1062.3 233.6,1104.2 265.7,1145.9 301.5,1187 343.2,1227.3 389.2,1266.5 438.4,1304.3 490.4,1340.5 547.8,1374.5 613.5,1405.6 675.6,1430.6 726.2,1446.8M746,88 696.9,104.2 636.6,129.2 572.9,160.3 517.1,194.3 466.7,230.5 418.9,268.3 374.2,307.5 333.8,347.8 299.1,388.9 267.9,430.6 242,472.5 220.7,514.7 204.8,556.8 193.5,598.9 183.9,641 177.3,683.2 173.3,725.3 171.6,767.4 173.3,809.5 177.3,851.6 183.9,893.8 193.5,935.9 204.8,978 220.7,1020.1 242,1062.3 267.9,1104.2 299.1,1145.9 333.8,1187 374.2,1227.3 418.9,1266.5 466.7,1304.3 517.1,1340.5 572.9,1374.5 636.6,1405.6 696.9,1430.6 746,1446.8M765.8,88 718.2,104.2 659.7,129.2 597.9,160.3 543.9,194.3 495,230.5 448.6,268.3 405.3,307.5 366.1,347.8 332.4,388.9 302.2,430.6 277.1,472.5 256.5,514.7 241,556.8 230,598.9 220.7,641 214.3,683.2 210.5,725.3 208.8,767.4 210.5,809.5 214.3,851.6 220.7,893.8 230,935.9 241,978 256.5,1020.1 277.1,1062.3 302.2,1104.2 332.4,1145.9 366.1,1187 405.3,1227.3 448.6,1266.5 495,1304.3 543.9,1340.5 597.9,1374.5 659.7,1405.6 718.2,1430.6 765.8,1446.8M785.6,88 739.5,104.2 682.9,129.2 623,160.3 570.6,194.3 523.2,230.5 478.3,268.3 436.4,307.5 398.4,347.8 365.8,388.9 336.5,430.6 312.1,472.5 292.2,514.7 277.2,556.8 266.6,598.9 257.6,641 251.3,683.2 247.7,725.3 246,767.4 247.7,809.5 251.3,851.6 257.6,893.8 266.6,935.9 277.2,978 292.2,1020.1 312.1,1062.3 336.5,1104.2 365.8,1145.9 398.4,1187 436.4,1227.3 478.3,1266.5 523.2,1304.3 570.6,1340.5 623,1374.5 682.9,1405.6 739.5,1430.6 785.6,1446.8M805.4,88 760.8,104.2 706,129.2 648,160.3 597.4,194.3 551.5,230.5 508.1,268.3 467.4,307.5 430.7,347.8 399.1,388.9 370.8,430.6 347.2,472.5 327.9,514.7 313.4,556.8 303.1,598.9 294.4,641 288.4,683.2 284.8,725.3 283.2,767.4 284.8,809.5 288.4,851.6 294.4,893.8 303.1,935.9 313.4,978 327.9,1020.1 347.2,1062.3 370.8,1104.2 399.1,1145.9 430.7,1187 467.4,1227.3 508.1,1266.5 551.5,1304.3 597.4,1340.5 648,1374.5 706,1405.6 760.8,1430.6 805.4,1446.8M825.2,88 782.1,104.2 729.1,129.2 673.1,160.3 624.1,194.3 579.8,230.5 537.8,268.3 498.5,307.5 463,347.8 432.5,388.9 405.1,430.6 382.3,472.5 363.6,514.7 349.6,556.8 339.7,598.9 331.2,641 325.4,683.2 322,725.3 320.5,767.4 322,809.5 325.4,851.6 331.2,893.8 339.7,935.9 349.6,978 363.6,1020.1 382.3,1062.3 405.1,1104.2 432.5,1145.9 463,1187 498.5,1227.3 537.8,1266.5 579.8,1304.3 624.1,1340.5 673.1,1374.5 729.1,1405.6 782.1,1430.6 825.2,1446.8M845,88 803.4,104.2 752.2,129.2 698.1,160.3 650.8,194.3 608,230.5 567.5,268.3 529.6,307.5 495.3,347.8 465.8,388.9 439.3,430.6 417.4,472.5 399.3,514.7 385.8,556.8 376.2,598.9 368.1,641 362.5,683.2 359.1,725.3 357.7,767.4 359.1,809.5 362.5,851.6 368.1,893.8 376.2,935.9 385.8,978 399.3,1020.1 417.4,1062.3 439.3,1104.2 465.8,1145.9 495.3,1187 529.6,1227.3 567.5,1266.5 608,1304.3 650.8,1340.5 698.1,1374.5 752.2,1405.6 803.4,1430.6 845,1446.8M864.8,88 824.7,104.2 775.3,129.2 723.2,160.3 677.6,194.3 636.3,230.5 597.2,268.3 560.6,307.5 527.6,347.8 499.2,388.9 473.6,430.6 452.4,472.5 435.1,514.7 422,556.8 412.8,598.9 404.9,641 399.5,683.2 396.3,725.3 394.9,767.4 396.3,809.5 399.5,851.6 404.9,893.8 412.8,935.9 422,978 435.1,1020.1 452.4,1062.3 473.6,1104.2 499.2,1145.9 527.6,1187 560.6,1227.3 597.2,1266.5 636.3,1304.3 677.6,1340.5 723.2,1374.5 775.3,1405.6 824.7,1430.6 864.8,1446.8M884.6,88 845.9,104.2 798.4,129.2 748.2,160.3 704.3,194.3 664.6,230.5 626.9,268.3 591.7,307.5 559.9,347.8 532.5,388.9 507.9,430.6 487.5,472.5 470.8,514.7 458.2,556.8 449.3,598.9 441.8,641 436.5,683.2 433.4,725.3 432.1,767.4 433.4,809.5 436.5,851.6 441.8,893.8 449.3,935.9 458.2,978 470.8,1020.1 487.5,1062.3 507.9,1104.2 532.5,1145.9 559.9,1187 591.7,1227.3 626.9,1266.5 664.6,1304.3 704.3,1340.5 748.2,1374.5 798.4,1405.6 845.9,1430.6 884.6,1446.8M904.4,88 867.2,104.2 821.6,129.2 773.3,160.3 731.1,194.3 692.8,230.5 656.6,268.3 622.8,307.5 592.2,347.8 565.8,388.9 542.2,430.6 522.6,472.5 506.5,514.7 494.4,556.8 485.8,598.9 478.6,641 473.6,683.2 470.6,725.3 469.3,767.4 470.6,809.5 473.6,851.6 478.6,893.8 485.8,935.9 494.4,978 506.5,1020.1 522.6,1062.3 542.2,1104.2 565.8,1145.9 592.2,1187 622.8,1227.3 656.6,1266.5 692.8,1304.3 731.1,1340.5 773.3,1374.5 821.6,1405.6 867.2,1430.6 904.4,1446.8M924.2,88 888.5,104.2 844.7,129.2 798.3,160.3 757.8,194.3 721.1,230.5 686.4,268.3 653.8,307.5 624.5,347.8 599.2,388.9 576.5,430.6 557.7,472.5 542.2,514.7 530.6,556.8 522.4,598.9 515.4,641 510.6,683.2 507.8,725.3 506.5,767.4 507.8,809.5 510.6,851.6 515.4,893.8 522.4,935.9 530.6,978 542.2,1020.1 557.7,1062.3 576.5,1104.2 599.2,1145.9 624.5,1187 653.8,1227.3 686.4,1266.5 721.1,1304.3 757.8,1340.5 798.3,1374.5 844.7,1405.6 888.5,1430.6 924.2,1446.8M944,88 909.8,104.2 867.8,129.2 823.4,160.3 784.5,194.3 749.4,230.5 716.1,268.3 684.9,307.5 656.8,347.8 632.5,388.9 610.8,430.6 592.7,472.5 577.9,514.7 566.8,556.8 558.9,598.9 552.3,641 547.6,683.2 544.9,725.3 543.7,767.4 544.9,809.5 547.6,851.6 552.3,893.8 558.9,935.9 566.8,978 577.9,1020.1 592.7,1062.3 610.8,1104.2 632.5,1145.9 656.8,1187 684.9,1227.3 716.1,1266.5 749.4,1304.3 784.5,1340.5 823.4,1374.5 867.8,1405.6 909.8,1430.6 944,1446.8M963.8,88 931.1,104.2 890.9,129.2 848.4,160.3 811.3,194.3 777.6,230.5 745.8,268.3 716,307.5 689.1,347.8 665.9,388.9 645.1,430.6 627.8,472.5 613.7,514.7 603,556.8 595.5,598.9 589.1,641 584.7,683.2 582.1,725.3 580.9,767.4 582.1,809.5 584.7,851.6 589.1,893.8 595.5,935.9 603,978 613.7,1020.1 627.8,1062.3 645.1,1104.2 665.9,1145.9 689.1,1187 716,1227.3 745.8,1266.5 777.6,1304.3 811.3,1340.5 848.4,1374.5 890.9,1405.6 931.1,1430.6 963.8,1446.8M983.7,88 952.4,104.2 914,129.2 873.5,160.3 838,194.3 805.9,230.5 775.5,268.3 747.1,307.5 721.3,347.8 699.2,388.9 679.4,430.6 662.9,472.5 649.4,514.7 639.2,556.8 632,598.9 625.9,641 621.7,683.2 619.2,725.3 618.1,767.4 619.2,809.5 621.7,851.6 625.9,893.8 632,935.9 639.2,978 649.4,1020.1 662.9,1062.3 679.4,1104.2 699.2,1145.9 721.3,1187 747.1,1227.3 775.5,1266.5 805.9,1304.3 838,1340.5 873.5,1374.5 914,1405.6 952.4,1430.6 983.7,1446.8M1003.5,88 973.7,104.2 937.1,129.2 898.5,160.3 864.7,194.3 834.2,230.5 805.2,268.3 778.1,307.5 753.6,347.8 732.6,388.9 713.7,430.6 698,472.5 685.1,514.7 675.4,556.8 668.6,598.9 662.8,641 658.8,683.2 656.4,725.3 655.3,767.4 656.4,809.5 658.8,851.6 662.8,893.8 668.6,935.9 675.4,978 685.1,1020.1 698,1062.3 713.7,1104.2 732.6,1145.9 753.6,1187 778.1,1227.3 805.2,1266.5 834.2,1304.3 864.7,1340.5 898.5,1374.5 937.1,1405.6 973.7,1430.6 1003.5,1446.8M1023.3,88 995,104.2 960.3,129.2 923.6,160.3 891.5,194.3 862.4,230.5 834.9,268.3 809.2,307.5 785.9,347.8 765.9,388.9 748,430.6 733.1,472.5 720.8,514.7 711.6,556.8 705.1,598.9 699.6,641 695.8,683.2 693.5,725.3 692.5,767.4 693.5,809.5 695.8,851.6 699.6,893.8 705.1,935.9 711.6,978 720.8,1020.1 733.1,1062.3 748,1104.2 765.9,1145.9 785.9,1187 809.2,1227.3 834.9,1266.5 862.4,1304.3 891.5,1340.5 923.6,1374.5 960.3,1405.6 995,1430.6 1023.3,1446.8M1043.1,88 1016.3,104.2 983.4,129.2 948.6,160.3 918.2,194.3 890.7,230.5 864.6,268.3 840.3,307.5 818.2,347.8 799.3,388.9 782.3,430.6 768.1,472.5 756.5,514.7 747.8,556.8 741.7,598.9 736.4,641 732.8,683.2 730.7,725.3 729.8,767.4 730.7,809.5 732.8,851.6 736.4,893.8 741.7,935.9 747.8,978 756.5,1020.1 768.1,1062.3 782.3,1104.2 799.3,1145.9 818.2,1187 840.3,1227.3 864.6,1266.5 890.7,1304.3 918.2,1340.5 948.6,1374.5 983.4,1405.6 1016.3,1430.6 1043.1,1446.8M1062.9,88 1037.6,104.2 1006.5,129.2 973.7,160.3 945,194.3 919,230.5 894.4,268.3 871.3,307.5 850.5,347.8 832.6,388.9 816.5,430.6 803.2,472.5 792.3,514.7 784,556.8 778.2,598.9 773.3,641 769.9,683.2 767.8,725.3 767,767.4 767.8,809.5 769.9,851.6 773.3,893.8 778.2,935.9 784,978 792.3,1020.1 803.2,1062.3 816.5,1104.2 832.6,1145.9 850.5,1187 871.3,1227.3 894.4,1266.5 919,1304.3 945,1340.5 973.7,1374.5 1006.5,1405.6 1037.6,1430.6 1062.9,1446.8M1082.7,88 1058.9,104.2 1029.6,129.2 998.7,160.3 971.7,194.3 947.2,230.5 924.1,268.3 902.4,307.5 882.8,347.8 866,388.9 850.8,430.6 838.3,472.5 828,514.7 820.2,556.8 814.8,598.9 810.1,641 806.9,683.2 805,725.3 804.2,767.4 805,809.5 806.9,851.6 810.1,893.8 814.8,935.9 820.2,978 828,1020.1 838.3,1062.3 850.8,1104.2 866,1145.9 882.8,1187 902.4,1227.3 924.1,1266.5 947.2,1304.3 971.7,1340.5 998.7,1374.5 1029.6,1405.6 1058.9,1430.6 1082.7,1446.8M1102.5,88 1080.1,104.2 1052.7,129.2 1023.8,160.3 998.4,194.3 975.5,230.5 953.8,268.3 933.5,307.5 915.1,347.8 899.3,388.9 885.1,430.6 873.4,472.5 863.7,514.7 856.4,556.8 851.3,598.9 847,641 843.9,683.2 842.2,725.3 841.4,767.4 842.2,809.5 843.9,851.6 847,893.8 851.3,935.9 856.4,978 863.7,1020.1 873.4,1062.3 885.1,1104.2 899.3,1145.9 915.1,1187 933.5,1227.3 953.8,1266.5 975.5,1304.3 998.4,1340.5 1023.8,1374.5 1052.7,1405.6 1080.1,1430.6 1102.5,1446.8M1122.3,88 1101.4,104.2 1075.9,129.2 1048.8,160.3 1025.2,194.3 1003.8,230.5 983.5,268.3 964.5,307.5 947.4,347.8 932.7,388.9 919.4,430.6 908.4,472.5 899.4,514.7 892.6,556.8 887.9,598.9 883.8,641 881,683.2 879.3,725.3 878.6,767.4 879.3,809.5 881,851.6 883.8,893.8 887.9,935.9 892.6,978 899.4,1020.1 908.4,1062.3 919.4,1104.2 932.7,1145.9 947.4,1187 964.5,1227.3 983.5,1266.5 1003.8,1304.3 1025.2,1340.5 1048.8,1374.5 1075.9,1405.6 1101.4,1430.6 1122.3,1446.8M1142.1,88 1122.7,104.2 1099,129.2 1073.9,160.3 1051.9,194.3 1032,230.5 1013.2,268.3 995.6,307.5 979.7,347.8 966,388.9 953.7,430.6 943.5,472.5 935.1,514.7 928.9,556.8 924.4,598.9 920.6,641 918,683.2 916.5,725.3 915.8,767.4 916.5,809.5 918,851.6 920.6,893.8 924.4,935.9 928.9,978 935.1,1020.1 943.5,1062.3 953.7,1104.2 966,1145.9 979.7,1187 995.6,1227.3 1013.2,1266.5 1032,1304.3 1051.9,1340.5 1073.9,1374.5 1099,1405.6 1122.7,1430.6 1142.1,1446.8M1161.9,88 1144,104.2 1122.1,129.2 1098.9,160.3 1078.6,194.3 1060.3,230.5 1042.9,268.3 1026.7,307.5 1012,347.8 999.3,388.9 988,430.6 978.6,472.5 970.9,514.7 965.1,556.8 960.9,598.9 957.5,641 955.1,683.2 953.6,725.3 953,767.4 953.6,809.5 955.1,851.6 957.5,893.8 960.9,935.9 965.1,978 970.9,1020.1 978.6,1062.3 988,1104.2 999.3,1145.9 1012,1187 1026.7,1227.3 1042.9,1266.5 1060.3,1304.3 1078.6,1340.5 1098.9,1374.5 1122.1,1405.6 1144,1430.6 1161.9,1446.8M1181.7,88 1165.3,104.2 1145.2,129.2 1124,160.3 1105.4,194.3 1088.6,230.5 1072.6,268.3 1057.7,307.5 1044.3,347.8 1032.7,388.9 1022.3,430.6 1013.7,472.5 1006.6,514.7 1001.3,556.8 997.5,598.9 994.3,641 992.1,683.2 990.8,725.3 990.2,767.4 990.8,809.5 992.1,851.6 994.3,893.8 997.5,935.9 1001.3,978 1006.6,1020.1 1013.7,1062.3 1022.3,1104.2 1032.7,1145.9 1044.3,1187 1057.7,1227.3 1072.6,1266.5 1088.6,1304.3 1105.4,1340.5 1124,1374.5 1145.2,1405.6 1165.3,1430.6 1181.7,1446.8M1201.5,88 1186.6,104.2 1168.3,129.2 1149,160.3 1132.1,194.3 1116.8,230.5 1102.4,268.3 1088.8,307.5 1076.6,347.8 1066,388.9 1056.6,430.6 1048.7,472.5 1042.3,514.7 1037.5,556.8 1034,598.9 1031.1,641 1029.1,683.2 1027.9,725.3 1027.4,767.4 1027.9,809.5 1029.1,851.6 1031.1,893.8 1034,935.9 1037.5,978 1042.3,1020.1 1048.7,1062.3 1056.6,1104.2 1066,1145.9 1076.6,1187 1088.8,1227.3 1102.4,1266.5 1116.8,1304.3 1132.1,1340.5 1149,1374.5 1168.3,1405.6 1186.6,1430.6 1201.5,1446.8M1221.3,88 1207.9,104.2 1191.4,129.2 1174.1,160.3 1158.9,194.3 1145.1,230.5 1132.1,268.3 1119.9,307.5 1108.9,347.8 1099.4,388.9 1090.9,430.6 1083.8,472.5 1078,514.7 1073.7,556.8 1070.6,598.9 1068,641 1066.2,683.2 1065.1,725.3 1064.6,767.4 1065.1,809.5 1066.2,851.6 1068,893.8 1070.6,935.9 1073.7,978 1078,1020.1 1083.8,1062.3 1090.9,1104.2 1099.4,1145.9 1108.9,1187 1119.9,1227.3 1132.1,1266.5 1145.1,1304.3 1158.9,1340.5 1174.1,1374.5 1191.4,1405.6 1207.9,1430.6 1221.3,1446.8M1241.1,88 1229.2,104.2 1214.6,129.2 1199.1,160.3 1185.6,194.3 1173.4,230.5 1161.8,268.3 1150.9,307.5 1141.2,347.8 1132.7,388.9 1125.2,430.6 1118.9,472.5 1113.7,514.7 1109.9,556.8 1107.1,598.9 1104.8,641 1103.2,683.2 1102.3,725.3 1101.8,767.4 1102.3,809.5 1103.2,851.6 1104.8,893.8 1107.1,935.9 1109.9,978 1113.7,1020.1 1118.9,1062.3 1125.2,1104.2 1132.7,1145.9 1141.2,1187 1150.9,1227.3 1161.8,1266.5 1173.4,1304.3 1185.6,1340.5 1199.1,1374.5 1214.6,1405.6 1229.2,1430.6 1241.1,1446.8M1260.9,88 1250.5,104.2 1237.7,129.2 1224.2,160.3 1212.3,194.3 1201.6,230.5 1191.5,268.3 1182,307.5 1173.4,347.8 1166.1,388.9 1159.5,430.6 1154,472.5 1149.5,514.7 1146.1,556.8 1143.7,598.9 1141.6,641 1140.2,683.2 1139.4,725.3 1139,767.4 1139.4,809.5 1140.2,851.6 1141.6,893.8 1143.7,935.9 1146.1,978 1149.5,1020.1 1154,1062.3 1159.5,1104.2 1166.1,1145.9 1173.4,1187 1182,1227.3 1191.5,1266.5 1201.6,1304.3 1212.3,1340.5 1224.2,1374.5 1237.7,1405.6 1250.5,1430.6 1260.9,1446.8M1280.7,88 1271.8,104.2 1260.8,129.2 1249.2,160.3 1239.1,194.3 1229.9,230.5 1221.2,268.3 1213.1,307.5 1205.7,347.8 1199.4,388.9 1193.8,430.6 1189,472.5 1185.2,514.7 1182.3,556.8 1180.2,598.9 1178.5,641 1177.3,683.2 1176.6,725.3 1176.2,767.4 1176.6,809.5 1177.3,851.6 1178.5,893.8 1180.2,935.9 1182.3,978 1185.2,1020.1 1189,1062.3 1193.8,1104.2 1199.4,1145.9 1205.7,1187 1213.1,1227.3 1221.2,1266.5 1229.9,1304.3 1239.1,1340.5 1249.2,1374.5 1260.8,1405.6 1271.8,1430.6 1280.7,1446.8M1300.5,88 1293,104.2 1283.9,129.2 1274.3,160.3 1265.8,194.3 1258.2,230.5 1250.9,268.3 1244.2,307.5 1238,347.8 1232.8,388.9 1228,430.6 1224.1,472.5 1220.9,514.7 1218.5,556.8 1216.8,598.9 1215.3,641 1214.3,683.2 1213.7,725.3 1213.5,767.4 1213.7,809.5 1214.3,851.6 1215.3,893.8 1216.8,935.9 1218.5,978 1220.9,1020.1 1224.1,1062.3 1228,1104.2 1232.8,1145.9 1238,1187 1244.2,1227.3 1250.9,1266.5 1258.2,1304.3 1265.8,1340.5 1274.3,1374.5 1283.9,1405.6 1293,1430.6 1300.5,1446.8M1320.3,88 1314.3,104.2 1307,129.2 1299.3,160.3 1292.5,194.3 1286.4,230.5 1280.6,268.3 1275.2,307.5 1270.3,347.8 1266.1,388.9 1262.3,430.6 1259.2,472.5 1256.6,514.7 1254.7,556.8 1253.3,598.9 1252.2,641 1251.4,683.2 1250.9,725.3 1250.7,767.4 1250.9,809.5 1251.4,851.6 1252.2,893.8 1253.3,935.9 1254.7,978 1256.6,1020.1 1259.2,1062.3 1262.3,1104.2 1266.1,1145.9 1270.3,1187 1275.2,1227.3 1280.6,1266.5 1286.4,1304.3 1292.5,1340.5 1299.3,1374.5 1307,1405.6 1314.3,1430.6 1320.3,1446.8M1340.1,88 1335.6,104.2 1330.1,129.2 1324.4,160.3 1319.3,194.3 1314.7,230.5 1310.4,268.3 1306.3,307.5 1302.6,347.8 1299.5,388.9 1296.6,430.6 1294.3,472.5 1292.3,514.7 1290.9,556.8 1289.9,598.9 1289,641 1288.4,683.2 1288,725.3 1287.9,767.4 1288,809.5 1288.4,851.6 1289,893.8 1289.9,935.9 1290.9,978 1292.3,1020.1 1294.3,1062.3 1296.6,1104.2 1299.5,1145.9 1302.6,1187 1306.3,1227.3 1310.4,1266.5 1314.7,1304.3 1319.3,1340.5 1324.4,1374.5 1330.1,1405.6 1335.6,1430.6 1340.1,1446.8M1359.9,88 1356.9,104.2 1353.3,129.2 1349.4,160.3 1346,194.3 1343,230.5 1340.1,268.3 1337.4,307.5 1334.9,347.8 1332.8,388.9 1330.9,430.6 1329.3,472.5 1328.1,514.7 1327.1,556.8 1326.4,598.9 1325.8,641 1325.4,683.2 1325.2,725.3 1325.1,767.4 1325.2,809.5 1325.4,851.6 1325.8,893.8 1326.4,935.9 1327.1,978 1328.1,1020.1 1329.3,1062.3 1330.9,1104.2 1332.8,1145.9 1334.9,1187 1337.4,1227.3 1340.1,1266.5 1343,1304.3 1346,1340.5 1349.4,1374.5 1353.3,1405.6 1356.9,1430.6 1359.9,1446.8M1379.7,88 1378.2,104.2 1376.4,129.2 1374.5,160.3 1372.8,194.3 1371.2,230.5 1369.8,268.3 1368.4,307.5 1367.2,347.8 1366.2,388.9 1365.2,430.6 1364.4,472.5 1363.8,514.7 1363.3,556.8 1363,598.9 1362.7,641 1362.5,683.2 1362.3,725.3 1362.3,767.4 1362.3,809.5 1362.5,851.6 1362.7,893.8 1363,935.9 1363.3,978 1363.8,1020.1 1364.4,1062.3 1365.2,1104.2 1366.2,1145.9 1367.2,1187 1368.4,1227.3 1369.8,1266.5 1371.2,1304.3 1372.8,1340.5 1374.5,1374.5 1376.4,1405.6 1378.2,1430.6 1379.7,1446.8M1399.5,88 1399.5,104.2 1399.5,129.2 1399.5,160.3 1399.5,194.3 1399.5,230.5 1399.5,268.3 1399.5,307.5 1399.5,347.8 1399.5,388.9 1399.5,430.6 1399.5,472.5 1399.5,514.7 1399.5,556.8 1399.5,598.9 1399.5,641 1399.5,683.2 1399.5,725.3 1399.5,767.4 1399.5,809.5 1399.5,851.6 1399.5,893.8 1399.5,935.9 1399.5,978 1399.5,1020.1 1399.5,1062.3 1399.5,1104.2 1399.5,1145.9 1399.5,1187 1399.5,1227.3 1399.5,1266.5 1399.5,1304.3 1399.5,1340.5 1399.5,1374.5 1399.5,1405.6 1399.5,1430.6 1399.5,1446.8M1419.3,88 1420.8,104.2 1422.6,129.2 1424.5,160.3 1426.2,194.3 1427.8,230.5 1429.2,268.3 1430.6,307.5 1431.8,347.8 1432.8,388.9 1433.8,430.6 1434.6,472.5 1435.2,514.7 1435.7,556.8 1436,598.9 1436.3,641 1436.5,683.2 1436.7,725.3 1436.7,767.4 1436.7,809.5 1436.5,851.6 1436.3,893.8 1436,935.9 1435.7,978 1435.2,1020.1 1434.6,1062.3 1433.8,1104.2 1432.8,1145.9 1431.8,1187 1430.6,1227.3 1429.2,1266.5 1427.8,1304.3 1426.2,1340.5 1424.5,1374.5 1422.6,1405.6 1420.8,1430.6 1419.3,1446.8M1439.1,88 1442.1,104.2 1445.7,129.2 1449.6,160.3 1453,194.3 1456,230.5 1458.9,268.3 1461.6,307.5 1464.1,347.8 1466.2,388.9 1468.1,430.6 1469.7,472.5 1470.9,514.7 1471.9,556.8 1472.6,598.9 1473.2,641 1473.6,683.2 1473.8,725.3 1473.9,767.4 1473.8,809.5 1473.6,851.6 1473.2,893.8 1472.6,935.9 1471.9,978 1470.9,1020.1 1469.7,1062.3 1468.1,1104.2 1466.2,1145.9 1464.1,1187 1461.6,1227.3 1458.9,1266.5 1456,1304.3 1453,1340.5 1449.6,1374.5 1445.7,1405.6 1442.1,1430.6 1439.1,1446.8M1458.9,88 1463.4,104.2 1468.9,129.2 1474.6,160.3 1479.7,194.3 1484.3,230.5 1488.6,268.3 1492.7,307.5 1496.4,347.8 1499.5,388.9 1502.4,430.6 1504.7,472.5 1506.7,514.7 1508.1,556.8 1509.1,598.9 1510,641 1510.6,683.2 1511,725.3 1511.1,767.4 1511,809.5 1510.6,851.6 1510,893.8 1509.1,935.9 1508.1,978 1506.7,1020.1 1504.7,1062.3 1502.4,1104.2 1499.5,1145.9 1496.4,1187 1492.7,1227.3 1488.6,1266.5 1484.3,1304.3 1479.7,1340.5 1474.6,1374.5 1468.9,1405.6 1463.4,1430.6 1458.9,1446.8M1478.7,88 1484.7,104.2 1492,129.2 1499.7,160.3 1506.5,194.3 1512.6,230.5 1518.4,268.3 1523.8,307.5 1528.7,347.8 1532.9,388.9 1536.7,430.6 1539.8,472.5 1542.4,514.7 1544.3,556.8 1545.7,598.9 1546.8,641 1547.6,683.2 1548.1,725.3 1548.3,767.4 1548.1,809.5 1547.6,851.6 1546.8,893.8 1545.7,935.9 1544.3,978 1542.4,1020.1 1539.8,1062.3 1536.7,1104.2 1532.9,1145.9 1528.7,1187 1523.8,1227.3 1518.4,1266.5 1512.6,1304.3 1506.5,1340.5 1499.7,1374.5 1492,1405.6 1484.7,1430.6 1478.7,1446.8M1498.5,88 1506,104.2 1515.1,129.2 1524.7,160.3 1533.2,194.3 1540.8,230.5 1548.1,268.3 1554.8,307.5 1561,347.8 1566.2,388.9 1571,430.6 1574.9,472.5 1578.1,514.7 1580.5,556.8 1582.2,598.9 1583.7,641 1584.7,683.2 1585.3,725.3 1585.5,767.4 1585.3,809.5 1584.7,851.6 1583.7,893.8 1582.2,935.9 1580.5,978 1578.1,1020.1 1574.9,1062.3 1571,1104.2 1566.2,1145.9 1561,1187 1554.8,1227.3 1548.1,1266.5 1540.8,1304.3 1533.2,1340.5 1524.7,1374.5 1515.1,1405.6 1506,1430.6 1498.5,1446.8M1518.3,88 1527.2,104.2 1538.2,129.2 1549.8,160.3 1559.9,194.3 1569.1,230.5 1577.8,268.3 1585.9,307.5 1593.3,347.8 1599.6,388.9 1605.2,430.6 1610,472.5 1613.8,514.7 1616.7,556.8 1618.8,598.9 1620.5,641 1621.7,683.2 1622.4,725.3 1622.8,767.4 1622.4,809.5 1621.7,851.6 1620.5,893.8 1618.8,935.9 1616.7,978 1613.8,1020.1 1610,1062.3 1605.2,1104.2 1599.6,1145.9 1593.3,1187 1585.9,1227.3 1577.8,1266.5 1569.1,1304.3 1559.9,1340.5 1549.8,1374.5 1538.2,1405.6 1527.2,1430.6 1518.3,1446.8M1538.1,88 1548.5,104.2 1561.3,129.2 1574.8,160.3 1586.7,194.3 1597.4,230.5 1607.5,268.3 1617,307.5 1625.6,347.8 1632.9,388.9 1639.5,430.6 1645,472.5 1649.5,514.7 1652.9,556.8 1655.3,598.9 1657.4,641 1658.8,683.2 1659.6,725.3 1660,767.4 1659.6,809.5 1658.8,851.6 1657.4,893.8 1655.3,935.9 1652.9,978 1649.5,1020.1 1645,1062.3 1639.5,1104.2 1632.9,1145.9 1625.6,1187 1617,1227.3 1607.5,1266.5 1597.4,1304.3 1586.7,1340.5 1574.8,1374.5 1561.3,1405.6 1548.5,1430.6 1538.1,1446.8M1557.9,88 1569.8,104.2 1584.4,129.2 1599.9,160.3 1613.4,194.3 1625.6,230.5 1637.2,268.3 1648.1,307.5 1657.8,347.8 1666.3,388.9 1673.8,430.6 1680.1,472.5 1685.3,514.7 1689.1,556.8 1691.9,598.9 1694.2,641 1695.8,683.2 1696.7,725.3 1697.2,767.4 1696.7,809.5 1695.8,851.6 1694.2,893.8 1691.9,935.9 1689.1,978 1685.3,1020.1 1680.1,1062.3 1673.8,1104.2 1666.3,1145.9 1657.8,1187 1648.1,1227.3 1637.2,1266.5 1625.6,1304.3 1613.4,1340.5 1599.9,1374.5 1584.4,1405.6 1569.8,1430.6 1557.9,1446.8M1577.7,88 1591.1,104.2 1607.6,129.2 1624.9,160.3 1640.1,194.3 1653.9,230.5 1666.9,268.3 1679.1,307.5 1690.1,347.8 1699.6,388.9 1708.1,430.6 1715.2,472.5 1721,514.7 1725.3,556.8 1728.4,598.9 1731,641 1732.8,683.2 1733.9,725.3 1734.4,767.4 1733.9,809.5 1732.8,851.6 1731,893.8 1728.4,935.9 1725.3,978 1721,1020.1 1715.2,1062.3 1708.1,1104.2 1699.6,1145.9 1690.1,1187 1679.1,1227.3 1666.9,1266.5 1653.9,1304.3 1640.1,1340.5 1624.9,1374.5 1607.6,1405.6 1591.1,1430.6 1577.7,1446.8M1597.5,88 1612.4,104.2 1630.7,129.2 1650,160.3 1666.9,194.3 1682.2,230.5 1696.6,268.3 1710.2,307.5 1722.4,347.8 1733,388.9 1742.4,430.6 1750.3,472.5 1756.7,514.7 1761.5,556.8 1765,598.9 1767.9,641 1769.9,683.2 1771.1,725.3 1771.6,767.4 1771.1,809.5 1769.9,851.6 1767.9,893.8 1765,935.9 1761.5,978 1756.7,1020.1 1750.3,1062.3 1742.4,1104.2 1733,1145.9 1722.4,1187 1710.2,1227.3 1696.6,1266.5 1682.2,1304.3 1666.9,1340.5 1650,1374.5 1630.7,1405.6 1612.4,1430.6 1597.5,1446.8M1617.3,88 1633.7,104.2 1653.8,129.2 1675,160.3 1693.6,194.3 1710.4,230.5 1726.4,268.3 1741.3,307.5 1754.7,347.8 1766.3,388.9 1776.7,430.6 1785.3,472.5 1792.4,514.7 1797.7,556.8 1801.5,598.9 1804.7,641 1806.9,683.2 1808.2,725.3 1808.8,767.4 1808.2,809.5 1806.9,851.6 1804.7,893.8 1801.5,935.9 1797.7,978 1792.4,1020.1 1785.3,1062.3 1776.7,1104.2 1766.3,1145.9 1754.7,1187 1741.3,1227.3 1726.4,1266.5 1710.4,1304.3 1693.6,1340.5 1675,1374.5 1653.8,1405.6 1633.7,1430.6 1617.3,1446.8M1637.1,88 1655,104.2 1676.9,129.2 1700.1,160.3 1720.4,194.3 1738.7,230.5 1756.1,268.3 1772.3,307.5 1787,347.8 1799.7,388.9 1811,430.6 1820.4,472.5 1828.1,514.7 1833.9,556.8 1838.1,598.9 1841.5,641 1843.9,683.2 1845.4,725.3 1846,767.4 1845.4,809.5 1843.9,851.6 1841.5,893.8 1838.1,935.9 1833.9,978 1828.1,1020.1 1820.4,1062.3 1811,1104.2 1799.7,1145.9 1787,1187 1772.3,1227.3 1756.1,1266.5 1738.7,1304.3 1720.4,1340.5 1700.1,1374.5 1676.9,1405.6 1655,1430.6 1637.1,1446.8M1656.9,88 1676.3,104.2 1700,129.2 1725.1,160.3 1747.1,194.3 1767,230.5 1785.8,268.3 1803.4,307.5 1819.3,347.8 1833,388.9 1845.3,430.6 1855.5,472.5 1863.9,514.7 1870.1,556.8 1874.6,598.9 1878.4,641 1881,683.2 1882.5,725.3 1883.2,767.4 1882.5,809.5 1881,851.6 1878.4,893.8 1874.6,935.9 1870.1,978 1863.9,1020.1 1855.5,1062.3 1845.3,1104.2 1833,1145.9 1819.3,1187 1803.4,1227.3 1785.8,1266.5 1767,1304.3 1747.1,1340.5 1725.1,1374.5 1700,1405.6 1676.3,1430.6 1656.9,1446.8M1676.7,88 1697.6,104.2 1723.1,129.2 1750.2,160.3 1773.8,194.3 1795.2,230.5 1815.5,268.3 1834.5,307.5 1851.6,347.8 1866.3,388.9 1879.6,430.6 1890.6,472.5 1899.6,514.7 1906.4,556.8 1911.1,598.9 1915.2,641 1918,683.2 1919.7,725.3 1920.4,767.4 1919.7,809.5 1918,851.6 1915.2,893.8 1911.1,935.9 1906.4,978 1899.6,1020.1 1890.6,1062.3 1879.6,1104.2 1866.3,1145.9 1851.6,1187 1834.5,1227.3 1815.5,1266.5 1795.2,1304.3 1773.8,1340.5 1750.2,1374.5 1723.1,1405.6 1697.6,1430.6 1676.7,1446.8M1696.5,88 1718.9,104.2 1746.3,129.2 1775.2,160.3 1800.6,194.3 1823.5,230.5 1845.2,268.3 1865.5,307.5 1883.9,347.8 1899.7,388.9 1913.9,430.6 1925.6,472.5 1935.3,514.7 1942.6,556.8 1947.7,598.9 1952,641 1955.1,683.2 1956.8,725.3 1957.6,767.4 1956.8,809.5 1955.1,851.6 1952,893.8 1947.7,935.9 1942.6,978 1935.3,1020.1 1925.6,1062.3 1913.9,1104.2 1899.7,1145.9 1883.9,1187 1865.5,1227.3 1845.2,1266.5 1823.5,1304.3 1800.6,1340.5 1775.2,1374.5 1746.3,1405.6 1718.9,1430.6 1696.5,1446.8M1716.3,88 1740.1,104.2 1769.4,129.2 1800.3,160.3 1827.3,194.3 1851.8,230.5 1874.9,268.3 1896.6,307.5 1916.2,347.8 1933,388.9 1948.2,430.6 1960.7,472.5 1971,514.7 1978.8,556.8 1984.2,598.9 1988.9,641 1992.1,683.2 1994,725.3 1994.8,767.4 1994,809.5 1992.1,851.6 1988.9,893.8 1984.2,935.9 1978.8,978 1971,1020.1 1960.7,1062.3 1948.2,1104.2 1933,1145.9 1916.2,1187 1896.6,1227.3 1874.9,1266.5 1851.8,1304.3 1827.3,1340.5 1800.3,1374.5 1769.4,1405.6 1740.1,1430.6 1716.3,1446.8M1736.1,88 1761.4,104.2 1792.5,129.2 1825.3,160.3 1854,194.3 1880,230.5 1904.6,268.3 1927.7,307.5 1948.5,347.8 1966.4,388.9 1982.5,430.6 1995.8,472.5 2006.7,514.7 2015,556.8 2020.8,598.9 2025.7,641 2029.1,683.2 2031.2,725.3 2032,767.4 2031.2,809.5 2029.1,851.6 2025.7,893.8 2020.8,935.9 2015,978 2006.7,1020.1 1995.8,1062.3 1982.5,1104.2 1966.4,1145.9 1948.5,1187 1927.7,1227.3 1904.6,1266.5 1880,1304.3 1854,1340.5 1825.3,1374.5 1792.5,1405.6 1761.4,1430.6 1736.1,1446.8M1755.9,88 1782.7,104.2 1815.6,129.2 1850.4,160.3 1880.8,194.3 1908.3,230.5 1934.4,268.3 1958.7,307.5 1980.8,347.8 1999.7,388.9 2016.7,430.6 2030.9,472.5 2042.5,514.7 2051.2,556.8 2057.3,598.9 2062.6,641 2066.2,683.2 2068.3,725.3 2069.2,767.4 2068.3,809.5 2066.2,851.6 2062.6,893.8 2057.3,935.9 2051.2,978 2042.5,1020.1 2030.9,1062.3 2016.7,1104.2 1999.7,1145.9 1980.8,1187 1958.7,1227.3 1934.4,1266.5 1908.3,1304.3 1880.8,1340.5 1850.4,1374.5 1815.6,1405.6 1782.7,1430.6 1755.9,1446.8M1775.7,88 1804,104.2 1838.7,129.2 1875.4,160.3 1907.5,194.3 1936.6,230.5 1964.1,268.3 1989.8,307.5 2013.1,347.8 2033.1,388.9 2051,430.6 2065.9,472.5 2078.2,514.7 2087.4,556.8 2093.9,598.9 2099.4,641 2103.2,683.2 2105.5,725.3 2106.5,767.4 2105.5,809.5 2103.2,851.6 2099.4,893.8 2093.9,935.9 2087.4,978 2078.2,1020.1 2065.9,1062.3 2051,1104.2 2033.1,1145.9 2013.1,1187 1989.8,1227.3 1964.1,1266.5 1936.6,1304.3 1907.5,1340.5 1875.4,1374.5 1838.7,1405.6 1804,1430.6 1775.7,1446.8M1795.5,88 1825.3,104.2 1861.9,129.2 1900.5,160.3 1934.3,194.3 1964.8,230.5 1993.8,268.3 2020.9,307.5 2045.4,347.8 2066.4,388.9 2085.3,430.6 2101,472.5 2113.9,514.7 2123.6,556.8 2130.4,598.9 2136.2,641 2140.2,683.2 2142.6,725.3 2143.7,767.4 2142.6,809.5 2140.2,851.6 2136.2,893.8 2130.4,935.9 2123.6,978 2113.9,1020.1 2101,1062.3 2085.3,1104.2 2066.4,1145.9 2045.4,1187 2020.9,1227.3 1993.8,1266.5 1964.8,1304.3 1934.3,1340.5 1900.5,1374.5 1861.9,1405.6 1825.3,1430.6 1795.5,1446.8M1815.3,88 1846.6,104.2 1885,129.2 1925.5,160.3 1961,194.3 1993.1,230.5 2023.5,268.3 2051.9,307.5 2077.7,347.8 2099.8,388.9 2119.6,430.6 2136.1,472.5 2149.6,514.7 2159.8,556.8 2167,598.9 2173.1,641 2177.3,683.2 2179.8,725.3 2180.9,767.4 2179.8,809.5 2177.3,851.6 2173.1,893.8 2167,935.9 2159.8,978 2149.6,1020.1 2136.1,1062.3 2119.6,1104.2 2099.8,1145.9 2077.7,1187 2051.9,1227.3 2023.5,1266.5 1993.1,1304.3 1961,1340.5 1925.5,1374.5 1885,1405.6 1846.6,1430.6 1815.3,1446.8M1835.2,88 1867.9,104.2 1908.1,129.2 1950.6,160.3 1987.7,194.3 2021.4,230.5 2053.2,268.3 2083,307.5 2109.9,347.8 2133.1,388.9 2153.9,430.6 2171.2,472.5 2185.3,514.7 2196,556.8 2203.5,598.9 2209.9,641 2214.3,683.2 2216.9,725.3 2218.1,767.4 2216.9,809.5 2214.3,851.6 2209.9,893.8 2203.5,935.9 2196,978 2185.3,1020.1 2171.2,1062.3 2153.9,1104.2 2133.1,1145.9 2109.9,1187 2083,1227.3 2053.2,1266.5 2021.4,1304.3 1987.7,1340.5 1950.6,1374.5 1908.1,1405.6 1867.9,1430.6 1835.2,1446.8M1855,88 1889.2,104.2 1931.2,129.2 1975.6,160.3 2014.5,194.3 2049.6,230.5 2082.9,268.3 2114.1,307.5 2142.2,347.8 2166.5,388.9 2188.2,430.6 2206.3,472.5 2221.1,514.7 2232.2,556.8 2240.1,598.9 2246.7,641 2251.4,683.2 2254.1,725.3 2255.3,767.4 2254.1,809.5 2251.4,851.6 2246.7,893.8 2240.1,935.9 2232.2,978 2221.1,1020.1 2206.3,1062.3 2188.2,1104.2 2166.5,1145.9 2142.2,1187 2114.1,1227.3 2082.9,1266.5 2049.6,1304.3 2014.5,1340.5 1975.6,1374.5 1931.2,1405.6 1889.2,1430.6 1855,1446.8M1874.8,88 1910.5,104.2 1954.3,129.2 2000.7,160.3 2041.2,194.3 2077.9,230.5 2112.6,268.3 2145.2,307.5 2174.5,347.8 2199.8,388.9 2222.5,430.6 2241.3,472.5 2256.8,514.7 2268.4,556.8 2276.6,598.9 2283.6,641 2288.4,683.2 2291.2,725.3 2292.5,767.4 2291.2,809.5 2288.4,851.6 2283.6,893.8 2276.6,935.9 2268.4,978 2256.8,1020.1 2241.3,1062.3 2222.5,1104.2 2199.8,1145.9 2174.5,1187 2145.2,1227.3 2112.6,1266.5 2077.9,1304.3 2041.2,1340.5 2000.7,1374.5 1954.3,1405.6 1910.5,1430.6 1874.8,1446.8M1894.6,88 1931.8,104.2 1977.4,129.2 2025.7,160.3 2067.9,194.3 2106.2,230.5 2142.4,268.3 2176.2,307.5 2206.8,347.8 2233.2,388.9 2256.8,430.6 2276.4,472.5 2292.5,514.7 2304.6,556.8 2313.2,598.9 2320.4,641 2325.4,683.2 2328.4,725.3 2329.7,767.4 2328.4,809.5 2325.4,851.6 2320.4,893.8 2313.2,935.9 2304.6,978 2292.5,1020.1 2276.4,1062.3 2256.8,1104.2 2233.2,1145.9 2206.8,1187 2176.2,1227.3 2142.4,1266.5 2106.2,1304.3 2067.9,1340.5 2025.7,1374.5 1977.4,1405.6 1931.8,1430.6 1894.6,1446.8M1914.4,88 1953.1,104.2 2000.6,129.2 2050.8,160.3 2094.7,194.3 2134.4,230.5 2172.1,268.3 2207.3,307.5 2239.1,347.8 2266.5,388.9 2291.1,430.6 2311.5,472.5 2328.2,514.7 2340.8,556.8 2349.7,598.9 2357.2,641 2362.5,683.2 2365.6,725.3 2366.9,767.4 2365.6,809.5 2362.5,851.6 2357.2,893.8 2349.7,935.9 2340.8,978 2328.2,1020.1 2311.5,1062.3 2291.1,1104.2 2266.5,1145.9 2239.1,1187 2207.3,1227.3 2172.1,1266.5 2134.4,1304.3 2094.7,1340.5 2050.8,1374.5 2000.6,1405.6 1953.1,1430.6 1914.4,1446.8M1934.2,88 1974.3,104.2 2023.7,129.2 2075.8,160.3 2121.4,194.3 2162.7,230.5 2201.8,268.3 2238.4,307.5 2271.4,347.8 2299.8,388.9 2325.4,430.6 2346.6,472.5 2363.9,514.7 2377,556.8 2386.2,598.9 2394.1,641 2399.5,683.2 2402.7,725.3 2404.1,767.4 2402.7,809.5 2399.5,851.6 2394.1,893.8 2386.2,935.9 2377,978 2363.9,1020.1 2346.6,1062.3 2325.4,1104.2 2299.8,1145.9 2271.4,1187 2238.4,1227.3 2201.8,1266.5 2162.7,1304.3 2121.4,1340.5 2075.8,1374.5 2023.7,1405.6 1974.3,1430.6 1934.2,1446.8M1954,88 1995.6,104.2 2046.8,129.2 2100.9,160.3 2148.2,194.3 2191,230.5 2231.5,268.3 2269.4,307.5 2303.7,347.8 2333.2,388.9 2359.7,430.6 2381.6,472.5 2399.7,514.7 2413.2,556.8 2422.8,598.9 2430.9,641 2436.5,683.2 2439.9,725.3 2441.3,767.4 2439.9,809.5 2436.5,851.6 2430.9,893.8 2422.8,935.9 2413.2,978 2399.7,1020.1 2381.6,1062.3 2359.7,1104.2 2333.2,1145.9 2303.7,1187 2269.4,1227.3 2231.5,1266.5 2191,1304.3 2148.2,1340.5 2100.9,1374.5 2046.8,1405.6 1995.6,1430.6 1954,1446.8M1973.8,88 2016.9,104.2 2069.9,129.2 2125.9,160.3 2174.9,194.3 2219.2,230.5 2261.2,268.3 2300.5,307.5 2336,347.8 2366.5,388.9 2393.9,430.6 2416.7,472.5 2435.4,514.7 2449.4,556.8 2459.3,598.9 2467.8,641 2473.6,683.2 2477,725.3 2478.5,767.4 2477,809.5 2473.6,851.6 2467.8,893.8 2459.3,935.9 2449.4,978 2435.4,1020.1 2416.7,1062.3 2393.9,1104.2 2366.5,1145.9 2336,1187 2300.5,1227.3 2261.2,1266.5 2219.2,1304.3 2174.9,1340.5 2125.9,1374.5 2069.9,1405.6 2016.9,1430.6 1973.8,1446.8M1993.6,88 2038.2,104.2 2093,129.2 2151,160.3 2201.6,194.3 2247.5,230.5 2290.9,268.3 2331.6,307.5 2368.3,347.8 2399.9,388.9 2428.2,430.6 2451.8,472.5 2471.1,514.7 2485.6,556.8 2495.9,598.9 2504.6,641 2510.6,683.2 2514.2,725.3 2515.8,767.4 2514.2,809.5 2510.6,851.6 2504.6,893.8 2495.9,935.9 2485.6,978 2471.1,1020.1 2451.8,1062.3 2428.2,1104.2 2399.9,1145.9 2368.3,1187 2331.6,1227.3 2290.9,1266.5 2247.5,1304.3 2201.6,1340.5 2151,1374.5 2093,1405.6 2038.2,1430.6 1993.6,1446.8M2013.4,88 2059.5,104.2 2116.1,129.2 2176,160.3 2228.4,194.3 2275.8,230.5 2320.7,268.3 2362.6,307.5 2400.6,347.8 2433.2,388.9 2462.5,430.6 2486.9,472.5 2506.8,514.7 2521.8,556.8 2532.4,598.9 2541.4,641 2547.7,683.2 2551.3,725.3 2553,767.4 2551.3,809.5 2547.7,851.6 2541.4,893.8 2532.4,935.9 2521.8,978 2506.8,1020.1 2486.9,1062.3 2462.5,1104.2 2433.2,1145.9 2400.6,1187 2362.6,1227.3 2320.7,1266.5 2275.8,1304.3 2228.4,1340.5 2176,1374.5 2116.1,1405.6 2059.5,1430.6 2013.4,1446.8M2033.2,88 2080.8,104.2 2139.3,129.2 2201.1,160.3 2255.1,194.3 2304,230.5 2350.4,268.3 2393.7,307.5 2432.9,347.8 2466.6,388.9 2496.8,430.6 2521.9,472.5 2542.5,514.7 2558,556.8 2569,598.9 2578.3,641 2584.7,683.2 2588.5,725.3 2590.2,767.4 2588.5,809.5 2584.7,851.6 2578.3,893.8 2569,935.9 2558,978 2542.5,1020.1 2521.9,1062.3 2496.8,1104.2 2466.6,1145.9 2432.9,1187 2393.7,1227.3 2350.4,1266.5 2304,1304.3 2255.1,1340.5 2201.1,1374.5 2139.3,1405.6 2080.8,1430.6 2033.2,1446.8M2053,88 2102.1,104.2 2162.4,129.2 2226.1,160.3 2281.9,194.3 2332.3,230.5 2380.1,268.3 2424.8,307.5 2465.2,347.8 2499.9,388.9 2531.1,430.6 2557,472.5 2578.3,514.7 2594.2,556.8 2605.5,598.9 2615.1,641 2621.7,683.2 2625.7,725.3 2627.4,767.4 2625.7,809.5 2621.7,851.6 2615.1,893.8 2605.5,935.9 2594.2,978 2578.3,1020.1 2557,1062.3 2531.1,1104.2 2499.9,1145.9 2465.2,1187 2424.8,1227.3 2380.1,1266.5 2332.3,1304.3 2281.9,1340.5 2226.1,1374.5 2162.4,1405.6 2102.1,1430.6 2053,1446.8M2072.8,88 2123.4,104.2 2185.5,129.2 2251.2,160.3 2308.6,194.3 2360.6,230.5 2409.8,268.3 2455.8,307.5 2497.5,347.8 2533.3,388.9 2565.4,430.6 2592.1,472.5 2614,514.7 2630.4,556.8 2642.1,598.9 2651.9,641 2658.8,683.2 2662.8,725.3 2664.6,767.4 2662.8,809.5 2658.8,851.6 2651.9,893.8 2642.1,935.9 2630.4,978 2614,1020.1 2592.1,1062.3 2565.4,1104.2 2533.3,1145.9 2497.5,1187 2455.8,1227.3 2409.8,1266.5 2360.6,1304.3 2308.6,1340.5 2251.2,1374.5 2185.5,1405.6 2123.4,1430.6 2072.8,1446.8M2092.6,88 2144.7,104.2 2208.6,129.2 2276.2,160.3 2335.3,194.3 2388.9,230.5 2439.5,268.3 2486.9,307.5 2529.8,347.8 2566.6,388.9 2599.7,430.6 2627.2,472.5 2649.7,514.7 2666.6,556.8 2678.6,598.9 2688.8,641 2695.8,683.2 2700,725.3 2701.8,767.4 2700,809.5 2695.8,851.6 2688.8,893.8 2678.6,935.9 2666.6,978 2649.7,1020.1 2627.2,1062.3 2599.7,1104.2 2566.6,1145.9 2529.8,1187 2486.9,1227.3 2439.5,1266.5 2388.9,1304.3 2335.3,1340.5 2276.2,1374.5 2208.6,1405.6 2144.7,1430.6 2092.6,1446.8" fill="none" stroke="#800080" stroke-opacity="0.45" stroke-width="0.95"/>
<g stroke="#111" stroke-width="0.9">
<rect x="447.2" y="209.2" width="6" height="6" fill="#f4f4ff"/>
<rect x="367" y="246.2" width="6" height="6" fill="#aaaaff"/>
<rect x="396" y="246.2" width="6" height="6" fill="#4646ff"/>
<rect x="317.1" y="284.8" width="6" height="6" fill="#4646ff"/>
<rect x="271.1" y="324.5" width="6" height="6" fill="#f4f4ff"/>
<rect x="302.8" y="324.5" width="6" height="6" fill="#f4f4ff"/>
<rect x="230.8" y="365.3" width="6" height="6" fill="#f4f4ff"/>
<rect x="263.6" y="365.3" width="6" height="6" fill="#aaaaff"/>
<rect x="296.5" y="365.3" width="6" height="6" fill="#aaaaff"/>
<rect x="263" y="406.7" width="6" height="6" fill="#4646ff"/>
<rect x="296.9" y="406.7" width="6" height="6" fill="#f4f4ff"/>
<rect x="330.7" y="406.7" width="6" height="6" fill="#ffc0c0"/>
<rect x="268.6" y="448.5" width="6" height="6" fill="#4646ff"/>
<rect x="303.3" y="448.5" width="6" height="6" fill="#f4f4ff"/>
<rect x="546.3" y="448.5" width="6" height="6" fill="#f4f4ff"/>
<rect x="280.9" y="490.6" width="6" height="6" fill="#f4f4ff"/>
<rect x="316.3" y="490.6" width="6" height="6" fill="#f4f4ff"/>
<rect x="458" y="490.6" width="6" height="6" fill="#4646ff"/>
<rect x="493.4" y="490.6" width="6" height="6" fill="#aaaaff"/>
<rect x="263" y="532.7" width="6" height="6" fill="#f4f4ff"/>
<rect x="299" y="532.7" width="6" height="6" fill="#f4f4ff"/>
<rect x="371" y="532.7" width="6" height="6" fill="#ffc0c0"/>
<rect x="407" y="532.7" width="6" height="6" fill="#f4f4ff"/>
<rect x="443" y="532.7" width="6" height="6" fill="#aaaaff"/>
<rect x="478.9" y="532.7" width="6" height="6" fill="#f4f4ff"/>
<rect x="250.3" y="574.8" width="6" height="6" fill="#aaaaff"/>
<rect x="286.7" y="574.8" width="6" height="6" fill="#f4f4ff"/>
<rect x="323.1" y="574.8" width="6" height="6" fill="#f4f4ff"/>
<rect x="359.5" y="574.8" width="6" height="6" fill="#f4f4ff"/>
<rect x="1127" y="324.5" width="6" height="6" fill="#f4f4ff"/>
<rect x="1158.7" y="324.5" width="6" height="6" fill="#aaaaff"/>
<rect x="1190.4" y="324.5" width="6" height="6" fill="#aaaaff"/>
<rect x="1222.1" y="324.5" width="6" height="6" fill="#aaaaff"/>
<rect x="1253.8" y="324.5" width="6" height="6" fill="#f4f4ff"/>
<rect x="1285.5" y="324.5" width="6" height="6" fill="#f4f4ff"/>
<rect x="1317.2" y="324.5" width="6" height="6" fill="#d0d0ff"/>
<rect x="1018.9" y="365.3" width="6" height="6" fill="#ff8080"/>
<rect x="1051.7" y="365.3" width="6" height="6" fill="#f4f4ff"/>
<rect x="1084.6" y="365.3" width="6" height="6" fill="#ffc0c0"/>
<rect x="1117.4" y="365.3" width="6" height="6" fill="#f4f4ff"/>
<rect x="1150.2" y="365.3" width="6" height="6" fill="#ffe6e6"/>
<rect x="1183.1" y="365.3" width="6" height="6" fill="#f4f4ff"/>
<rect x="1215.9" y="365.3" width="6" height="6" fill="#f4f4ff"/>
<rect x="1248.7" y="365.3" width="6" height="6" fill="#f4f4ff"/>
<rect x="1281.6" y="365.3" width="6" height="6" fill="#f4f4ff"/>
<rect x="1314.4" y="365.3" width="6" height="6" fill="#d0d0ff"/>
<rect x="1347.2" y="365.3" width="6" height="6" fill="#d0d0ff"/>
<rect x="905.9" y="406.7" width="6" height="6" fill="#ffe6e6"/>
<rect x="939.7" y="406.7" width="6" height="6" fill="#ffc0c0"/>
<rect x="973.6" y="406.7" width="6" height="6" fill="#ffc0c0"/>
<rect x="1007.4" y="406.7" width="6" height="6" fill="#f4f4ff"/>
<rect x="1041.2" y="406.7" width="6" height="6" fill="#f4f4ff"/>
<rect x="1075.1" y="406.7" width="6" height="6" fill="#aaaaff"/>
<rect x="1108.9" y="406.7" width="6" height="6" fill="#aaaaff"/>
<rect x="1142.7" y="406.7" width="6" height="6" fill="#aaaaff"/>
<rect x="1176.6" y="406.7" width="6" height="6" fill="#f4f4ff"/>
<rect x="1210.4" y="406.7" width="6" height="6" fill="#4646ff"/>
<rect x="1244.2" y="406.7" width="6" height="6" fill="#aaaaff"/>
<rect x="1278.1" y="406.7" width="6" height="6" fill="#f4f4ff"/>
<rect x="1311.9" y="406.7" width="6" height="6" fill="#f4f4ff"/>
<rect x="858.6" y="448.5" width="6" height="6" fill="#f4f4ff"/>
<rect x="893.3" y="448.5" width="6" height="6" fill="#aaaaff"/>
<rect x="928" y="448.5" width="6" height="6" fill="#aaaaff"/>
<rect x="962.7" y="448.5" width="6" height="6" fill="#f4f4ff"/>
<rect x="997.4" y="448.5" width="6" height="6" fill="#aaaaff"/>
<rect x="1032.1" y="448.5" width="6" height="6" fill="#aaaaff"/>
<rect x="1066.8" y="448.5" width="6" height="6" fill="#f4f4ff"/>
<rect x="1101.5" y="448.5" width="6" height="6" fill="#f4f4ff"/>
<rect x="1136.2" y="448.5" width="6" height="6" fill="#f4f4ff"/>
<rect x="1170.9" y="448.5" width="6" height="6" fill="#aaaaff"/>
<rect x="1205.6" y="448.5" width="6" height="6" fill="#aaaaff"/>
<rect x="1240.3" y="448.5" width="6" height="6" fill="#f4f4ff"/>
<rect x="1275" y="448.5" width="6" height="6" fill="#aaaaff"/>
<rect x="1309.7" y="448.5" width="6" height="6" fill="#d0d0ff"/>
<rect x="883" y="490.6" width="6" height="6" fill="#aaaaff"/>
<rect x="918.4" y="490.6" width="6" height="6" fill="#f4f4ff"/>
<rect x="953.8" y="490.6" width="6" height="6" fill="#aaaaff"/>
<rect x="989.2" y="490.6" width="6" height="6" fill="#f4f4ff"/>
<rect x="1024.6" y="490.6" width="6" height="6" fill="#f4f4ff"/>
<rect x="1060" y="490.6" width="6" height="6" fill="#ffe6e6"/>
<rect x="1095.5" y="490.6" width="6" height="6" fill="#f4f4ff"/>
<rect x="1130.9" y="490.6" width="6" height="6" fill="#f4f4ff"/>
<rect x="1166.3" y="490.6" width="6" height="6" fill="#f4f4ff"/>
<rect x="1201.7" y="490.6" width="6" height="6" fill="#ffe6e6"/>
<rect x="1272.5" y="490.6" width="6" height="6" fill="#f4f4ff"/>
<rect x="766.8" y="532.7" width="6" height="6" fill="#aaaaff"/>
<rect x="802.8" y="532.7" width="6" height="6" fill="#f4f4ff"/>
<rect x="838.8" y="532.7" width="6" height="6" fill="#aaaaff"/>
<rect x="874.7" y="532.7" width="6" height="6" fill="#f4f4ff"/>
<rect x="910.7" y="532.7" width="6" height="6" fill="#f4f4ff"/>
<rect x="946.7" y="532.7" width="6" height="6" fill="#f4f4ff"/>
<rect x="982.7" y="532.7" width="6" height="6" fill="#f4f4ff"/>
<rect x="1018.7" y="532.7" width="6" height="6" fill="#f4f4ff"/>
<rect x="1054.7" y="532.7" width="6" height="6" fill="#ffe6e6"/>
<rect x="1090.6" y="532.7" width="6" height="6" fill="#f4f4ff"/>
<rect x="1126.6" y="532.7" width="6" height="6" fill="#ffe6e6"/>
<rect x="1162.6" y="532.7" width="6" height="6" fill="#f4f4ff"/>
<rect x="1198.6" y="532.7" width="6" height="6" fill="#ffc0c0"/>
<rect x="1234.6" y="532.7" width="6" height="6" fill="#f4f4ff"/>
<rect x="1270.6" y="532.7" width="6" height="6" fill="#f4f4ff"/>
<rect x="796.1" y="574.8" width="6" height="6" fill="#aaaaff"/>
<rect x="832.5" y="574.8" width="6" height="6" fill="#aaaaff"/>
<rect x="868.9" y="574.8" width="6" height="6" fill="#ffe6e6"/>
<rect x="905.3" y="574.8" width="6" height="6" fill="#aaaaff"/>
<rect x="941.7" y="574.8" width="6" height="6" fill="#f4f4ff"/>
<rect x="978.1" y="574.8" width="6" height="6" fill="#f4f4ff"/>
<rect x="1014.4" y="574.8" width="6" height="6" fill="#f4f4ff"/>
<rect x="1050.8" y="574.8" width="6" height="6" fill="#f4f4ff"/>
<rect x="1087.2" y="574.8" width="6" height="6" fill="#f4f4ff"/>
<rect x="1123.6" y="574.8" width="6" height="6" fill="#f4f4ff"/>
<rect x="1196.4" y="574.8" width="6" height="6" fill="#ffe6e6"/>
<rect x="1232.8" y="574.8" width="6" height="6" fill="#f4f4ff"/>
<rect x="827.7" y="617" width="6" height="6" fill="#ffe6e6"/>
<rect x="864.4" y="617" width="6" height="6" fill="#ffe6e6"/>
<rect x="901.1" y="617" width="6" height="6" fill="#aaaaff"/>
<rect x="974.5" y="617" width="6" height="6" fill="#f4f4ff"/>
<rect x="1011.2" y="617" width="6" height="6" fill="#aaaaff"/>
<rect x="1047.9" y="617" width="6" height="6" fill="#f4f4ff"/>
<rect x="1084.6" y="617" width="6" height="6" fill="#aaaaff"/>
<rect x="1121.3" y="617" width="6" height="6" fill="#f4f4ff"/>
<rect x="1158" y="617" width="6" height="6" fill="#f4f4ff"/>
<rect x="1194.7" y="617" width="6" height="6" fill="#f4f4ff"/>
<rect x="1231.4" y="617" width="6" height="6" fill="#aaaaff"/>
<rect x="823.8" y="659.1" width="6" height="6" fill="#f4f4ff"/>
<rect x="897.7" y="659.1" width="6" height="6" fill="#aaaaff"/>
<rect x="1045.5" y="659.1" width="6" height="6" fill="#f4f4ff"/>
<rect x="1082.4" y="659.1" width="6" height="6" fill="#f4f4ff"/>
<rect x="1119.4" y="659.1" width="6" height="6" fill="#ffe6e6"/>
<rect x="1156.3" y="659.1" width="6" height="6" fill="#f4f4ff"/>
<rect x="1193.3" y="659.1" width="6" height="6" fill="#aaaaff"/>
<rect x="1230.2" y="659.1" width="6" height="6" fill="#f4f4ff"/>
<rect x="821.4" y="701.2" width="6" height="6" fill="#ff8080"/>
<rect x="1081.1" y="701.2" width="6" height="6" fill="#f4f4ff"/>
<rect x="1118.2" y="701.2" width="6" height="6" fill="#f4f4ff"/>
<rect x="1155.3" y="701.2" width="6" height="6" fill="#f4f4ff"/>
<rect x="1192.4" y="701.2" width="6" height="6" fill="#f4f4ff"/>
<rect x="1229.5" y="701.2" width="6" height="6" fill="#ffc0c0"/>
<rect x="1080.4" y="743.3" width="6" height="6" fill="#f4f4ff"/>
<rect x="1117.5" y="743.3" width="6" height="6" fill="#f4f4ff"/>
<rect x="1154.7" y="743.3" width="6" height="6" fill="#f4f4ff"/>
<rect x="1191.9" y="743.3" width="6" height="6" fill="#f4f4ff"/>
<rect x="1229.1" y="743.3" width="6" height="6" fill="#f4f4ff"/>
<rect x="1266.3" y="743.3" width="6" height="6" fill="#aaaaff"/>
<rect x="1117.5" y="785.5" width="6" height="6" fill="#f4f4ff"/>
<rect x="1154.7" y="785.5" width="6" height="6" fill="#f4f4ff"/>
<rect x="1191.9" y="785.5" width="6" height="6" fill="#f4f4ff"/>
<rect x="1229.1" y="785.5" width="6" height="6" fill="#aaaaff"/>
<rect x="1320.5" y="284.8" width="6" height="6" fill="#ffe6e6"/>
<rect x="1350.9" y="284.8" width="6" height="6" fill="#f4f4ff"/>
<rect x="1348.9" y="324.5" width="6" height="6" fill="#f4f4ff"/>
<rect x="1380.6" y="324.5" width="6" height="6" fill="#ff8080"/>
<rect x="1412.4" y="324.5" width="6" height="6" fill="#ffc0c0"/>
<rect x="1444.1" y="324.5" width="6" height="6" fill="#ffe6e6"/>
<rect x="1380.1" y="365.3" width="6" height="6" fill="#ffe6e6"/>
<rect x="1379.1" y="448.5" width="6" height="6" fill="#aaaaff"/>
<rect x="1413.9" y="448.5" width="6" height="6" fill="#ffe6e6"/>
<rect x="2475.9" y="284.8" width="6" height="6" fill="#d0d0ff"/>
<rect x="2490.2" y="324.5" width="6" height="6" fill="#0000e6"/>
<rect x="2521.9" y="324.5" width="6" height="6" fill="#4646ff"/>
<rect x="2420.3" y="448.5" width="6" height="6" fill="#ffc0c0"/>
<rect x="2405.9" y="490.6" width="6" height="6" fill="#f4f4ff"/>
<rect x="2441.3" y="490.6" width="6" height="6" fill="#f4f4ff"/>
<rect x="2476.7" y="490.6" width="6" height="6" fill="#f4f4ff"/>
<rect x="2314.1" y="532.7" width="6" height="6" fill="#f4f4ff"/>
<rect x="2350" y="532.7" width="6" height="6" fill="#f4f4ff"/>
<rect x="2386" y="532.7" width="6" height="6" fill="#d0d0ff"/>
<rect x="2458" y="532.7" width="6" height="6" fill="#d0d0ff"/>
<rect x="2494" y="532.7" width="6" height="6" fill="#d0d0ff"/>
<rect x="2530" y="532.7" width="6" height="6" fill="#f4f4ff"/>
<rect x="522.5" y="743.3" width="6" height="6" fill="#aaaaff"/>
<rect x="410.9" y="785.5" width="6" height="6" fill="#f4f4ff"/>
<rect x="448.1" y="785.5" width="6" height="6" fill="#d0d0ff"/>
<rect x="485.3" y="785.5" width="6" height="6" fill="#f4f4ff"/>
<rect x="522.5" y="785.5" width="6" height="6" fill="#aaaaff"/>
<rect x="559.6" y="785.5" width="6" height="6" fill="#f4f4ff"/>
<rect x="376.1" y="827.6" width="6" height="6" fill="#f4f4ff"/>
<rect x="413.2" y="827.6" width="6" height="6" fill="#d0d0ff"/>
<rect x="784.3" y="827.6" width="6" height="6" fill="#f4f4ff"/>
<rect x="821.4" y="827.6" width="6" height="6" fill="#ffc0c0"/>
<rect x="1118.2" y="827.6" width="6" height="6" fill="#d0d0ff"/>
<rect x="1155.3" y="827.6" width="6" height="6" fill="#f4f4ff"/>
<rect x="1192.4" y="827.6" width="6" height="6" fill="#f4f4ff"/>
<rect x="1229.5" y="827.6" width="6" height="6" fill="#f4f4ff"/>
<rect x="1266.6" y="827.6" width="6" height="6" fill="#d0d0ff"/>
<rect x="823.8" y="869.7" width="6" height="6" fill="#f4f4ff"/>
<rect x="1119.4" y="869.7" width="6" height="6" fill="#d0d0ff"/>
<rect x="1156.3" y="869.7" width="6" height="6" fill="#d0d0ff"/>
<rect x="1193.3" y="869.7" width="6" height="6" fill="#f4f4ff"/>
<rect x="1230.2" y="869.7" width="6" height="6" fill="#ffc0c0"/>
<rect x="1267.2" y="869.7" width="6" height="6" fill="#f4f4ff"/>
<rect x="1304.1" y="869.7" width="6" height="6" fill="#d0d0ff"/>
<rect x="1341.1" y="869.7" width="6" height="6" fill="#d0d0ff"/>
<rect x="827.7" y="911.8" width="6" height="6" fill="#ff4040"/>
<rect x="1121.3" y="911.8" width="6" height="6" fill="#aaaaff"/>
<rect x="1158" y="911.8" width="6" height="6" fill="#d0d0ff"/>
<rect x="1194.7" y="911.8" width="6" height="6" fill="#ffe6e6"/>
<rect x="1341.5" y="911.8" width="6" height="6" fill="#ffe6e6"/>
<rect x="832.5" y="954" width="6" height="6" fill="#ffc0c0"/>
<rect x="1087.2" y="954" width="6" height="6" fill="#d0d0ff"/>
<rect x="1123.6" y="954" width="6" height="6" fill="#aaaaff"/>
<rect x="1160" y="954" width="6" height="6" fill="#f4f4ff"/>
<rect x="802.8" y="996.1" width="6" height="6" fill="#ff8080"/>
<rect x="838.8" y="996.1" width="6" height="6" fill="#ff8080"/>
<rect x="874.7" y="996.1" width="6" height="6" fill="#aaaaff"/>
<rect x="1054.7" y="996.1" width="6" height="6" fill="#f4f4ff"/>
<rect x="1090.6" y="996.1" width="6" height="6" fill="#d0d0ff"/>
<rect x="1126.6" y="996.1" width="6" height="6" fill="#d0d0ff"/>
<rect x="1162.6" y="996.1" width="6" height="6" fill="#f4f4ff"/>
<rect x="1234.6" y="996.1" width="6" height="6" fill="#4646ff"/>
<rect x="1270.6" y="996.1" width="6" height="6" fill="#aaaaff"/>
<rect x="883" y="1038.2" width="6" height="6" fill="#d0d0ff"/>
<rect x="1024.6" y="1038.2" width="6" height="6" fill="#ffe6e6"/>
<rect x="1060" y="1038.2" width="6" height="6" fill="#d0d0ff"/>
<rect x="1095.5" y="1038.2" width="6" height="6" fill="#d0d0ff"/>
<rect x="1166.3" y="1038.2" width="6" height="6" fill="#ff8080"/>
<rect x="1201.7" y="1038.2" width="6" height="6" fill="#f4f4ff"/>
<rect x="1237.1" y="1038.2" width="6" height="6" fill="#d0d0ff"/>
<rect x="1272.5" y="1038.2" width="6" height="6" fill="#0000e6"/>
<rect x="1308" y="1038.2" width="6" height="6" fill="#d0d0ff"/>
<rect x="1343.4" y="1038.2" width="6" height="6" fill="#f4f4ff"/>
<rect x="858.6" y="1080.3" width="6" height="6" fill="#aaaaff"/>
<rect x="893.3" y="1080.3" width="6" height="6" fill="#d0d0ff"/>
<rect x="997.4" y="1080.3" width="6" height="6" fill="#aaaaff"/>
<rect x="1032.1" y="1080.3" width="6" height="6" fill="#f4f4ff"/>
<rect x="1066.8" y="1080.3" width="6" height="6" fill="#ffc0c0"/>
<rect x="1344.4" y="1080.3" width="6" height="6" fill="#ffc0c0"/>
<rect x="838.2" y="1122.1" width="6" height="6" fill="#0000e6"/>
<rect x="872.1" y="1122.1" width="6" height="6" fill="#4646ff"/>
<rect x="973.6" y="1122.1" width="6" height="6" fill="#aaaaff"/>
<rect x="1007.4" y="1122.1" width="6" height="6" fill="#aaaaff"/>
<rect x="1041.2" y="1122.1" width="6" height="6" fill="#ffc0c0"/>
<rect x="854.7" y="1163.5" width="6" height="6" fill="#4646ff"/>
<rect x="887.5" y="1163.5" width="6" height="6" fill="#4646ff"/>
<rect x="986" y="1163.5" width="6" height="6" fill="#f4f4ff"/>
<rect x="1018.9" y="1163.5" width="6" height="6" fill="#f4f4ff"/>
<rect x="905.1" y="1204.3" width="6" height="6" fill="#f4f4ff"/>
<rect x="968.5" y="1204.3" width="6" height="6" fill="#f4f4ff"/>
<rect x="1000.2" y="1204.3" width="6" height="6" fill="#f4f4ff"/>
<rect x="1031.9" y="1204.3" width="6" height="6" fill="#aaaaff"/>
<rect x="1378.2" y="911.8" width="6" height="6" fill="#f4f4ff"/>
<rect x="1928.6" y="911.8" width="6" height="6" fill="#d0d0ff"/>
<rect x="1965.3" y="911.8" width="6" height="6" fill="#f4f4ff"/>
<rect x="1378.3" y="954" width="6" height="6" fill="#ffe6e6"/>
<rect x="1414.7" y="954" width="6" height="6" fill="#f4f4ff"/>
<rect x="1451.1" y="954" width="6" height="6" fill="#f4f4ff"/>
<rect x="1778.6" y="954" width="6" height="6" fill="#f4f4ff"/>
<rect x="1814.9" y="954" width="6" height="6" fill="#ffe6e6"/>
<rect x="1851.3" y="954" width="6" height="6" fill="#ffc0c0"/>
<rect x="1887.7" y="954" width="6" height="6" fill="#ffe6e6"/>
<rect x="1414.5" y="996.1" width="6" height="6" fill="#ff8080"/>
<rect x="1450.5" y="996.1" width="6" height="6" fill="#f4f4ff"/>
<rect x="1486.5" y="996.1" width="6" height="6" fill="#d0d0ff"/>
<rect x="1702.4" y="996.1" width="6" height="6" fill="#f4f4ff"/>
<rect x="1738.3" y="996.1" width="6" height="6" fill="#f4f4ff"/>
<rect x="1774.3" y="996.1" width="6" height="6" fill="#ff8080"/>
<rect x="1378.8" y="1038.2" width="6" height="6" fill="#aaaaff"/>
<rect x="1414.2" y="1038.2" width="6" height="6" fill="#aaaaff"/>
<rect x="1449.6" y="1038.2" width="6" height="6" fill="#f4f4ff"/>
<rect x="1485" y="1038.2" width="6" height="6" fill="#f4f4ff"/>
<rect x="1520.5" y="1038.2" width="6" height="6" fill="#f4f4ff"/>
<rect x="1555.9" y="1038.2" width="6" height="6" fill="#aaaaff"/>
<rect x="1591.3" y="1038.2" width="6" height="6" fill="#f4f4ff"/>
<rect x="1626.7" y="1038.2" width="6" height="6" fill="#ffc0c0"/>
<rect x="1662.1" y="1038.2" width="6" height="6" fill="#ffe6e6"/>
<rect x="1980.9" y="1038.2" width="6" height="6" fill="#4646ff"/>
<rect x="1379.1" y="1080.3" width="6" height="6" fill="#ffc0c0"/>
<rect x="1413.9" y="1080.3" width="6" height="6" fill="#f4f4ff"/>
<rect x="1448.6" y="1080.3" width="6" height="6" fill="#aaaaff"/>
<rect x="1483.3" y="1080.3" width="6" height="6" fill="#4646ff"/>
<rect x="1518" y="1080.3" width="6" height="6" fill="#f4f4ff"/>
<rect x="1552.7" y="1080.3" width="6" height="6" fill="#f4f4ff"/>
<rect x="1587.4" y="1080.3" width="6" height="6" fill="#f4f4ff"/>
<rect x="1622.1" y="1080.3" width="6" height="6" fill="#d0d0ff"/>
<rect x="1656.8" y="1080.3" width="6" height="6" fill="#aaaaff"/>
<rect x="1691.5" y="1080.3" width="6" height="6" fill="#aaaaff"/>
<rect x="1726.2" y="1080.3" width="6" height="6" fill="#d0d0ff"/>
<rect x="1760.9" y="1080.3" width="6" height="6" fill="#d0d0ff"/>
<rect x="1795.6" y="1080.3" width="6" height="6" fill="#4646ff"/>
<rect x="1830.3" y="1080.3" width="6" height="6" fill="#aaaaff"/>
<rect x="1865" y="1080.3" width="6" height="6" fill="#f4f4ff"/>
<rect x="1899.7" y="1080.3" width="6" height="6" fill="#d0d0ff"/>
<rect x="1934.4" y="1080.3" width="6" height="6" fill="#aaaaff"/>
<rect x="1969.1" y="1080.3" width="6" height="6" fill="#f4f4ff"/>
<rect x="2215.2" y="574.8" width="6" height="6" fill="#d0d0ff"/>
<rect x="2251.6" y="574.8" width="6" height="6" fill="#f4f4ff"/>
<rect x="2288" y="574.8" width="6" height="6" fill="#f4f4ff"/>
<rect x="2324.3" y="574.8" width="6" height="6" fill="#d0d0ff"/>
<rect x="2222.2" y="617" width="6" height="6" fill="#f4f4ff"/>
<rect x="2258.9" y="617" width="6" height="6" fill="#ffc0c0"/>
<rect x="2190.9" y="659.1" width="6" height="6" fill="#f4f4ff"/>
<rect x="2227.8" y="659.1" width="6" height="6" fill="#f4f4ff"/>
<rect x="2194.3" y="701.2" width="6" height="6" fill="#f4f4ff"/>
<rect x="2231.4" y="701.2" width="6" height="6" fill="#f4f4ff"/>
<rect x="2305.6" y="701.2" width="6" height="6" fill="#ff8080"/>
<rect x="2159" y="743.3" width="6" height="6" fill="#ff4040"/>
<rect x="2196.2" y="743.3" width="6" height="6" fill="#f4f4ff"/>
<rect x="2196.2" y="785.5" width="6" height="6" fill="#ffe6e6"/>
<rect x="2233.4" y="785.5" width="6" height="6" fill="#f4f4ff"/>
<rect x="2270.5" y="785.5" width="6" height="6" fill="#d0d0ff"/>
<rect x="2120" y="827.6" width="6" height="6" fill="#ff8080"/>
<rect x="2157.1" y="827.6" width="6" height="6" fill="#f4f4ff"/>
<rect x="2194.3" y="827.6" width="6" height="6" fill="#ffe6e6"/>
<rect x="2268.5" y="827.6" width="6" height="6" fill="#f4f4ff"/>
<rect x="2043.1" y="869.7" width="6" height="6" fill="#d0d0ff"/>
<rect x="2080.1" y="869.7" width="6" height="6" fill="#ffe6e6"/>
<rect x="2117" y="869.7" width="6" height="6" fill="#ffc0c0"/>
<rect x="2154" y="869.7" width="6" height="6" fill="#f4f4ff"/>
<rect x="2190.9" y="869.7" width="6" height="6" fill="#d0d0ff"/>
<rect x="2264.8" y="869.7" width="6" height="6" fill="#f4f4ff"/>
<rect x="2002" y="911.8" width="6" height="6" fill="#ffc0c0"/>
<rect x="2038.7" y="911.8" width="6" height="6" fill="#ff8080"/>
<rect x="2148.8" y="911.8" width="6" height="6" fill="#d0d0ff"/>
<rect x="2033.3" y="954" width="6" height="6" fill="#aaaaff"/>
<rect x="2069.6" y="954" width="6" height="6" fill="#aaaaff"/>
<rect x="2106" y="954" width="6" height="6" fill="#f4f4ff"/>
<rect x="2142.4" y="954" width="6" height="6" fill="#f4f4ff"/>
<rect x="2026.2" y="996.1" width="6" height="6" fill="#aaaaff"/>
<rect x="2062.2" y="996.1" width="6" height="6" fill="#f4f4ff"/>
<rect x="2098.2" y="996.1" width="6" height="6" fill="#d0d0ff"/>
<rect x="2134.1" y="996.1" width="6" height="6" fill="#aaaaff"/>
<rect x="2016.3" y="1038.2" width="6" height="6" fill="#aaaaff"/>
<rect x="2051.7" y="1038.2" width="6" height="6" fill="#d0d0ff"/>
<rect x="2087.1" y="1038.2" width="6" height="6" fill="#d0d0ff"/>
<rect x="2122.5" y="1038.2" width="6" height="6" fill="#f4f4ff"/>
<rect x="2157.9" y="1038.2" width="6" height="6" fill="#d0d0ff"/>
<rect x="2003.8" y="1080.3" width="6" height="6" fill="#d0d0ff"/>
<rect x="2038.5" y="1080.3" width="6" height="6" fill="#ffe6e6"/>
<rect x="1208" y="246.2" width="6" height="6" fill="#f4f4ff"/>
<rect x="1237" y="246.2" width="6" height="6" fill="#d0d0ff"/>
<rect x="1266" y="246.2" width="6" height="6" fill="#aaaaff"/>
<rect x="1295" y="246.2" width="6" height="6" fill="#4646ff"/>
<rect x="1168.5" y="284.8" width="6" height="6" fill="#aaaaff"/>
<rect x="1198.9" y="284.8" width="6" height="6" fill="#aaaaff"/>
<rect x="1290.1" y="284.8" width="6" height="6" fill="#ffc0c0"/>
<circle cx="569.7" cy="491.8" r="2.9" fill="#f4f4ff" stroke-width="0.7"/>
<circle cx="909.7" cy="384.4" r="2.9" fill="#f4f4ff" stroke-width="0.7"/>
<circle cx="865.6" cy="399.8" r="2.9" fill="#aaaaff" stroke-width="0.7"/>
<circle cx="913.4" cy="399.8" r="2.9" fill="#aaaaff" stroke-width="0.7"/>
<circle cx="875" cy="403.9" r="2.9" fill="#f4f4ff" stroke-width="0.7"/>
<circle cx="882.9" cy="406.4" r="2.9" fill="#f4f4ff" stroke-width="0.7"/>
<circle cx="877.6" cy="408.6" r="2.9" fill="#f4f4ff" stroke-width="0.7"/>
<circle cx="900.2" cy="408.6" r="2.9" fill="#f4f4ff" stroke-width="0.7"/>
<circle cx="902.7" cy="419.6" r="2.9" fill="#aaaaff" stroke-width="0.7"/>
<circle cx="914.4" cy="417.1" r="2.9" fill="#f4f4ff" stroke-width="0.7"/>
<circle cx="918.5" cy="417.1" r="2.9" fill="#f4f4ff" stroke-width="0.7"/>
<circle cx="893.9" cy="425" r="2.9" fill="#aaaaff" stroke-width="0.7"/>
<circle cx="882.9" cy="430.6" r="2.9" fill="#f4f4ff" stroke-width="0.7"/>
<circle cx="872.8" cy="436.3" r="2.9" fill="#aaaaff" stroke-width="0.7"/>
<circle cx="823.4" cy="437.2" r="2.9" fill="#aaaaff" stroke-width="0.7"/>
<circle cx="734" cy="437.2" r="2.9" fill="#f4f4ff" stroke-width="0.7"/>
<circle cx="775.6" cy="440.7" r="2.9" fill="#f4f4ff" stroke-width="0.7"/>
<circle cx="742.9" cy="448.9" r="2.9" fill="#f4f4ff" stroke-width="0.7"/>
<circle cx="834.1" cy="490.1" r="2.9" fill="#f4f4ff" stroke-width="0.7"/>
<circle cx="806.7" cy="531.3" r="2.9" fill="#ffe6e6" stroke-width="0.7"/>
<circle cx="967.9" cy="710.1" r="2.9" fill="#f4f4ff" stroke-width="0.7"/>
<circle cx="1301.5" cy="694.7" r="2.9" fill="#aaaaff" stroke-width="0.7"/>
<circle cx="1392.5" cy="267" r="2.9" fill="#f4f4ff" stroke-width="0.7"/>
<circle cx="1379.7" cy="275.3" r="2.9" fill="#ffe6e6" stroke-width="0.7"/>
<circle cx="1381.8" cy="296.6" r="2.9" fill="#d0d0ff" stroke-width="0.7"/>
<circle cx="1378.3" cy="299.7" r="2.9" fill="#d0d0ff" stroke-width="0.7"/>
<circle cx="1389.4" cy="309" r="2.9" fill="#d0d0ff" stroke-width="0.7"/>
<circle cx="1358" cy="311.7" r="2.9" fill="#f4f4ff" stroke-width="0.7"/>
<circle cx="1360" cy="320.4" r="2.9" fill="#f4f4ff" stroke-width="0.7"/>
<circle cx="1383.8" cy="316.7" r="2.9" fill="#d0d0ff" stroke-width="0.7"/>
<circle cx="1391.7" cy="333.8" r="2.9" fill="#f4f4ff" stroke-width="0.7"/>
<circle cx="1400" cy="334.9" r="2.9" fill="#ffe6e6" stroke-width="0.7"/>
<circle cx="1463.5" cy="268.6" r="2.9" fill="#f4f4ff" stroke-width="0.7"/>
<circle cx="1503.9" cy="269" r="2.9" fill="#f4f4ff" stroke-width="0.7"/>
<circle cx="1509.1" cy="269" r="2.9" fill="#d0d0ff" stroke-width="0.7"/>
<circle cx="1507" cy="273.2" r="2.9" fill="#f4f4ff" stroke-width="0.7"/>
<circle cx="1547.8" cy="266.1" r="2.9" fill="#f4f4ff" stroke-width="0.7"/>
<circle cx="1543.7" cy="272.4" r="2.9" fill="#ffe6e6" stroke-width="0.7"/>
<circle cx="1577.4" cy="268.2" r="2.9" fill="#f4f4ff" stroke-width="0.7"/>
<circle cx="1588.4" cy="280" r="2.9" fill="#f4f4ff" stroke-width="0.7"/>
<circle cx="1476" cy="293.9" r="2.9" fill="#f4f4ff" stroke-width="0.7"/>
<circle cx="1544.9" cy="293.9" r="2.9" fill="#f4f4ff" stroke-width="0.7"/>
<circle cx="1534.6" cy="306.3" r="2.9" fill="#d0d0ff" stroke-width="0.7"/>
<circle cx="1524.6" cy="310" r="2.9" fill="#f4f4ff" stroke-width="0.7"/>
<circle cx="1556.1" cy="310.7" r="2.9" fill="#f4f4ff" stroke-width="0.7"/>
<circle cx="1501.2" cy="313.6" r="2.9" fill="#f4f4ff" stroke-width="0.7"/>
<circle cx="1462.5" cy="312.1" r="2.9" fill="#f4f4ff" stroke-width="0.7"/>
<circle cx="1466.7" cy="316.7" r="2.9" fill="#f4f4ff" stroke-width="0.7"/>
<circle cx="1476" cy="314.6" r="2.9" fill="#ffe6e6" stroke-width="0.7"/>
<circle cx="1479.1" cy="314.6" r="2.9" fill="#f4f4ff" stroke-width="0.7"/>
<circle cx="1491.5" cy="320.4" r="2.9" fill="#f4f4ff" stroke-width="0.7"/>
<circle cx="1538.1" cy="316.9" r="2.9" fill="#d0d0ff" stroke-width="0.7"/>
<circle cx="1484.2" cy="327.2" r="2.9" fill="#aaaaff" stroke-width="0.7"/>
<circle cx="1492.5" cy="329.1" r="2.9" fill="#d0d0ff" stroke-width="0.7"/>
<circle cx="1465.6" cy="328.7" r="2.9" fill="#ffe6e6" stroke-width="0.7"/>
<circle cx="1473.5" cy="330.3" r="2.9" fill="#f4f4ff" stroke-width="0.7"/>
<circle cx="1453.2" cy="332.4" r="2.9" fill="#f4f4ff" stroke-width="0.7"/>
<circle cx="1446.6" cy="334.9" r="2.9" fill="#d0d0ff" stroke-width="0.7"/>
<circle cx="1432.5" cy="330.3" r="2.9" fill="#f4f4ff" stroke-width="0.7"/>
<circle cx="1427.7" cy="341.1" r="2.9" fill="#d0d0ff" stroke-width="0.7"/>
<circle cx="1439.1" cy="341.1" r="2.9" fill="#f4f4ff" stroke-width="0.7"/>
<circle cx="1444.3" cy="339.4" r="2.9" fill="#f4f4ff" stroke-width="0.7"/>
<circle cx="1482.6" cy="334.9" r="2.9" fill="#d0d0ff" stroke-width="0.7"/>
<circle cx="1478.7" cy="337.4" r="2.9" fill="#d0d0ff" stroke-width="0.7"/>
<circle cx="1474.5" cy="340.5" r="2.9" fill="#aaaaff" stroke-width="0.7"/>
<circle cx="1469.8" cy="339.4" r="2.9" fill="#ffe6e6" stroke-width="0.7"/>
<circle cx="1495.6" cy="338.4" r="2.9" fill="#d0d0ff" stroke-width="0.7"/>
<circle cx="1508.1" cy="339" r="2.9" fill="#d0d0ff" stroke-width="0.7"/>
<circle cx="1532.9" cy="329.7" r="2.9" fill="#d0d0ff" stroke-width="0.7"/>
<circle cx="1455.7" cy="346.7" r="2.9" fill="#f4f4ff" stroke-width="0.7"/>
<circle cx="1491.5" cy="346.7" r="2.9" fill="#d0d0ff" stroke-width="0.7"/>
<circle cx="1528.3" cy="347.3" r="2.9" fill="#d0d0ff" stroke-width="0.7"/>
<circle cx="1406.6" cy="352.5" r="2.9" fill="#ffc0c0" stroke-width="0.7"/>
<circle cx="1416.3" cy="350.4" r="2.9" fill="#d0d0ff" stroke-width="0.7"/>
<circle cx="1414.5" cy="357.7" r="2.9" fill="#d0d0ff" stroke-width="0.7"/>
<circle cx="1508.1" cy="354.1" r="2.9" fill="#aaaaff" stroke-width="0.7"/>
<circle cx="1478" cy="355" r="2.9" fill="#d0d0ff" stroke-width="0.7"/>
<circle cx="1459.4" cy="357.2" r="2.9" fill="#aaaaff" stroke-width="0.7"/>
<circle cx="1454.2" cy="355.6" r="2.9" fill="#f4f4ff" stroke-width="0.7"/>
<circle cx="1449.1" cy="359.7" r="2.9" fill="#f4f4ff" stroke-width="0.7"/>
<circle cx="1453.6" cy="360.1" r="2.9" fill="#f4f4ff" stroke-width="0.7"/>
<circle cx="1470.8" cy="360.8" r="2.9" fill="#d0d0ff" stroke-width="0.7"/>
<circle cx="1475.6" cy="362.8" r="2.9" fill="#f4f4ff" stroke-width="0.7"/>
<circle cx="1492.5" cy="361.8" r="2.9" fill="#aaaaff" stroke-width="0.7"/>
<circle cx="1506.6" cy="361.8" r="2.9" fill="#d0d0ff" stroke-width="0.7"/>
<circle cx="1484.2" cy="365.9" r="2.9" fill="#f4f4ff" stroke-width="0.7"/>
<circle cx="1471.8" cy="365.9" r="2.9" fill="#f4f4ff" stroke-width="0.7"/>
<circle cx="1474.9" cy="369.7" r="2.9" fill="#f4f4ff" stroke-width="0.7"/>
<circle cx="1455.3" cy="369" r="2.9" fill="#f4f4ff" stroke-width="0.7"/>
<circle cx="1449.1" cy="368.6" r="2.9" fill="#f4f4ff" stroke-width="0.7"/>
<circle cx="1448.6" cy="372.6" r="2.9" fill="#ffe6e6" stroke-width="0.7"/>
<circle cx="1501.8" cy="371.1" r="2.9" fill="#f4f4ff" stroke-width="0.7"/>
<circle cx="1525.7" cy="369" r="2.9" fill="#aaaaff" stroke-width="0.7"/>
<circle cx="1495" cy="376.3" r="2.9" fill="#0000e6" stroke-width="0.7"/>
<circle cx="1487.4" cy="380" r="2.9" fill="#f4f4ff" stroke-width="0.7"/>
<circle cx="1472.9" cy="380" r="2.9" fill="#d0d0ff" stroke-width="0.7"/>
<circle cx="1491.5" cy="383.5" r="2.9" fill="#d0d0ff" stroke-width="0.7"/>
<circle cx="1479.1" cy="385.6" r="2.9" fill="#d0d0ff" stroke-width="0.7"/>
<circle cx="1471.4" cy="386.6" r="2.9" fill="#aaaaff" stroke-width="0.7"/>
<circle cx="1460.4" cy="385" r="2.9" fill="#f4f4ff" stroke-width="0.7"/>
<circle cx="1450.7" cy="387.7" r="2.9" fill="#f4f4ff" stroke-width="0.7"/>
<circle cx="1447.6" cy="382.5" r="2.9" fill="#aaaaff" stroke-width="0.7"/>
<circle cx="1439.7" cy="381.9" r="2.9" fill="#aaaaff" stroke-width="0.7"/>
<circle cx="1475.6" cy="392.8" r="2.9" fill="#d0d0ff" stroke-width="0.7"/>
<circle cx="1459.4" cy="393.5" r="2.9" fill="#f4f4ff" stroke-width="0.7"/>
<circle cx="1475.6" cy="398.4" r="2.9" fill="#f4f4ff" stroke-width="0.7"/>
<circle cx="1448" cy="400.1" r="2.9" fill="#d0d0ff" stroke-width="0.7"/>
<circle cx="1434.6" cy="402.2" r="2.9" fill="#ffe6e6" stroke-width="0.7"/>
<circle cx="1414.5" cy="418.7" r="2.9" fill="#d0d0ff" stroke-width="0.7"/>
<circle cx="1492.5" cy="446.3" r="2.9" fill="#ff8080" stroke-width="0.7"/>
<circle cx="1598.1" cy="421.8" r="2.9" fill="#ffc0c0" stroke-width="0.7"/>
<circle cx="1705.1" cy="416" r="2.9" fill="#ffe6e6" stroke-width="0.7"/>
<circle cx="1629.2" cy="333.4" r="2.9" fill="#d0d0ff" stroke-width="0.7"/>
<circle cx="1660.2" cy="325.6" r="2.9" fill="#f4f4ff" stroke-width="0.7"/>
<circle cx="1687.5" cy="334.5" r="2.9" fill="#aaaaff" stroke-width="0.7"/>
<circle cx="1728.5" cy="336.9" r="2.9" fill="#f4f4ff" stroke-width="0.7"/>
<circle cx="1751.3" cy="333.8" r="2.9" fill="#aaaaff" stroke-width="0.7"/>
<circle cx="1623.6" cy="351" r="2.9" fill="#f4f4ff" stroke-width="0.7"/>
<circle cx="1656.1" cy="359.1" r="2.9" fill="#d0d0ff" stroke-width="0.7"/>
<circle cx="1689.8" cy="359.1" r="2.9" fill="#aaaaff" stroke-width="0.7"/>
<circle cx="1585.3" cy="372.1" r="2.9" fill="#d0d0ff" stroke-width="0.7"/>
<circle cx="1601.8" cy="375.9" r="2.9" fill="#d0d0ff" stroke-width="0.7"/>
<circle cx="1610.1" cy="372.1" r="2.9" fill="#aaaaff" stroke-width="0.7"/>
<circle cx="1712" cy="377.9" r="2.9" fill="#f4f4ff" stroke-width="0.7"/>
<circle cx="1623.6" cy="391.8" r="2.9" fill="#d0d0ff" stroke-width="0.7"/>
<circle cx="1630.6" cy="389.7" r="2.9" fill="#aaaaff" stroke-width="0.7"/>
<circle cx="1735.8" cy="391.8" r="2.9" fill="#aaaaff" stroke-width="0.7"/>
<circle cx="1691.9" cy="255.2" r="2.9" fill="#aaaaff" stroke-width="0.7"/>
<circle cx="1739.5" cy="273.8" r="2.9" fill="#f4f4ff" stroke-width="0.7"/>
<circle cx="1757.5" cy="270.1" r="2.9" fill="#d0d0ff" stroke-width="0.7"/>
<circle cx="1698.1" cy="279" r="2.9" fill="#d0d0ff" stroke-width="0.7"/>
<circle cx="1642.6" cy="286.2" r="2.9" fill="#ffe6e6" stroke-width="0.7"/>
<circle cx="1667" cy="295.1" r="2.9" fill="#d0d0ff" stroke-width="0.7"/>
<circle cx="1670.2" cy="298" r="2.9" fill="#f4f4ff" stroke-width="0.7"/>
<circle cx="1702" cy="301.8" r="2.9" fill="#aaaaff" stroke-width="0.7"/>
<circle cx="1720.7" cy="301.8" r="2.9" fill="#4646ff" stroke-width="0.7"/>
<circle cx="2155.5" cy="252.6" r="2.9" fill="#d0d0ff" stroke-width="0.7"/>
<circle cx="2255.3" cy="272.8" r="2.9" fill="#f4f4ff" stroke-width="0.7"/>
<circle cx="2165" cy="337.3" r="2.9" fill="#f4f4ff" stroke-width="0.7"/>
<circle cx="2196.4" cy="430.8" r="2.9" fill="#f4f4ff" stroke-width="0.7"/>
<circle cx="2199.6" cy="432.3" r="2.9" fill="#f4f4ff" stroke-width="0.7"/>
<circle cx="2035.6" cy="538.4" r="2.9" fill="#ffe6e6" stroke-width="0.7"/>
<circle cx="2402.3" cy="323.8" r="2.9" fill="#f4f4ff" stroke-width="0.7"/>
<circle cx="2319.8" cy="491.8" r="2.9" fill="#ff8080" stroke-width="0.7"/>
<circle cx="1771.8" cy="238.5" r="2.9" fill="#f4f4ff" stroke-width="0.7"/>
<circle cx="1811.2" cy="282.2" r="2.9" fill="#f4f4ff" stroke-width="0.7"/>
<circle cx="1762.5" cy="284.5" r="2.9" fill="#d0d0ff" stroke-width="0.7"/>
<circle cx="1766.7" cy="293.2" r="2.9" fill="#aaaaff" stroke-width="0.7"/>
<circle cx="1770.4" cy="293.2" r="2.9" fill="#aaaaff" stroke-width="0.7"/>
<circle cx="1770" cy="306" r="2.9" fill="#aaaaff" stroke-width="0.7"/>
<circle cx="1922.1" cy="320.3" r="2.9" fill="#aaaaff" stroke-width="0.7"/>
<circle cx="1819.5" cy="380.7" r="2.9" fill="#d0d0ff" stroke-width="0.7"/>
<circle cx="1932.6" cy="607.7" r="2.9" fill="#d0d0ff" stroke-width="0.7"/>
<circle cx="1804.5" cy="945.4" r="2.9" fill="#f4f4ff" stroke-width="0.7"/>
<circle cx="1819.6" cy="938.2" r="2.9" fill="#f4f4ff" stroke-width="0.7"/>
</g>
</g>
<g clip-path="url(#tb)"><path d="M2112.4,88 L2121.8,90.5 L2131.9,93.3 L2142.7,96.6 L2154.1,100.2 L2166,104.2 L2178.3,108.6 L2191.2,113.3 L2204.4,118.3 L2217.9,123.6 L2231.7,129.2 L2245.8,135 L2259.9,141.1 L2274,147.3 L2287.8,153.8 L2301.3,160.3 L2314.2,166.9 L2326.7,173.6 L2338.8,180.5 L2350.6,187.3 L2362.1,194.3 L2373.4,201.4 L2384.5,208.6 L2395.5,215.8 L2406.4,223.1 L2417.1,230.5 L2427.8,237.9 L2438.3,245.4 L2448.7,253 L2459,260.6 L2469.2,268.3 L2479.3,276.1 L2489.2,283.8 L2498.9,291.7 L2508.5,299.6 L2518,307.5 L2527.2,315.5 L2536.3,323.5 L2545.2,331.6 L2553.7,339.7 L2562.1,347.8 L2570.1,356 L2577.8,364.2 L2585.4,372.4 L2592.7,380.6 L2600,388.9 L2607.1,397.2 L2614.1,405.5 L2620.9,413.8 L2627.6,422.2 L2634,430.6 L2640.1,438.9 L2646,447.3 L2651.6,455.7 L2657,464.1 L2662.2,472.5 L2667.3,481 L2672.1,489.4 L2676.8,497.8 L2681.2,506.2 L2685.4,514.7 L2689.4,523.1 L2693.1,531.5 L2696.6,539.9 L2699.8,548.4 L2702.8,556.8 L2705.6,565.2 L2708.2,573.6 L2710.6,582.1 L2712.9,590.5 L2715.2,598.9 L2717.4,607.3 L2719.6,615.8 L2721.7,624.2 L2723.7,632.6 L2725.6,641 L2727.3,649.5 L2728.9,657.9 L2730.4,666.3 L2731.7,674.7 L2732.8,683.2 L2733.9,691.6 L2734.8,700 L2735.7,708.4 L2736.4,716.9 L2737.1,725.3 L2737.7,733.7 L2738.2,742.1 L2738.6,750.6 L2738.9,759 L2739,767.4 L2738.9,775.8 L2738.6,784.2 L2738.2,792.7 L2737.7,801.1 L2737.1,809.5 L2736.4,817.9 L2735.7,826.4 L2734.8,834.8 L2733.9,843.2 L2732.8,851.6 L2731.7,860.1 L2730.4,868.5 L2728.9,876.9 L2727.3,885.3 L2725.6,893.8 L2723.7,902.2 L2721.7,910.6 L2719.6,919 L2717.4,927.5 L2715.2,935.9 L2712.9,944.3 L2710.6,952.7 L2708.2,961.2 L2705.6,969.6 L2702.8,978 L2699.8,986.4 L2696.6,994.9 L2693.1,1003.3 L2689.4,1011.7 L2685.4,1020.1 L2681.2,1028.6 L2676.8,1037 L2672.1,1045.4 L2667.3,1053.8 L2662.2,1062.3 L2657,1070.7 L2651.6,1079.1 L2646,1087.5 L2640.1,1095.9 L2634,1104.2 L2627.6,1112.6 L2620.9,1121 L2614.1,1129.3 L2607.1,1137.6 L2600,1145.9 L2592.7,1154.2 L2585.4,1162.4 L2577.8,1170.6 L2570.1,1178.8 L2562.1,1187 L2553.7,1195.1 L2545.2,1203.2 L2536.3,1211.3 L2527.2,1219.3 L2518,1227.3 L2508.5,1235.2 L2498.9,1243.1 L2489.2,1251 L2479.3,1258.7 L2469.2,1266.5 L2459,1274.2 L2448.7,1281.8 L2438.3,1289.4 L2427.8,1296.9 L2417.1,1304.3 L2406.4,1311.7 L2395.5,1319 L2384.5,1326.2 L2373.4,1333.4 L2362.1,1340.5 L2350.6,1347.5 L2338.8,1354.3 L2326.7,1361.2 L2314.2,1367.9 L2301.3,1374.5 L2287.8,1381 L2274,1387.5 L2259.9,1393.7 L2245.8,1399.8 L2231.7,1405.6 L2217.9,1411.2 L2204.4,1416.5 L2191.2,1421.5 L2178.3,1426.2 L2166,1430.6 L2154.1,1434.6 L2142.7,1438.2 L2131.9,1441.5 L2121.8,1444.3 L2112.4,1446.8 L686.6,1446.8 L677.2,1444.3 L667.1,1441.5 L656.3,1438.2 L644.9,1434.6 L633,1430.6 L620.7,1426.2 L607.8,1421.5 L594.6,1416.5 L581.1,1411.2 L567.3,1405.6 L553.2,1399.8 L539.1,1393.7 L525,1387.5 L511.2,1381 L497.7,1374.5 L484.8,1367.9 L472.3,1361.2 L460.2,1354.3 L448.4,1347.5 L436.9,1340.5 L425.6,1333.4 L414.5,1326.2 L403.5,1319 L392.6,1311.7 L381.9,1304.3 L371.2,1296.9 L360.7,1289.4 L350.3,1281.8 L340,1274.2 L329.8,1266.5 L319.7,1258.7 L309.8,1251 L300.1,1243.1 L290.5,1235.2 L281,1227.3 L271.8,1219.3 L262.7,1211.3 L253.8,1203.2 L245.3,1195.1 L236.9,1187 L228.9,1178.8 L221.2,1170.6 L213.6,1162.4 L206.3,1154.2 L199,1145.9 L191.9,1137.6 L184.9,1129.3 L178.1,1121 L171.4,1112.6 L165,1104.2 L158.9,1095.9 L153,1087.5 L147.4,1079.1 L142,1070.7 L136.8,1062.3 L131.7,1053.8 L126.9,1045.4 L122.2,1037 L117.8,1028.6 L113.6,1020.1 L109.6,1011.7 L105.9,1003.3 L102.4,994.9 L99.2,986.4 L96.2,978 L93.4,969.6 L90.8,961.2 L88.4,952.7 L86.1,944.3 L83.8,935.9 L81.6,927.5 L79.4,919 L77.3,910.6 L75.3,902.2 L73.4,893.8 L71.7,885.3 L70.1,876.9 L68.6,868.5 L67.3,860.1 L66.2,851.6 L65.1,843.2 L64.2,834.8 L63.3,826.4 L62.6,817.9 L61.9,809.5 L61.3,801.1 L60.8,792.7 L60.4,784.2 L60.1,775.8 L60,767.4 L60.1,759 L60.4,750.6 L60.8,742.1 L61.3,733.7 L61.9,725.3 L62.6,716.9 L63.3,708.4 L64.2,700 L65.1,691.6 L66.2,683.2 L67.3,674.7 L68.6,666.3 L70.1,657.9 L71.7,649.5 L73.4,641 L75.3,632.6 L77.3,624.2 L79.4,615.8 L81.6,607.3 L83.8,598.9 L86.1,590.5 L88.4,582.1 L90.8,573.6 L93.4,565.2 L96.2,556.8 L99.2,548.4 L102.4,539.9 L105.9,531.5 L109.6,523.1 L113.6,514.7 L117.8,506.2 L122.2,497.8 L126.9,489.4 L131.7,481 L136.8,472.5 L142,464.1 L147.4,455.7 L153,447.3 L158.9,438.9 L165,430.6 L171.4,422.2 L178.1,413.8 L184.9,405.5 L191.9,397.2 L199,388.9 L206.3,380.6 L213.6,372.4 L221.2,364.2 L228.9,356 L236.9,347.8 L245.3,339.7 L253.8,331.6 L262.7,323.5 L271.8,315.5 L281,307.5 L290.5,299.6 L300.1,291.7 L309.8,283.8 L319.7,276.1 L329.8,268.3 L340,260.6 L350.3,253 L360.7,245.4 L371.2,237.9 L381.9,230.5 L392.6,223.1 L403.5,215.8 L414.5,208.6 L425.6,201.4 L436.9,194.3 L448.4,187.3 L460.2,180.5 L472.3,173.6 L484.8,166.9 L497.7,160.3 L511.2,153.8 L525,147.3 L539.1,141.1 L553.2,135 L567.3,129.2 L581.1,123.6 L594.6,118.3 L607.8,113.3 L620.7,108.6 L633,104.2 L644.9,100.2 L656.3,96.6 L667.1,93.3 L677.2,90.5 L686.6,88Z" fill="none" stroke="#000" stroke-width="5.1" stroke-linejoin="round"/></g>
<text x="1400.2" y="62.7" font-size="45" text-anchor="middle" textLength="1740" lengthAdjust="spacingAndGlyphs">1849-09 NAO=-2.23 SOI=nan GMST (analysis)=-0.589 GMST (MAT)=-0.668 GMST (LAT)=-0.59</text>
<path d="M695.3,1531.7 L2104,1531.7 L2104,1609.4 L695.3,1609.4 L695.3,1531.7 L695.3,1531.7Z" fill="url(#cb)" stroke="none"/>
<path d="M695.8,1531.7 L624.5,1570.6 L695.8,1609.4Z" fill="#0000ff"/>
<path d="M2103.5,1531.7 L2175.5,1570.6 L2103.5,1609.4Z" fill="#ff0000"/>
<path d="M695.3,1531.7 L2104,1531.7 L2175.5,1570.6 L2104,1609.4 L695.3,1609.4 L624.5,1570.6Z" fill="none" stroke="#000" stroke-width="5.4" stroke-linejoin="miter"/>
<path d="M695.3,1609.4 V1634.5" stroke="#000" stroke-width="5.1"/>
<text x="695.3" y="1680" font-size="44.2" text-anchor="middle" textLength="43" lengthAdjust="spacingAndGlyphs">−6</text>
<path d="M930.1,1609.4 V1634.5" stroke="#000" stroke-width="5.1"/>
<text x="930.1" y="1680" font-size="44.2" text-anchor="middle" textLength="43" lengthAdjust="spacingAndGlyphs">−4</text>
<path d="M1164.9,1609.4 V1634.5" stroke="#000" stroke-width="5.1"/>
<text x="1164.9" y="1680" font-size="44.2" text-anchor="middle" textLength="43" lengthAdjust="spacingAndGlyphs">−2</text>
<path d="M1399.7,1609.4 V1634.5" stroke="#000" stroke-width="5.1"/>
<text x="1399.7" y="1680" font-size="44.2" text-anchor="middle" textLength="21.5" lengthAdjust="spacingAndGlyphs">0</text>
<path d="M1634.4,1609.4 V1634.5" stroke="#000" stroke-width="5.1"/>
<text x="1634.4" y="1680" font-size="44.2" text-anchor="middle" textLength="21.5" lengthAdjust="spacingAndGlyphs">2</text>
<path d="M1869.2,1609.4 V1634.5" stroke="#000" stroke-width="5.1"/>
<text x="1869.2" y="1680" font-size="44.2" text-anchor="middle" textLength="21.5" lengthAdjust="spacingAndGlyphs">4</text>
<path d="M2104,1609.4 V1634.5" stroke="#000" stroke-width="5.1"/>
<text x="2104" y="1680" font-size="44.2" text-anchor="middle" textLength="21.5" lengthAdjust="spacingAndGlyphs">6</text>
<text x="1399.9" y="1739.9" font-size="44.2" text-anchor="middle" textLength="565" lengthAdjust="spacingAndGlyphs">Anomaly (from 1961-1990), °C</text>
<text class="b" x="683.2" y="1806.4" font-size="33" textLength="85.5" lengthAdjust="spacingAndGlyphs">Data</text>
<text x="768.7" y="1806.4" font-size="33" textLength="1263.7" lengthAdjust="spacingAndGlyphs" xml:space="preserve"> (analysis □): GloSATref.1.0.0.0-alpha.4 infilled ens median (UKMO-HC): N=1146/2592</text>
<text class="b" x="683.2" y="1846.2" font-size="33" textLength="85.5" lengthAdjust="spacingAndGlyphs">Data</text>
<text x="768.7" y="1846.2" font-size="33" textLength="915.6" lengthAdjust="spacingAndGlyphs" xml:space="preserve"> (MAT ▫): GloSATMAT.2.4.0.0 ens median (NOC): N=334/2592</text>
<text class="b" x="683.2" y="1886" font-size="33" textLength="85.5" lengthAdjust="spacingAndGlyphs">Data</text>
<text x="768.7" y="1886" font-size="33" textLength="1313.4" lengthAdjust="spacingAndGlyphs" xml:space="preserve"> (LAT ○): GloSAT.p04c.EBC.LEKnormals (CRU/UEA, UYork): N=103/2592 N(stations)=189</text>
<text class="b" x="683.2" y="1925.9" font-size="33" textLength="85.5" lengthAdjust="spacingAndGlyphs">Data</text>
<text x="768.7" y="1925.9" font-size="33" textLength="929" lengthAdjust="spacingAndGlyphs" xml:space="preserve"> (NAO): 1781-1820 (Juerg Luterbacher), 1821-2022 (Phil Jones)</text>
<text class="b" x="683.2" y="1965.7" font-size="33" textLength="85.5" lengthAdjust="spacingAndGlyphs">Data</text>
<text x="768.7" y="1965.7" font-size="33" textLength="434.5" lengthAdjust="spacingAndGlyphs" xml:space="preserve"> (SOI): 1866-2022 (Phil Jones)</text>
<text class="b" x="683.2" y="2005.5" font-size="33" textLength="141.5" lengthAdjust="spacingAndGlyphs">Graphic</text>
<text x="824.7" y="2005.5" font-size="33" textLength="622.1" lengthAdjust="spacingAndGlyphs" xml:space="preserve">: Michael Taylor, CRU/UEA -- 07/03/2023</text>
</svg></body></html>
